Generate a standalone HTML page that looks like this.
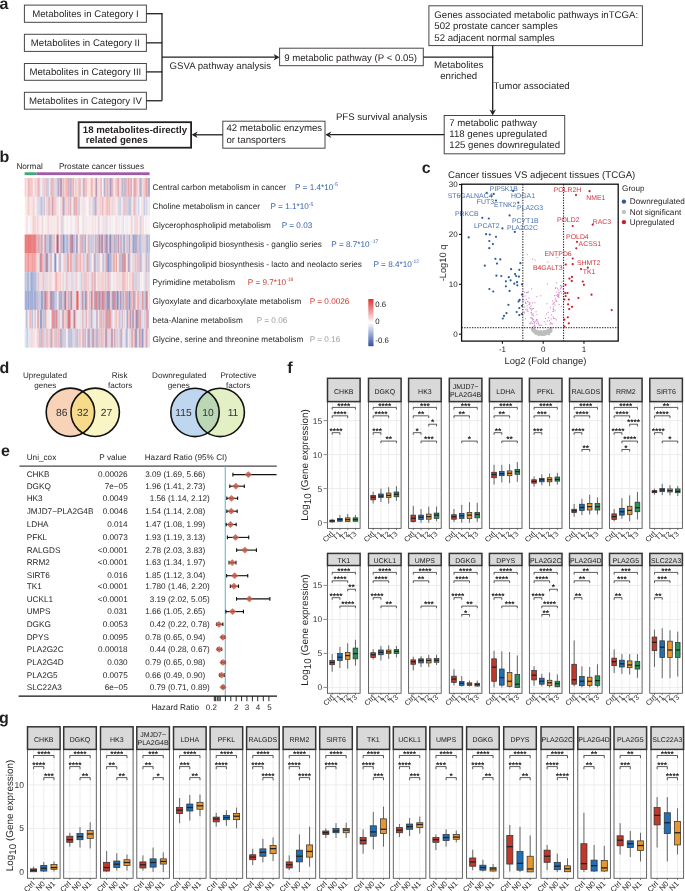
<!DOCTYPE html>
<html><head><meta charset="utf-8"><style>
html,body{margin:0;padding:0;background:#fff;}
svg{display:block;font-family:"Liberation Sans", sans-serif;text-rendering:geometricPrecision;will-change:transform;}
</style></head><body>
<svg width="685" height="891" viewBox="0 0 685 891">
<rect width="685" height="891" fill="#fff"/>
<text x="-0.60" y="8.80" font-size="16" font-weight="bold" fill="#231f20">a</text>
<rect x="24.40" y="5.10" width="122.00" height="17.20" fill="white" stroke="#4a4446" stroke-width="1"/>
<text x="85.40" y="17.10" font-size="9.65" text-anchor="middle" fill="#231f20">Metabolites in Category I</text>
<line x1="146.40" y1="13.70" x2="162.30" y2="13.70" stroke="#231f20" stroke-width="1.3"/>
<rect x="24.40" y="34.30" width="122.00" height="17.10" fill="white" stroke="#4a4446" stroke-width="1"/>
<text x="85.40" y="46.25" font-size="9.65" text-anchor="middle" fill="#231f20">Metabolites in Category II</text>
<line x1="146.40" y1="42.85" x2="162.30" y2="42.85" stroke="#231f20" stroke-width="1.3"/>
<rect x="24.40" y="63.50" width="122.00" height="16.80" fill="white" stroke="#4a4446" stroke-width="1"/>
<text x="85.40" y="75.30" font-size="9.65" text-anchor="middle" fill="#231f20">Metabolites in Category III</text>
<line x1="146.40" y1="71.90" x2="162.30" y2="71.90" stroke="#231f20" stroke-width="1.3"/>
<rect x="24.40" y="92.30" width="122.00" height="16.90" fill="white" stroke="#4a4446" stroke-width="1"/>
<text x="85.40" y="104.15" font-size="9.65" text-anchor="middle" fill="#231f20">Metabolites in Category IV</text>
<line x1="146.40" y1="100.75" x2="162.30" y2="100.75" stroke="#231f20" stroke-width="1.3"/>
<line x1="162.00" y1="13.10" x2="162.00" y2="100.30" stroke="#231f20" stroke-width="1.3"/>
<line x1="162.00" y1="57.20" x2="276.00" y2="57.20" stroke="#231f20" stroke-width="1.3"/>
<path d="M279.60,57.20 L273.60,54.00 L275.40,57.20 L273.60,60.40 Z" fill="#231f20"/>
<text x="169.60" y="68.90" font-size="9.65" fill="#231f20">GSVA pathway analysis</text>
<rect x="279.60" y="48.20" width="143.70" height="17.50" fill="white" stroke="#4a4446" stroke-width="1"/>
<text x="284.20" y="60.50" font-size="9.65" fill="#231f20">9 metabolic pathway (P &lt; 0.05)</text>
<line x1="423.30" y1="57.20" x2="493.40" y2="57.20" stroke="#231f20" stroke-width="1.3"/>
<rect x="428.90" y="5.80" width="213.50" height="39.80" fill="white" stroke="#4a4446" stroke-width="1"/>
<text x="434.30" y="18.30" font-size="9.65" fill="#231f20">Genes associated metabolic pathways inTCGA:</text>
<text x="434.30" y="29.40" font-size="9.65" fill="#231f20">502 prostate cancer samples</text>
<text x="434.30" y="40.50" font-size="9.65" fill="#231f20">52 adjacent normal samples</text>
<line x1="492.70" y1="45.60" x2="492.70" y2="111.00" stroke="#231f20" stroke-width="1.3"/>
<path d="M492.70,115.40 L489.50,109.40 L492.70,111.20 L495.90,109.40 Z" fill="#231f20"/>
<text x="458.70" y="67.80" font-size="9.65" text-anchor="middle" fill="#231f20">Metabolites</text>
<text x="458.70" y="79.30" font-size="9.65" text-anchor="middle" fill="#231f20">enriched</text>
<text x="493.50" y="89.20" font-size="9.65" fill="#231f20">Tumor associated</text>
<rect x="444.20" y="115.50" width="120.50" height="38.30" fill="white" stroke="#4a4446" stroke-width="1"/>
<text x="449.30" y="126.40" font-size="9.65" fill="#231f20">7 metabolic pathway</text>
<text x="449.30" y="137.00" font-size="9.65" fill="#231f20">118 genes upregulated</text>
<text x="449.30" y="147.80" font-size="9.65" fill="#231f20">125 genes downregulated</text>
<line x1="444.20" y1="134.70" x2="330.00" y2="134.70" stroke="#231f20" stroke-width="1.3"/>
<path d="M325.30,134.70 L331.30,131.50 L329.50,134.70 L331.30,137.90 Z" fill="#231f20"/>
<text x="335.90" y="120.20" font-size="9.65" fill="#231f20">PFS survival analysis</text>
<rect x="222.80" y="121.20" width="102.20" height="27.00" fill="white" stroke="#4a4446" stroke-width="1"/>
<text x="226.40" y="131.20" font-size="9.65" fill="#231f20">42 metabolic enzymes</text>
<text x="226.40" y="142.80" font-size="9.65" fill="#231f20">or tansporters</text>
<line x1="222.80" y1="134.80" x2="196.00" y2="134.80" stroke="#231f20" stroke-width="1.3"/>
<path d="M191.60,134.80 L197.60,131.60 L195.80,134.80 L197.60,138.00 Z" fill="#231f20"/>
<rect x="78.60" y="122.20" width="112.50" height="25.50" fill="white" stroke="#231f20" stroke-width="1.8"/>
<text x="82.80" y="132.60" font-size="9.65" font-weight="bold" fill="#231f20">18 metabolites-directly</text>
<text x="85.70" y="143.20" font-size="9.65" font-weight="bold" fill="#231f20">related genes</text>
<text x="-0.60" y="162.20" font-size="16" font-weight="bold" fill="#231f20">b</text>
<text x="16.40" y="168.60" font-size="8.2" fill="#231f20">Normal</text>
<text x="58.90" y="168.60" font-size="8.2" fill="#231f20">Prostate cancer tissues</text>
<rect x="24.60" y="172.30" width="11.80" height="2.80" fill="#3aaa7a" stroke="none" stroke-width="1"/>
<rect x="36.40" y="172.30" width="113.20" height="2.80" fill="#a15aa8" stroke="none" stroke-width="1"/>
<rect x="24.70" y="178.00" width="1.02" height="18.86" fill="rgb(246,193,193)"/>
<rect x="25.70" y="178.00" width="1.02" height="18.86" fill="rgb(249,212,212)"/>
<rect x="26.70" y="178.00" width="1.02" height="18.86" fill="rgb(251,227,227)"/>
<rect x="27.70" y="178.00" width="1.02" height="18.86" fill="rgb(242,162,162)"/>
<rect x="28.70" y="178.00" width="1.02" height="18.86" fill="rgb(242,168,168)"/>
<rect x="29.70" y="178.00" width="1.02" height="18.86" fill="rgb(245,185,185)"/>
<rect x="30.70" y="178.00" width="1.02" height="18.86" fill="rgb(235,196,201)"/>
<rect x="31.70" y="178.00" width="1.02" height="18.86" fill="rgb(243,175,175)"/>
<rect x="32.70" y="178.00" width="1.02" height="18.86" fill="rgb(227,231,242)"/>
<rect x="33.70" y="178.00" width="1.02" height="18.86" fill="rgb(251,232,232)"/>
<rect x="34.70" y="178.00" width="1.02" height="18.86" fill="rgb(246,193,193)"/>
<rect x="35.70" y="178.00" width="1.02" height="18.86" fill="rgb(247,202,202)"/>
<rect x="36.70" y="178.00" width="1.02" height="18.86" fill="rgb(248,210,210)"/>
<rect x="37.70" y="178.00" width="1.02" height="18.86" fill="rgb(222,155,164)"/>
<rect x="38.70" y="178.00" width="1.02" height="18.86" fill="rgb(242,165,165)"/>
<rect x="39.70" y="178.00" width="1.02" height="18.86" fill="rgb(211,217,235)"/>
<rect x="40.70" y="178.00" width="1.02" height="18.86" fill="rgb(246,245,249)"/>
<rect x="41.70" y="178.00" width="1.02" height="18.86" fill="rgb(247,203,203)"/>
<rect x="42.70" y="178.00" width="1.02" height="18.86" fill="rgb(209,215,234)"/>
<rect x="43.70" y="178.00" width="1.02" height="18.86" fill="rgb(231,182,188)"/>
<rect x="44.70" y="178.00" width="1.02" height="18.86" fill="rgb(225,213,225)"/>
<rect x="45.70" y="178.00" width="1.02" height="18.86" fill="rgb(195,181,204)"/>
<rect x="46.70" y="178.00" width="1.02" height="18.86" fill="rgb(244,182,182)"/>
<rect x="47.70" y="178.00" width="1.02" height="18.86" fill="rgb(169,181,216)"/>
<rect x="48.70" y="178.00" width="1.02" height="18.86" fill="rgb(226,228,240)"/>
<rect x="49.70" y="178.00" width="1.02" height="18.86" fill="rgb(250,222,222)"/>
<rect x="50.70" y="178.00" width="1.02" height="18.86" fill="rgb(193,164,187)"/>
<rect x="51.70" y="178.00" width="1.02" height="18.86" fill="rgb(243,171,171)"/>
<rect x="52.70" y="178.00" width="1.02" height="18.86" fill="rgb(242,163,163)"/>
<rect x="53.70" y="178.00" width="1.02" height="18.86" fill="rgb(205,201,221)"/>
<rect x="54.70" y="178.00" width="1.02" height="18.86" fill="rgb(231,205,212)"/>
<rect x="55.70" y="178.00" width="1.02" height="18.86" fill="rgb(195,204,228)"/>
<rect x="56.70" y="178.00" width="1.02" height="18.86" fill="rgb(205,212,232)"/>
<rect x="57.70" y="178.00" width="1.02" height="18.86" fill="rgb(167,124,157)"/>
<rect x="58.70" y="178.00" width="1.02" height="18.86" fill="rgb(197,190,213)"/>
<rect x="59.70" y="178.00" width="1.02" height="18.86" fill="rgb(240,154,154)"/>
<rect x="60.70" y="178.00" width="1.02" height="18.86" fill="rgb(81,105,177)"/>
<rect x="61.70" y="178.00" width="1.02" height="18.86" fill="rgb(227,211,221)"/>
<rect x="62.70" y="178.00" width="1.02" height="18.86" fill="rgb(207,170,187)"/>
<rect x="63.70" y="178.00" width="1.02" height="18.86" fill="rgb(245,186,186)"/>
<rect x="64.70" y="178.00" width="1.02" height="18.86" fill="rgb(248,211,211)"/>
<rect x="65.70" y="178.00" width="1.02" height="18.86" fill="rgb(239,145,145)"/>
<rect x="66.70" y="178.00" width="1.02" height="18.86" fill="rgb(246,195,195)"/>
<rect x="67.70" y="178.00" width="1.02" height="18.86" fill="rgb(186,141,166)"/>
<rect x="68.70" y="178.00" width="1.02" height="18.86" fill="rgb(244,177,177)"/>
<rect x="69.70" y="178.00" width="1.02" height="18.86" fill="rgb(158,171,211)"/>
<rect x="70.70" y="178.00" width="1.02" height="18.86" fill="rgb(179,151,180)"/>
<rect x="71.70" y="178.00" width="1.02" height="18.86" fill="rgb(246,203,203)"/>
<rect x="72.70" y="178.00" width="1.02" height="18.86" fill="rgb(195,136,156)"/>
<rect x="73.70" y="178.00" width="1.02" height="18.86" fill="rgb(250,223,223)"/>
<rect x="74.70" y="178.00" width="1.02" height="18.86" fill="rgb(247,199,199)"/>
<rect x="75.70" y="178.00" width="1.02" height="18.86" fill="rgb(245,186,186)"/>
<rect x="76.70" y="178.00" width="1.02" height="18.86" fill="rgb(223,227,240)"/>
<rect x="77.70" y="178.00" width="1.02" height="18.86" fill="rgb(246,195,195)"/>
<rect x="78.70" y="178.00" width="1.02" height="18.86" fill="rgb(217,181,193)"/>
<rect x="79.70" y="178.00" width="1.02" height="18.86" fill="rgb(233,174,179)"/>
<rect x="80.70" y="178.00" width="1.02" height="18.86" fill="rgb(203,209,230)"/>
<rect x="81.70" y="178.00" width="1.02" height="18.86" fill="rgb(249,249,251)"/>
<rect x="82.70" y="178.00" width="1.02" height="18.86" fill="rgb(208,155,171)"/>
<rect x="83.70" y="178.00" width="1.02" height="18.86" fill="rgb(199,153,172)"/>
<rect x="84.70" y="178.00" width="1.02" height="18.86" fill="rgb(223,198,208)"/>
<rect x="85.70" y="178.00" width="1.02" height="18.86" fill="rgb(241,155,155)"/>
<rect x="86.70" y="178.00" width="1.02" height="18.86" fill="rgb(250,220,220)"/>
<rect x="87.70" y="178.00" width="1.02" height="18.86" fill="rgb(248,209,209)"/>
<rect x="88.70" y="178.00" width="1.02" height="18.86" fill="rgb(251,235,235)"/>
<rect x="89.70" y="178.00" width="1.02" height="18.86" fill="rgb(249,216,216)"/>
<rect x="90.70" y="178.00" width="1.02" height="18.86" fill="rgb(245,183,183)"/>
<rect x="91.70" y="178.00" width="1.02" height="18.86" fill="rgb(238,140,140)"/>
<rect x="92.70" y="178.00" width="1.02" height="18.86" fill="rgb(234,237,245)"/>
<rect x="93.70" y="178.00" width="1.02" height="18.86" fill="rgb(247,201,201)"/>
<rect x="94.70" y="178.00" width="1.02" height="18.86" fill="rgb(244,225,228)"/>
<rect x="95.70" y="178.00" width="1.02" height="18.86" fill="rgb(141,81,123)"/>
<rect x="96.70" y="178.00" width="1.02" height="18.86" fill="rgb(211,202,219)"/>
<rect x="97.70" y="178.00" width="1.02" height="18.86" fill="rgb(249,213,213)"/>
<rect x="98.70" y="178.00" width="1.02" height="18.86" fill="rgb(238,209,214)"/>
<rect x="99.70" y="178.00" width="1.02" height="18.86" fill="rgb(237,222,229)"/>
<rect x="100.70" y="178.00" width="1.02" height="18.86" fill="rgb(237,129,129)"/>
<rect x="101.70" y="178.00" width="1.02" height="18.86" fill="rgb(237,238,244)"/>
<rect x="102.70" y="178.00" width="1.02" height="18.86" fill="rgb(251,248,249)"/>
<rect x="103.70" y="178.00" width="1.02" height="18.86" fill="rgb(139,155,203)"/>
<rect x="104.70" y="178.00" width="1.02" height="18.86" fill="rgb(205,167,185)"/>
<rect x="105.70" y="178.00" width="1.02" height="18.86" fill="rgb(247,202,202)"/>
<rect x="106.70" y="178.00" width="1.02" height="18.86" fill="rgb(238,139,139)"/>
<rect x="107.70" y="178.00" width="1.02" height="18.86" fill="rgb(181,191,222)"/>
<rect x="108.70" y="178.00" width="1.02" height="18.86" fill="rgb(242,214,217)"/>
<rect x="109.70" y="178.00" width="1.02" height="18.86" fill="rgb(145,113,155)"/>
<rect x="110.70" y="178.00" width="1.02" height="18.86" fill="rgb(193,154,176)"/>
<rect x="111.70" y="178.00" width="1.02" height="18.86" fill="rgb(193,170,193)"/>
<rect x="112.70" y="178.00" width="1.02" height="18.86" fill="rgb(244,182,182)"/>
<rect x="113.70" y="178.00" width="1.02" height="18.86" fill="rgb(252,239,239)"/>
<rect x="114.70" y="178.00" width="1.02" height="18.86" fill="rgb(247,200,200)"/>
<rect x="115.70" y="178.00" width="1.02" height="18.86" fill="rgb(244,178,178)"/>
<rect x="116.70" y="178.00" width="1.02" height="18.86" fill="rgb(242,198,200)"/>
<rect x="117.70" y="178.00" width="1.02" height="18.86" fill="rgb(198,115,132)"/>
<rect x="118.70" y="178.00" width="1.02" height="18.86" fill="rgb(244,204,206)"/>
<rect x="119.70" y="178.00" width="1.02" height="18.86" fill="rgb(248,205,205)"/>
<rect x="120.70" y="178.00" width="1.02" height="18.86" fill="rgb(247,204,204)"/>
<rect x="121.70" y="178.00" width="1.02" height="18.86" fill="rgb(140,155,203)"/>
<rect x="122.70" y="178.00" width="1.02" height="18.86" fill="rgb(216,192,206)"/>
<rect x="123.70" y="178.00" width="1.02" height="18.86" fill="rgb(162,175,213)"/>
<rect x="124.70" y="178.00" width="1.02" height="18.86" fill="rgb(240,154,154)"/>
<rect x="125.70" y="178.00" width="1.02" height="18.86" fill="rgb(212,156,169)"/>
<rect x="126.70" y="178.00" width="1.02" height="18.86" fill="rgb(212,212,229)"/>
<rect x="127.70" y="178.00" width="1.02" height="18.86" fill="rgb(238,139,139)"/>
<rect x="128.70" y="178.00" width="1.02" height="18.86" fill="rgb(213,154,166)"/>
<rect x="129.70" y="178.00" width="1.02" height="18.86" fill="rgb(247,204,205)"/>
<rect x="130.70" y="178.00" width="1.02" height="18.86" fill="rgb(168,121,153)"/>
<rect x="131.70" y="178.00" width="1.02" height="18.86" fill="rgb(235,236,243)"/>
<rect x="132.70" y="178.00" width="1.02" height="18.86" fill="rgb(248,206,206)"/>
<rect x="133.70" y="178.00" width="1.02" height="18.86" fill="rgb(208,152,167)"/>
<rect x="134.70" y="178.00" width="1.02" height="18.86" fill="rgb(237,128,128)"/>
<rect x="135.70" y="178.00" width="1.02" height="18.86" fill="rgb(244,184,185)"/>
<rect x="136.70" y="178.00" width="1.02" height="18.86" fill="rgb(223,182,193)"/>
<rect x="137.70" y="178.00" width="1.02" height="18.86" fill="rgb(251,230,230)"/>
<rect x="138.70" y="178.00" width="1.02" height="18.86" fill="rgb(241,182,184)"/>
<rect x="139.70" y="178.00" width="1.02" height="18.86" fill="rgb(155,168,210)"/>
<rect x="140.70" y="178.00" width="1.02" height="18.86" fill="rgb(177,151,180)"/>
<rect x="141.70" y="178.00" width="1.02" height="18.86" fill="rgb(233,217,225)"/>
<rect x="142.70" y="178.00" width="1.02" height="18.86" fill="rgb(248,205,205)"/>
<rect x="143.70" y="178.00" width="1.02" height="18.86" fill="rgb(244,180,180)"/>
<rect x="144.70" y="178.00" width="1.02" height="18.86" fill="rgb(247,198,198)"/>
<rect x="145.70" y="178.00" width="1.02" height="18.86" fill="rgb(234,107,107)"/>
<rect x="146.70" y="178.00" width="1.02" height="18.86" fill="rgb(227,191,200)"/>
<rect x="147.70" y="178.00" width="1.02" height="18.86" fill="rgb(143,158,204)"/>
<rect x="148.70" y="178.00" width="1.02" height="18.86" fill="rgb(171,136,167)"/>
<rect x="24.70" y="196.84" width="1.02" height="18.86" fill="rgb(248,234,236)"/>
<rect x="25.70" y="196.84" width="1.02" height="18.86" fill="rgb(250,224,224)"/>
<rect x="26.70" y="196.84" width="1.02" height="18.86" fill="rgb(251,226,226)"/>
<rect x="27.70" y="196.84" width="1.02" height="18.86" fill="rgb(245,188,188)"/>
<rect x="28.70" y="196.84" width="1.02" height="18.86" fill="rgb(246,194,194)"/>
<rect x="29.70" y="196.84" width="1.02" height="18.86" fill="rgb(248,237,239)"/>
<rect x="30.70" y="196.84" width="1.02" height="18.86" fill="rgb(248,211,211)"/>
<rect x="31.70" y="196.84" width="1.02" height="18.86" fill="rgb(243,238,243)"/>
<rect x="32.70" y="196.84" width="1.02" height="18.86" fill="rgb(245,189,189)"/>
<rect x="33.70" y="196.84" width="1.02" height="18.86" fill="rgb(248,206,206)"/>
<rect x="34.70" y="196.84" width="1.02" height="18.86" fill="rgb(249,232,233)"/>
<rect x="35.70" y="196.84" width="1.02" height="18.86" fill="rgb(244,240,244)"/>
<rect x="36.70" y="196.84" width="1.02" height="18.86" fill="rgb(234,206,212)"/>
<rect x="37.70" y="196.84" width="1.02" height="18.86" fill="rgb(205,212,232)"/>
<rect x="38.70" y="196.84" width="1.02" height="18.86" fill="rgb(205,212,233)"/>
<rect x="39.70" y="196.84" width="1.02" height="18.86" fill="rgb(216,207,222)"/>
<rect x="40.70" y="196.84" width="1.02" height="18.86" fill="rgb(176,174,205)"/>
<rect x="41.70" y="196.84" width="1.02" height="18.86" fill="rgb(174,185,218)"/>
<rect x="42.70" y="196.84" width="1.02" height="18.86" fill="rgb(245,221,223)"/>
<rect x="43.70" y="196.84" width="1.02" height="18.86" fill="rgb(156,170,210)"/>
<rect x="44.70" y="196.84" width="1.02" height="18.86" fill="rgb(240,231,236)"/>
<rect x="45.70" y="196.84" width="1.02" height="18.86" fill="rgb(246,195,195)"/>
<rect x="46.70" y="196.84" width="1.02" height="18.86" fill="rgb(249,213,213)"/>
<rect x="47.70" y="196.84" width="1.02" height="18.86" fill="rgb(244,179,179)"/>
<rect x="48.70" y="196.84" width="1.02" height="18.86" fill="rgb(185,178,205)"/>
<rect x="49.70" y="196.84" width="1.02" height="18.86" fill="rgb(243,171,171)"/>
<rect x="50.70" y="196.84" width="1.02" height="18.86" fill="rgb(235,238,246)"/>
<rect x="51.70" y="196.84" width="1.02" height="18.86" fill="rgb(189,136,159)"/>
<rect x="52.70" y="196.84" width="1.02" height="18.86" fill="rgb(240,148,148)"/>
<rect x="53.70" y="196.84" width="1.02" height="18.86" fill="rgb(223,203,215)"/>
<rect x="54.70" y="196.84" width="1.02" height="18.86" fill="rgb(244,185,186)"/>
<rect x="55.70" y="196.84" width="1.02" height="18.86" fill="rgb(246,197,197)"/>
<rect x="56.70" y="196.84" width="1.02" height="18.86" fill="rgb(227,231,242)"/>
<rect x="57.70" y="196.84" width="1.02" height="18.86" fill="rgb(248,209,209)"/>
<rect x="58.70" y="196.84" width="1.02" height="18.86" fill="rgb(251,249,251)"/>
<rect x="59.70" y="196.84" width="1.02" height="18.86" fill="rgb(215,220,237)"/>
<rect x="60.70" y="196.84" width="1.02" height="18.86" fill="rgb(249,213,213)"/>
<rect x="61.70" y="196.84" width="1.02" height="18.86" fill="rgb(204,211,232)"/>
<rect x="62.70" y="196.84" width="1.02" height="18.86" fill="rgb(235,116,116)"/>
<rect x="63.70" y="196.84" width="1.02" height="18.86" fill="rgb(167,156,191)"/>
<rect x="64.70" y="196.84" width="1.02" height="18.86" fill="rgb(248,210,210)"/>
<rect x="65.70" y="196.84" width="1.02" height="18.86" fill="rgb(243,175,175)"/>
<rect x="66.70" y="196.84" width="1.02" height="18.86" fill="rgb(251,232,232)"/>
<rect x="67.70" y="196.84" width="1.02" height="18.86" fill="rgb(187,162,187)"/>
<rect x="68.70" y="196.84" width="1.02" height="18.86" fill="rgb(232,222,231)"/>
<rect x="69.70" y="196.84" width="1.02" height="18.86" fill="rgb(238,139,139)"/>
<rect x="70.70" y="196.84" width="1.02" height="18.86" fill="rgb(191,200,226)"/>
<rect x="71.70" y="196.84" width="1.02" height="18.86" fill="rgb(251,231,231)"/>
<rect x="72.70" y="196.84" width="1.02" height="18.86" fill="rgb(215,220,237)"/>
<rect x="73.70" y="196.84" width="1.02" height="18.86" fill="rgb(238,139,139)"/>
<rect x="74.70" y="196.84" width="1.02" height="18.86" fill="rgb(175,186,219)"/>
<rect x="75.70" y="196.84" width="1.02" height="18.86" fill="rgb(241,155,155)"/>
<rect x="76.70" y="196.84" width="1.02" height="18.86" fill="rgb(241,157,157)"/>
<rect x="77.70" y="196.84" width="1.02" height="18.86" fill="rgb(227,220,230)"/>
<rect x="78.70" y="196.84" width="1.02" height="18.86" fill="rgb(163,176,213)"/>
<rect x="79.70" y="196.84" width="1.02" height="18.86" fill="rgb(251,232,232)"/>
<rect x="80.70" y="196.84" width="1.02" height="18.86" fill="rgb(232,235,245)"/>
<rect x="81.70" y="196.84" width="1.02" height="18.86" fill="rgb(249,219,219)"/>
<rect x="82.70" y="196.84" width="1.02" height="18.86" fill="rgb(249,218,218)"/>
<rect x="83.70" y="196.84" width="1.02" height="18.86" fill="rgb(243,217,220)"/>
<rect x="84.70" y="196.84" width="1.02" height="18.86" fill="rgb(229,228,238)"/>
<rect x="85.70" y="196.84" width="1.02" height="18.86" fill="rgb(236,236,243)"/>
<rect x="86.70" y="196.84" width="1.02" height="18.86" fill="rgb(253,245,245)"/>
<rect x="87.70" y="196.84" width="1.02" height="18.86" fill="rgb(253,242,242)"/>
<rect x="88.70" y="196.84" width="1.02" height="18.86" fill="rgb(214,220,236)"/>
<rect x="89.70" y="196.84" width="1.02" height="18.86" fill="rgb(246,197,197)"/>
<rect x="90.70" y="196.84" width="1.02" height="18.86" fill="rgb(249,233,235)"/>
<rect x="91.70" y="196.84" width="1.02" height="18.86" fill="rgb(223,210,223)"/>
<rect x="92.70" y="196.84" width="1.02" height="18.86" fill="rgb(193,197,222)"/>
<rect x="93.70" y="196.84" width="1.02" height="18.86" fill="rgb(222,201,213)"/>
<rect x="94.70" y="196.84" width="1.02" height="18.86" fill="rgb(136,152,201)"/>
<rect x="95.70" y="196.84" width="1.02" height="18.86" fill="rgb(215,169,182)"/>
<rect x="96.70" y="196.84" width="1.02" height="18.86" fill="rgb(202,209,231)"/>
<rect x="97.70" y="196.84" width="1.02" height="18.86" fill="rgb(229,214,223)"/>
<rect x="98.70" y="196.84" width="1.02" height="18.86" fill="rgb(250,224,224)"/>
<rect x="99.70" y="196.84" width="1.02" height="18.86" fill="rgb(243,172,172)"/>
<rect x="100.70" y="196.84" width="1.02" height="18.86" fill="rgb(251,228,228)"/>
<rect x="101.70" y="196.84" width="1.02" height="18.86" fill="rgb(241,157,157)"/>
<rect x="102.70" y="196.84" width="1.02" height="18.86" fill="rgb(216,187,201)"/>
<rect x="103.70" y="196.84" width="1.02" height="18.86" fill="rgb(249,224,225)"/>
<rect x="104.70" y="196.84" width="1.02" height="18.86" fill="rgb(242,208,211)"/>
<rect x="105.70" y="196.84" width="1.02" height="18.86" fill="rgb(246,196,196)"/>
<rect x="106.70" y="196.84" width="1.02" height="18.86" fill="rgb(238,160,161)"/>
<rect x="107.70" y="196.84" width="1.02" height="18.86" fill="rgb(244,205,207)"/>
<rect x="108.70" y="196.84" width="1.02" height="18.86" fill="rgb(241,155,155)"/>
<rect x="109.70" y="196.84" width="1.02" height="18.86" fill="rgb(242,214,217)"/>
<rect x="110.70" y="196.84" width="1.02" height="18.86" fill="rgb(249,214,214)"/>
<rect x="111.70" y="196.84" width="1.02" height="18.86" fill="rgb(217,213,228)"/>
<rect x="112.70" y="196.84" width="1.02" height="18.86" fill="rgb(246,196,196)"/>
<rect x="113.70" y="196.84" width="1.02" height="18.86" fill="rgb(250,220,220)"/>
<rect x="114.70" y="196.84" width="1.02" height="18.86" fill="rgb(247,200,200)"/>
<rect x="115.70" y="196.84" width="1.02" height="18.86" fill="rgb(252,239,239)"/>
<rect x="116.70" y="196.84" width="1.02" height="18.86" fill="rgb(246,223,225)"/>
<rect x="117.70" y="196.84" width="1.02" height="18.86" fill="rgb(204,211,232)"/>
<rect x="118.70" y="196.84" width="1.02" height="18.86" fill="rgb(208,211,230)"/>
<rect x="119.70" y="196.84" width="1.02" height="18.86" fill="rgb(179,189,220)"/>
<rect x="120.70" y="196.84" width="1.02" height="18.86" fill="rgb(232,214,223)"/>
<rect x="121.70" y="196.84" width="1.02" height="18.86" fill="rgb(251,230,230)"/>
<rect x="122.70" y="196.84" width="1.02" height="18.86" fill="rgb(205,212,233)"/>
<rect x="123.70" y="196.84" width="1.02" height="18.86" fill="rgb(242,167,167)"/>
<rect x="124.70" y="196.84" width="1.02" height="18.86" fill="rgb(222,191,201)"/>
<rect x="125.70" y="196.84" width="1.02" height="18.86" fill="rgb(193,202,227)"/>
<rect x="126.70" y="196.84" width="1.02" height="18.86" fill="rgb(245,188,188)"/>
<rect x="127.70" y="196.84" width="1.02" height="18.86" fill="rgb(193,200,226)"/>
<rect x="128.70" y="196.84" width="1.02" height="18.86" fill="rgb(195,181,204)"/>
<rect x="129.70" y="196.84" width="1.02" height="18.86" fill="rgb(163,176,214)"/>
<rect x="130.70" y="196.84" width="1.02" height="18.86" fill="rgb(193,201,227)"/>
<rect x="131.70" y="196.84" width="1.02" height="18.86" fill="rgb(252,238,238)"/>
<rect x="132.70" y="196.84" width="1.02" height="18.86" fill="rgb(247,202,202)"/>
<rect x="133.70" y="196.84" width="1.02" height="18.86" fill="rgb(241,156,156)"/>
<rect x="134.70" y="196.84" width="1.02" height="18.86" fill="rgb(200,207,230)"/>
<rect x="135.70" y="196.84" width="1.02" height="18.86" fill="rgb(189,198,225)"/>
<rect x="136.70" y="196.84" width="1.02" height="18.86" fill="rgb(254,250,250)"/>
<rect x="137.70" y="196.84" width="1.02" height="18.86" fill="rgb(201,191,212)"/>
<rect x="138.70" y="196.84" width="1.02" height="18.86" fill="rgb(216,219,235)"/>
<rect x="139.70" y="196.84" width="1.02" height="18.86" fill="rgb(244,245,250)"/>
<rect x="140.70" y="196.84" width="1.02" height="18.86" fill="rgb(232,234,243)"/>
<rect x="141.70" y="196.84" width="1.02" height="18.86" fill="rgb(248,211,211)"/>
<rect x="142.70" y="196.84" width="1.02" height="18.86" fill="rgb(235,237,245)"/>
<rect x="143.70" y="196.84" width="1.02" height="18.86" fill="rgb(163,176,214)"/>
<rect x="144.70" y="196.84" width="1.02" height="18.86" fill="rgb(224,224,236)"/>
<rect x="145.70" y="196.84" width="1.02" height="18.86" fill="rgb(206,203,223)"/>
<rect x="146.70" y="196.84" width="1.02" height="18.86" fill="rgb(210,209,227)"/>
<rect x="147.70" y="196.84" width="1.02" height="18.86" fill="rgb(242,244,249)"/>
<rect x="148.70" y="196.84" width="1.02" height="18.86" fill="rgb(248,211,211)"/>
<rect x="24.70" y="215.68" width="1.02" height="18.86" fill="rgb(252,241,241)"/>
<rect x="25.70" y="215.68" width="1.02" height="18.86" fill="rgb(251,231,231)"/>
<rect x="26.70" y="215.68" width="1.02" height="18.86" fill="rgb(248,209,209)"/>
<rect x="27.70" y="215.68" width="1.02" height="18.86" fill="rgb(245,245,249)"/>
<rect x="28.70" y="215.68" width="1.02" height="18.86" fill="rgb(253,246,246)"/>
<rect x="29.70" y="215.68" width="1.02" height="18.86" fill="rgb(248,238,240)"/>
<rect x="30.70" y="215.68" width="1.02" height="18.86" fill="rgb(252,234,234)"/>
<rect x="31.70" y="215.68" width="1.02" height="18.86" fill="rgb(250,225,225)"/>
<rect x="32.70" y="215.68" width="1.02" height="18.86" fill="rgb(246,192,192)"/>
<rect x="33.70" y="215.68" width="1.02" height="18.86" fill="rgb(248,206,206)"/>
<rect x="34.70" y="215.68" width="1.02" height="18.86" fill="rgb(223,198,209)"/>
<rect x="35.70" y="215.68" width="1.02" height="18.86" fill="rgb(252,236,236)"/>
<rect x="36.70" y="215.68" width="1.02" height="18.86" fill="rgb(246,191,191)"/>
<rect x="37.70" y="215.68" width="1.02" height="18.86" fill="rgb(249,217,217)"/>
<rect x="38.70" y="215.68" width="1.02" height="18.86" fill="rgb(249,214,214)"/>
<rect x="39.70" y="215.68" width="1.02" height="18.86" fill="rgb(253,241,241)"/>
<rect x="40.70" y="215.68" width="1.02" height="18.86" fill="rgb(235,226,233)"/>
<rect x="41.70" y="215.68" width="1.02" height="18.86" fill="rgb(235,214,221)"/>
<rect x="42.70" y="215.68" width="1.02" height="18.86" fill="rgb(247,202,202)"/>
<rect x="43.70" y="215.68" width="1.02" height="18.86" fill="rgb(253,250,250)"/>
<rect x="44.70" y="215.68" width="1.02" height="18.86" fill="rgb(250,225,225)"/>
<rect x="45.70" y="215.68" width="1.02" height="18.86" fill="rgb(241,236,241)"/>
<rect x="46.70" y="215.68" width="1.02" height="18.86" fill="rgb(250,223,223)"/>
<rect x="47.70" y="215.68" width="1.02" height="18.86" fill="rgb(238,207,212)"/>
<rect x="48.70" y="215.68" width="1.02" height="18.86" fill="rgb(249,215,215)"/>
<rect x="49.70" y="215.68" width="1.02" height="18.86" fill="rgb(249,242,244)"/>
<rect x="50.70" y="215.68" width="1.02" height="18.86" fill="rgb(240,215,219)"/>
<rect x="51.70" y="215.68" width="1.02" height="18.86" fill="rgb(246,233,235)"/>
<rect x="52.70" y="215.68" width="1.02" height="18.86" fill="rgb(242,229,233)"/>
<rect x="53.70" y="215.68" width="1.02" height="18.86" fill="rgb(250,222,222)"/>
<rect x="54.70" y="215.68" width="1.02" height="18.86" fill="rgb(242,227,231)"/>
<rect x="55.70" y="215.68" width="1.02" height="18.86" fill="rgb(253,243,243)"/>
<rect x="56.70" y="215.68" width="1.02" height="18.86" fill="rgb(246,196,196)"/>
<rect x="57.70" y="215.68" width="1.02" height="18.86" fill="rgb(241,201,204)"/>
<rect x="58.70" y="215.68" width="1.02" height="18.86" fill="rgb(251,232,232)"/>
<rect x="59.70" y="215.68" width="1.02" height="18.86" fill="rgb(245,244,248)"/>
<rect x="60.70" y="215.68" width="1.02" height="18.86" fill="rgb(219,191,203)"/>
<rect x="61.70" y="215.68" width="1.02" height="18.86" fill="rgb(231,208,216)"/>
<rect x="62.70" y="215.68" width="1.02" height="18.86" fill="rgb(202,209,231)"/>
<rect x="63.70" y="215.68" width="1.02" height="18.86" fill="rgb(245,224,226)"/>
<rect x="64.70" y="215.68" width="1.02" height="18.86" fill="rgb(252,250,251)"/>
<rect x="65.70" y="215.68" width="1.02" height="18.86" fill="rgb(237,238,246)"/>
<rect x="66.70" y="215.68" width="1.02" height="18.86" fill="rgb(230,230,240)"/>
<rect x="67.70" y="215.68" width="1.02" height="18.86" fill="rgb(253,243,243)"/>
<rect x="68.70" y="215.68" width="1.02" height="18.86" fill="rgb(252,241,242)"/>
<rect x="69.70" y="215.68" width="1.02" height="18.86" fill="rgb(240,236,242)"/>
<rect x="70.70" y="215.68" width="1.02" height="18.86" fill="rgb(244,216,218)"/>
<rect x="71.70" y="215.68" width="1.02" height="18.86" fill="rgb(252,235,235)"/>
<rect x="72.70" y="215.68" width="1.02" height="18.86" fill="rgb(239,241,248)"/>
<rect x="73.70" y="215.68" width="1.02" height="18.86" fill="rgb(237,239,247)"/>
<rect x="74.70" y="215.68" width="1.02" height="18.86" fill="rgb(251,232,232)"/>
<rect x="75.70" y="215.68" width="1.02" height="18.86" fill="rgb(246,196,196)"/>
<rect x="76.70" y="215.68" width="1.02" height="18.86" fill="rgb(244,242,246)"/>
<rect x="77.70" y="215.68" width="1.02" height="18.86" fill="rgb(214,169,182)"/>
<rect x="78.70" y="215.68" width="1.02" height="18.86" fill="rgb(247,242,245)"/>
<rect x="79.70" y="215.68" width="1.02" height="18.86" fill="rgb(252,237,237)"/>
<rect x="80.70" y="215.68" width="1.02" height="18.86" fill="rgb(252,243,243)"/>
<rect x="81.70" y="215.68" width="1.02" height="18.86" fill="rgb(251,232,232)"/>
<rect x="82.70" y="215.68" width="1.02" height="18.86" fill="rgb(208,215,234)"/>
<rect x="83.70" y="215.68" width="1.02" height="18.86" fill="rgb(238,237,244)"/>
<rect x="84.70" y="215.68" width="1.02" height="18.86" fill="rgb(236,225,231)"/>
<rect x="85.70" y="215.68" width="1.02" height="18.86" fill="rgb(243,231,235)"/>
<rect x="86.70" y="215.68" width="1.02" height="18.86" fill="rgb(251,227,227)"/>
<rect x="87.70" y="215.68" width="1.02" height="18.86" fill="rgb(252,240,240)"/>
<rect x="88.70" y="215.68" width="1.02" height="18.86" fill="rgb(231,231,241)"/>
<rect x="89.70" y="215.68" width="1.02" height="18.86" fill="rgb(246,236,239)"/>
<rect x="90.70" y="215.68" width="1.02" height="18.86" fill="rgb(252,235,235)"/>
<rect x="91.70" y="215.68" width="1.02" height="18.86" fill="rgb(239,227,233)"/>
<rect x="92.70" y="215.68" width="1.02" height="18.86" fill="rgb(242,209,212)"/>
<rect x="93.70" y="215.68" width="1.02" height="18.86" fill="rgb(254,248,248)"/>
<rect x="94.70" y="215.68" width="1.02" height="18.86" fill="rgb(248,212,212)"/>
<rect x="95.70" y="215.68" width="1.02" height="18.86" fill="rgb(242,225,229)"/>
<rect x="96.70" y="215.68" width="1.02" height="18.86" fill="rgb(254,248,248)"/>
<rect x="97.70" y="215.68" width="1.02" height="18.86" fill="rgb(220,197,209)"/>
<rect x="98.70" y="215.68" width="1.02" height="18.86" fill="rgb(222,208,220)"/>
<rect x="99.70" y="215.68" width="1.02" height="18.86" fill="rgb(252,236,236)"/>
<rect x="100.70" y="215.68" width="1.02" height="18.86" fill="rgb(251,232,232)"/>
<rect x="101.70" y="215.68" width="1.02" height="18.86" fill="rgb(229,232,243)"/>
<rect x="102.70" y="215.68" width="1.02" height="18.86" fill="rgb(242,216,219)"/>
<rect x="103.70" y="215.68" width="1.02" height="18.86" fill="rgb(216,221,237)"/>
<rect x="104.70" y="215.68" width="1.02" height="18.86" fill="rgb(233,227,236)"/>
<rect x="105.70" y="215.68" width="1.02" height="18.86" fill="rgb(248,206,206)"/>
<rect x="106.70" y="215.68" width="1.02" height="18.86" fill="rgb(247,199,199)"/>
<rect x="107.70" y="215.68" width="1.02" height="18.86" fill="rgb(239,241,247)"/>
<rect x="108.70" y="215.68" width="1.02" height="18.86" fill="rgb(251,227,227)"/>
<rect x="109.70" y="215.68" width="1.02" height="18.86" fill="rgb(220,224,239)"/>
<rect x="110.70" y="215.68" width="1.02" height="18.86" fill="rgb(252,237,237)"/>
<rect x="111.70" y="215.68" width="1.02" height="18.86" fill="rgb(233,236,245)"/>
<rect x="112.70" y="215.68" width="1.02" height="18.86" fill="rgb(246,236,239)"/>
<rect x="113.70" y="215.68" width="1.02" height="18.86" fill="rgb(254,252,252)"/>
<rect x="114.70" y="215.68" width="1.02" height="18.86" fill="rgb(248,228,229)"/>
<rect x="115.70" y="215.68" width="1.02" height="18.86" fill="rgb(247,221,222)"/>
<rect x="116.70" y="215.68" width="1.02" height="18.86" fill="rgb(241,225,230)"/>
<rect x="117.70" y="215.68" width="1.02" height="18.86" fill="rgb(251,232,232)"/>
<rect x="118.70" y="215.68" width="1.02" height="18.86" fill="rgb(246,218,220)"/>
<rect x="119.70" y="215.68" width="1.02" height="18.86" fill="rgb(253,245,245)"/>
<rect x="120.70" y="215.68" width="1.02" height="18.86" fill="rgb(229,229,239)"/>
<rect x="121.70" y="215.68" width="1.02" height="18.86" fill="rgb(244,236,240)"/>
<rect x="122.70" y="215.68" width="1.02" height="18.86" fill="rgb(202,209,231)"/>
<rect x="123.70" y="215.68" width="1.02" height="18.86" fill="rgb(253,242,242)"/>
<rect x="124.70" y="215.68" width="1.02" height="18.86" fill="rgb(245,228,231)"/>
<rect x="125.70" y="215.68" width="1.02" height="18.86" fill="rgb(245,246,250)"/>
<rect x="126.70" y="215.68" width="1.02" height="18.86" fill="rgb(226,219,230)"/>
<rect x="127.70" y="215.68" width="1.02" height="18.86" fill="rgb(245,243,247)"/>
<rect x="128.70" y="215.68" width="1.02" height="18.86" fill="rgb(252,234,234)"/>
<rect x="129.70" y="215.68" width="1.02" height="18.86" fill="rgb(244,237,241)"/>
<rect x="130.70" y="215.68" width="1.02" height="18.86" fill="rgb(248,209,209)"/>
<rect x="131.70" y="215.68" width="1.02" height="18.86" fill="rgb(238,197,201)"/>
<rect x="132.70" y="215.68" width="1.02" height="18.86" fill="rgb(245,243,247)"/>
<rect x="133.70" y="215.68" width="1.02" height="18.86" fill="rgb(250,224,224)"/>
<rect x="134.70" y="215.68" width="1.02" height="18.86" fill="rgb(198,206,229)"/>
<rect x="135.70" y="215.68" width="1.02" height="18.86" fill="rgb(250,220,220)"/>
<rect x="136.70" y="215.68" width="1.02" height="18.86" fill="rgb(245,184,184)"/>
<rect x="137.70" y="215.68" width="1.02" height="18.86" fill="rgb(252,239,239)"/>
<rect x="138.70" y="215.68" width="1.02" height="18.86" fill="rgb(250,222,222)"/>
<rect x="139.70" y="215.68" width="1.02" height="18.86" fill="rgb(229,201,210)"/>
<rect x="140.70" y="215.68" width="1.02" height="18.86" fill="rgb(189,198,225)"/>
<rect x="141.70" y="215.68" width="1.02" height="18.86" fill="rgb(248,232,234)"/>
<rect x="142.70" y="215.68" width="1.02" height="18.86" fill="rgb(245,188,188)"/>
<rect x="143.70" y="215.68" width="1.02" height="18.86" fill="rgb(253,250,251)"/>
<rect x="144.70" y="215.68" width="1.02" height="18.86" fill="rgb(236,238,246)"/>
<rect x="145.70" y="215.68" width="1.02" height="18.86" fill="rgb(244,231,235)"/>
<rect x="146.70" y="215.68" width="1.02" height="18.86" fill="rgb(253,246,246)"/>
<rect x="147.70" y="215.68" width="1.02" height="18.86" fill="rgb(252,233,233)"/>
<rect x="148.70" y="215.68" width="1.02" height="18.86" fill="rgb(253,241,241)"/>
<rect x="24.70" y="234.52" width="1.02" height="18.86" fill="rgb(232,92,92)"/>
<rect x="25.70" y="234.52" width="1.02" height="18.86" fill="rgb(232,95,95)"/>
<rect x="26.70" y="234.52" width="1.02" height="18.86" fill="rgb(234,106,106)"/>
<rect x="27.70" y="234.52" width="1.02" height="18.86" fill="rgb(230,80,80)"/>
<rect x="28.70" y="234.52" width="1.02" height="18.86" fill="rgb(233,99,99)"/>
<rect x="29.70" y="234.52" width="1.02" height="18.86" fill="rgb(230,82,82)"/>
<rect x="30.70" y="234.52" width="1.02" height="18.86" fill="rgb(233,99,99)"/>
<rect x="31.70" y="234.52" width="1.02" height="18.86" fill="rgb(234,107,107)"/>
<rect x="32.70" y="234.52" width="1.02" height="18.86" fill="rgb(233,103,103)"/>
<rect x="33.70" y="234.52" width="1.02" height="18.86" fill="rgb(232,93,93)"/>
<rect x="34.70" y="234.52" width="1.02" height="18.86" fill="rgb(232,95,95)"/>
<rect x="35.70" y="234.52" width="1.02" height="18.86" fill="rgb(237,129,129)"/>
<rect x="36.70" y="234.52" width="1.02" height="18.86" fill="rgb(207,190,208)"/>
<rect x="37.70" y="234.52" width="1.02" height="18.86" fill="rgb(205,151,167)"/>
<rect x="38.70" y="234.52" width="1.02" height="18.86" fill="rgb(218,148,158)"/>
<rect x="39.70" y="234.52" width="1.02" height="18.86" fill="rgb(213,192,207)"/>
<rect x="40.70" y="234.52" width="1.02" height="18.86" fill="rgb(227,151,157)"/>
<rect x="41.70" y="234.52" width="1.02" height="18.86" fill="rgb(184,139,165)"/>
<rect x="42.70" y="234.52" width="1.02" height="18.86" fill="rgb(229,232,243)"/>
<rect x="43.70" y="234.52" width="1.02" height="18.86" fill="rgb(237,190,194)"/>
<rect x="44.70" y="234.52" width="1.02" height="18.86" fill="rgb(181,100,124)"/>
<rect x="45.70" y="234.52" width="1.02" height="18.86" fill="rgb(199,194,216)"/>
<rect x="46.70" y="234.52" width="1.02" height="18.86" fill="rgb(169,167,202)"/>
<rect x="47.70" y="234.52" width="1.02" height="18.86" fill="rgb(217,205,219)"/>
<rect x="48.70" y="234.52" width="1.02" height="18.86" fill="rgb(151,150,192)"/>
<rect x="49.70" y="234.52" width="1.02" height="18.86" fill="rgb(149,135,177)"/>
<rect x="50.70" y="234.52" width="1.02" height="18.86" fill="rgb(141,157,204)"/>
<rect x="51.70" y="234.52" width="1.02" height="18.86" fill="rgb(207,180,197)"/>
<rect x="52.70" y="234.52" width="1.02" height="18.86" fill="rgb(201,208,230)"/>
<rect x="53.70" y="234.52" width="1.02" height="18.86" fill="rgb(240,152,152)"/>
<rect x="54.70" y="234.52" width="1.02" height="18.86" fill="rgb(237,234,241)"/>
<rect x="55.70" y="234.52" width="1.02" height="18.86" fill="rgb(246,191,191)"/>
<rect x="56.70" y="234.52" width="1.02" height="18.86" fill="rgb(142,66,107)"/>
<rect x="57.70" y="234.52" width="1.02" height="18.86" fill="rgb(139,64,106)"/>
<rect x="58.70" y="234.52" width="1.02" height="18.86" fill="rgb(234,228,236)"/>
<rect x="59.70" y="234.52" width="1.02" height="18.86" fill="rgb(245,183,183)"/>
<rect x="60.70" y="234.52" width="1.02" height="18.86" fill="rgb(137,153,202)"/>
<rect x="61.70" y="234.52" width="1.02" height="18.86" fill="rgb(237,196,200)"/>
<rect x="62.70" y="234.52" width="1.02" height="18.86" fill="rgb(86,110,179)"/>
<rect x="63.70" y="234.52" width="1.02" height="18.86" fill="rgb(135,151,201)"/>
<rect x="64.70" y="234.52" width="1.02" height="18.86" fill="rgb(176,187,220)"/>
<rect x="65.70" y="234.52" width="1.02" height="18.86" fill="rgb(191,190,215)"/>
<rect x="66.70" y="234.52" width="1.02" height="18.86" fill="rgb(140,156,203)"/>
<rect x="67.70" y="234.52" width="1.02" height="18.86" fill="rgb(175,186,219)"/>
<rect x="68.70" y="234.52" width="1.02" height="18.86" fill="rgb(234,209,216)"/>
<rect x="69.70" y="234.52" width="1.02" height="18.86" fill="rgb(233,102,102)"/>
<rect x="70.70" y="234.52" width="1.02" height="18.86" fill="rgb(144,160,205)"/>
<rect x="71.70" y="234.52" width="1.02" height="18.86" fill="rgb(139,64,106)"/>
<rect x="72.70" y="234.52" width="1.02" height="18.86" fill="rgb(173,184,218)"/>
<rect x="73.70" y="234.52" width="1.02" height="18.86" fill="rgb(151,150,192)"/>
<rect x="74.70" y="234.52" width="1.02" height="18.86" fill="rgb(234,226,233)"/>
<rect x="75.70" y="234.52" width="1.02" height="18.86" fill="rgb(153,165,207)"/>
<rect x="76.70" y="234.52" width="1.02" height="18.86" fill="rgb(145,107,149)"/>
<rect x="77.70" y="234.52" width="1.02" height="18.86" fill="rgb(246,216,218)"/>
<rect x="78.70" y="234.52" width="1.02" height="18.86" fill="rgb(251,230,230)"/>
<rect x="79.70" y="234.52" width="1.02" height="18.86" fill="rgb(214,161,173)"/>
<rect x="80.70" y="234.52" width="1.02" height="18.86" fill="rgb(206,178,196)"/>
<rect x="81.70" y="234.52" width="1.02" height="18.86" fill="rgb(182,166,194)"/>
<rect x="82.70" y="234.52" width="1.02" height="18.86" fill="rgb(217,139,149)"/>
<rect x="83.70" y="234.52" width="1.02" height="18.86" fill="rgb(226,220,231)"/>
<rect x="84.70" y="234.52" width="1.02" height="18.86" fill="rgb(98,120,184)"/>
<rect x="85.70" y="234.52" width="1.02" height="18.86" fill="rgb(244,207,209)"/>
<rect x="86.70" y="234.52" width="1.02" height="18.86" fill="rgb(251,228,228)"/>
<rect x="87.70" y="234.52" width="1.02" height="18.86" fill="rgb(225,167,176)"/>
<rect x="88.70" y="234.52" width="1.02" height="18.86" fill="rgb(161,174,213)"/>
<rect x="89.70" y="234.52" width="1.02" height="18.86" fill="rgb(236,203,209)"/>
<rect x="90.70" y="234.52" width="1.02" height="18.86" fill="rgb(166,179,215)"/>
<rect x="91.70" y="234.52" width="1.02" height="18.86" fill="rgb(218,203,217)"/>
<rect x="92.70" y="234.52" width="1.02" height="18.86" fill="rgb(160,168,207)"/>
<rect x="93.70" y="234.52" width="1.02" height="18.86" fill="rgb(247,239,242)"/>
<rect x="94.70" y="234.52" width="1.02" height="18.86" fill="rgb(170,152,186)"/>
<rect x="95.70" y="234.52" width="1.02" height="18.86" fill="rgb(182,192,222)"/>
<rect x="96.70" y="234.52" width="1.02" height="18.86" fill="rgb(240,152,152)"/>
<rect x="97.70" y="234.52" width="1.02" height="18.86" fill="rgb(192,191,216)"/>
<rect x="98.70" y="234.52" width="1.02" height="18.86" fill="rgb(168,89,119)"/>
<rect x="99.70" y="234.52" width="1.02" height="18.86" fill="rgb(198,153,173)"/>
<rect x="100.70" y="234.52" width="1.02" height="18.86" fill="rgb(192,169,193)"/>
<rect x="101.70" y="234.52" width="1.02" height="18.86" fill="rgb(139,64,106)"/>
<rect x="102.70" y="234.52" width="1.02" height="18.86" fill="rgb(208,201,219)"/>
<rect x="103.70" y="234.52" width="1.02" height="18.86" fill="rgb(172,184,218)"/>
<rect x="104.70" y="234.52" width="1.02" height="18.86" fill="rgb(228,141,146)"/>
<rect x="105.70" y="234.52" width="1.02" height="18.86" fill="rgb(148,129,171)"/>
<rect x="106.70" y="234.52" width="1.02" height="18.86" fill="rgb(145,110,152)"/>
<rect x="107.70" y="234.52" width="1.02" height="18.86" fill="rgb(193,202,227)"/>
<rect x="108.70" y="234.52" width="1.02" height="18.86" fill="rgb(236,182,186)"/>
<rect x="109.70" y="234.52" width="1.02" height="18.86" fill="rgb(52,80,164)"/>
<rect x="110.70" y="234.52" width="1.02" height="18.86" fill="rgb(242,165,165)"/>
<rect x="111.70" y="234.52" width="1.02" height="18.86" fill="rgb(180,157,185)"/>
<rect x="112.70" y="234.52" width="1.02" height="18.86" fill="rgb(249,215,215)"/>
<rect x="113.70" y="234.52" width="1.02" height="18.86" fill="rgb(117,136,193)"/>
<rect x="114.70" y="234.52" width="1.02" height="18.86" fill="rgb(245,183,183)"/>
<rect x="115.70" y="234.52" width="1.02" height="18.86" fill="rgb(147,127,169)"/>
<rect x="116.70" y="234.52" width="1.02" height="18.86" fill="rgb(246,235,237)"/>
<rect x="117.70" y="234.52" width="1.02" height="18.86" fill="rgb(163,84,116)"/>
<rect x="118.70" y="234.52" width="1.02" height="18.86" fill="rgb(202,209,231)"/>
<rect x="119.70" y="234.52" width="1.02" height="18.86" fill="rgb(204,176,194)"/>
<rect x="120.70" y="234.52" width="1.02" height="18.86" fill="rgb(180,140,168)"/>
<rect x="121.70" y="234.52" width="1.02" height="18.86" fill="rgb(204,211,232)"/>
<rect x="122.70" y="234.52" width="1.02" height="18.86" fill="rgb(187,196,224)"/>
<rect x="123.70" y="234.52" width="1.02" height="18.86" fill="rgb(146,114,156)"/>
<rect x="124.70" y="234.52" width="1.02" height="18.86" fill="rgb(202,207,229)"/>
<rect x="125.70" y="234.52" width="1.02" height="18.86" fill="rgb(244,204,206)"/>
<rect x="126.70" y="234.52" width="1.02" height="18.86" fill="rgb(152,166,208)"/>
<rect x="127.70" y="234.52" width="1.02" height="18.86" fill="rgb(250,220,220)"/>
<rect x="128.70" y="234.52" width="1.02" height="18.86" fill="rgb(115,134,192)"/>
<rect x="129.70" y="234.52" width="1.02" height="18.86" fill="rgb(245,187,187)"/>
<rect x="130.70" y="234.52" width="1.02" height="18.86" fill="rgb(204,211,232)"/>
<rect x="131.70" y="234.52" width="1.02" height="18.86" fill="rgb(210,216,235)"/>
<rect x="132.70" y="234.52" width="1.02" height="18.86" fill="rgb(109,129,189)"/>
<rect x="133.70" y="234.52" width="1.02" height="18.86" fill="rgb(144,159,205)"/>
<rect x="134.70" y="234.52" width="1.02" height="18.86" fill="rgb(161,153,190)"/>
<rect x="135.70" y="234.52" width="1.02" height="18.86" fill="rgb(151,143,184)"/>
<rect x="136.70" y="234.52" width="1.02" height="18.86" fill="rgb(172,179,213)"/>
<rect x="137.70" y="234.52" width="1.02" height="18.86" fill="rgb(240,179,181)"/>
<rect x="138.70" y="234.52" width="1.02" height="18.86" fill="rgb(177,188,220)"/>
<rect x="139.70" y="234.52" width="1.02" height="18.86" fill="rgb(145,161,206)"/>
<rect x="140.70" y="234.52" width="1.02" height="18.86" fill="rgb(192,201,227)"/>
<rect x="141.70" y="234.52" width="1.02" height="18.86" fill="rgb(196,204,228)"/>
<rect x="142.70" y="234.52" width="1.02" height="18.86" fill="rgb(246,192,192)"/>
<rect x="143.70" y="234.52" width="1.02" height="18.86" fill="rgb(246,192,192)"/>
<rect x="144.70" y="234.52" width="1.02" height="18.86" fill="rgb(201,209,231)"/>
<rect x="145.70" y="234.52" width="1.02" height="18.86" fill="rgb(184,193,223)"/>
<rect x="146.70" y="234.52" width="1.02" height="18.86" fill="rgb(125,143,196)"/>
<rect x="147.70" y="234.52" width="1.02" height="18.86" fill="rgb(198,206,229)"/>
<rect x="148.70" y="234.52" width="1.02" height="18.86" fill="rgb(157,171,211)"/>
<rect x="24.70" y="253.36" width="1.02" height="18.86" fill="rgb(238,139,139)"/>
<rect x="25.70" y="253.36" width="1.02" height="18.86" fill="rgb(240,151,151)"/>
<rect x="26.70" y="253.36" width="1.02" height="18.86" fill="rgb(243,172,172)"/>
<rect x="27.70" y="253.36" width="1.02" height="18.86" fill="rgb(232,94,94)"/>
<rect x="28.70" y="253.36" width="1.02" height="18.86" fill="rgb(244,177,177)"/>
<rect x="29.70" y="253.36" width="1.02" height="18.86" fill="rgb(239,141,141)"/>
<rect x="30.70" y="253.36" width="1.02" height="18.86" fill="rgb(242,167,167)"/>
<rect x="31.70" y="253.36" width="1.02" height="18.86" fill="rgb(237,127,127)"/>
<rect x="32.70" y="253.36" width="1.02" height="18.86" fill="rgb(240,152,152)"/>
<rect x="33.70" y="253.36" width="1.02" height="18.86" fill="rgb(239,142,142)"/>
<rect x="34.70" y="253.36" width="1.02" height="18.86" fill="rgb(240,148,148)"/>
<rect x="35.70" y="253.36" width="1.02" height="18.86" fill="rgb(243,176,176)"/>
<rect x="36.70" y="253.36" width="1.02" height="18.86" fill="rgb(248,209,209)"/>
<rect x="37.70" y="253.36" width="1.02" height="18.86" fill="rgb(212,218,236)"/>
<rect x="38.70" y="253.36" width="1.02" height="18.86" fill="rgb(249,218,218)"/>
<rect x="39.70" y="253.36" width="1.02" height="18.86" fill="rgb(233,101,101)"/>
<rect x="40.70" y="253.36" width="1.02" height="18.86" fill="rgb(123,141,195)"/>
<rect x="41.70" y="253.36" width="1.02" height="18.86" fill="rgb(239,141,141)"/>
<rect x="42.70" y="253.36" width="1.02" height="18.86" fill="rgb(243,172,172)"/>
<rect x="43.70" y="253.36" width="1.02" height="18.86" fill="rgb(193,201,227)"/>
<rect x="44.70" y="253.36" width="1.02" height="18.86" fill="rgb(206,176,193)"/>
<rect x="45.70" y="253.36" width="1.02" height="18.86" fill="rgb(124,142,196)"/>
<rect x="46.70" y="253.36" width="1.02" height="18.86" fill="rgb(227,60,60)"/>
<rect x="47.70" y="253.36" width="1.02" height="18.86" fill="rgb(189,198,225)"/>
<rect x="48.70" y="253.36" width="1.02" height="18.86" fill="rgb(218,213,228)"/>
<rect x="49.70" y="253.36" width="1.02" height="18.86" fill="rgb(242,189,191)"/>
<rect x="50.70" y="253.36" width="1.02" height="18.86" fill="rgb(195,149,170)"/>
<rect x="51.70" y="253.36" width="1.02" height="18.86" fill="rgb(226,221,232)"/>
<rect x="52.70" y="253.36" width="1.02" height="18.86" fill="rgb(239,241,248)"/>
<rect x="53.70" y="253.36" width="1.02" height="18.86" fill="rgb(220,211,225)"/>
<rect x="54.70" y="253.36" width="1.02" height="18.86" fill="rgb(67,93,171)"/>
<rect x="55.70" y="253.36" width="1.02" height="18.86" fill="rgb(160,173,212)"/>
<rect x="56.70" y="253.36" width="1.02" height="18.86" fill="rgb(253,251,251)"/>
<rect x="57.70" y="253.36" width="1.02" height="18.86" fill="rgb(250,222,222)"/>
<rect x="58.70" y="253.36" width="1.02" height="18.86" fill="rgb(185,194,223)"/>
<rect x="59.70" y="253.36" width="1.02" height="18.86" fill="rgb(148,163,207)"/>
<rect x="60.70" y="253.36" width="1.02" height="18.86" fill="rgb(248,206,206)"/>
<rect x="61.70" y="253.36" width="1.02" height="18.86" fill="rgb(241,243,248)"/>
<rect x="62.70" y="253.36" width="1.02" height="18.86" fill="rgb(248,209,209)"/>
<rect x="63.70" y="253.36" width="1.02" height="18.86" fill="rgb(246,192,192)"/>
<rect x="64.70" y="253.36" width="1.02" height="18.86" fill="rgb(244,182,182)"/>
<rect x="65.70" y="253.36" width="1.02" height="18.86" fill="rgb(211,217,235)"/>
<rect x="66.70" y="253.36" width="1.02" height="18.86" fill="rgb(180,190,221)"/>
<rect x="67.70" y="253.36" width="1.02" height="18.86" fill="rgb(232,97,97)"/>
<rect x="68.70" y="253.36" width="1.02" height="18.86" fill="rgb(251,226,226)"/>
<rect x="69.70" y="253.36" width="1.02" height="18.86" fill="rgb(241,160,160)"/>
<rect x="70.70" y="253.36" width="1.02" height="18.86" fill="rgb(188,147,171)"/>
<rect x="71.70" y="253.36" width="1.02" height="18.86" fill="rgb(222,207,220)"/>
<rect x="72.70" y="253.36" width="1.02" height="18.86" fill="rgb(244,181,181)"/>
<rect x="73.70" y="253.36" width="1.02" height="18.86" fill="rgb(198,206,229)"/>
<rect x="74.70" y="253.36" width="1.02" height="18.86" fill="rgb(184,194,223)"/>
<rect x="75.70" y="253.36" width="1.02" height="18.86" fill="rgb(215,158,170)"/>
<rect x="76.70" y="253.36" width="1.02" height="18.86" fill="rgb(240,151,151)"/>
<rect x="77.70" y="253.36" width="1.02" height="18.86" fill="rgb(244,182,182)"/>
<rect x="78.70" y="253.36" width="1.02" height="18.86" fill="rgb(223,210,222)"/>
<rect x="79.70" y="253.36" width="1.02" height="18.86" fill="rgb(240,148,148)"/>
<rect x="80.70" y="253.36" width="1.02" height="18.86" fill="rgb(245,190,190)"/>
<rect x="81.70" y="253.36" width="1.02" height="18.86" fill="rgb(242,222,226)"/>
<rect x="82.70" y="253.36" width="1.02" height="18.86" fill="rgb(243,173,173)"/>
<rect x="83.70" y="253.36" width="1.02" height="18.86" fill="rgb(185,195,223)"/>
<rect x="84.70" y="253.36" width="1.02" height="18.86" fill="rgb(226,220,231)"/>
<rect x="85.70" y="253.36" width="1.02" height="18.86" fill="rgb(235,205,211)"/>
<rect x="86.70" y="253.36" width="1.02" height="18.86" fill="rgb(237,130,130)"/>
<rect x="87.70" y="253.36" width="1.02" height="18.86" fill="rgb(180,177,207)"/>
<rect x="88.70" y="253.36" width="1.02" height="18.86" fill="rgb(241,159,159)"/>
<rect x="89.70" y="253.36" width="1.02" height="18.86" fill="rgb(201,208,230)"/>
<rect x="90.70" y="253.36" width="1.02" height="18.86" fill="rgb(201,208,230)"/>
<rect x="91.70" y="253.36" width="1.02" height="18.86" fill="rgb(251,229,229)"/>
<rect x="92.70" y="253.36" width="1.02" height="18.86" fill="rgb(252,240,240)"/>
<rect x="93.70" y="253.36" width="1.02" height="18.86" fill="rgb(205,153,169)"/>
<rect x="94.70" y="253.36" width="1.02" height="18.86" fill="rgb(140,155,203)"/>
<rect x="95.70" y="253.36" width="1.02" height="18.86" fill="rgb(210,216,235)"/>
<rect x="96.70" y="253.36" width="1.02" height="18.86" fill="rgb(191,200,226)"/>
<rect x="97.70" y="253.36" width="1.02" height="18.86" fill="rgb(198,193,216)"/>
<rect x="98.70" y="253.36" width="1.02" height="18.86" fill="rgb(239,181,184)"/>
<rect x="99.70" y="253.36" width="1.02" height="18.86" fill="rgb(243,216,219)"/>
<rect x="100.70" y="253.36" width="1.02" height="18.86" fill="rgb(248,244,246)"/>
<rect x="101.70" y="253.36" width="1.02" height="18.86" fill="rgb(247,218,219)"/>
<rect x="102.70" y="253.36" width="1.02" height="18.86" fill="rgb(149,163,207)"/>
<rect x="103.70" y="253.36" width="1.02" height="18.86" fill="rgb(212,218,236)"/>
<rect x="104.70" y="253.36" width="1.02" height="18.86" fill="rgb(222,199,211)"/>
<rect x="105.70" y="253.36" width="1.02" height="18.86" fill="rgb(239,144,144)"/>
<rect x="106.70" y="253.36" width="1.02" height="18.86" fill="rgb(153,167,209)"/>
<rect x="107.70" y="253.36" width="1.02" height="18.86" fill="rgb(87,110,180)"/>
<rect x="108.70" y="253.36" width="1.02" height="18.86" fill="rgb(165,162,198)"/>
<rect x="109.70" y="253.36" width="1.02" height="18.86" fill="rgb(138,154,202)"/>
<rect x="110.70" y="253.36" width="1.02" height="18.86" fill="rgb(181,166,194)"/>
<rect x="111.70" y="253.36" width="1.02" height="18.86" fill="rgb(201,209,231)"/>
<rect x="112.70" y="253.36" width="1.02" height="18.86" fill="rgb(243,174,174)"/>
<rect x="113.70" y="253.36" width="1.02" height="18.86" fill="rgb(235,113,113)"/>
<rect x="114.70" y="253.36" width="1.02" height="18.86" fill="rgb(252,239,239)"/>
<rect x="115.70" y="253.36" width="1.02" height="18.86" fill="rgb(233,101,101)"/>
<rect x="116.70" y="253.36" width="1.02" height="18.86" fill="rgb(237,220,226)"/>
<rect x="117.70" y="253.36" width="1.02" height="18.86" fill="rgb(252,238,238)"/>
<rect x="118.70" y="253.36" width="1.02" height="18.86" fill="rgb(170,181,216)"/>
<rect x="119.70" y="253.36" width="1.02" height="18.86" fill="rgb(158,171,211)"/>
<rect x="120.70" y="253.36" width="1.02" height="18.86" fill="rgb(243,171,171)"/>
<rect x="121.70" y="253.36" width="1.02" height="18.86" fill="rgb(189,140,163)"/>
<rect x="122.70" y="253.36" width="1.02" height="18.86" fill="rgb(160,136,172)"/>
<rect x="123.70" y="253.36" width="1.02" height="18.86" fill="rgb(237,129,129)"/>
<rect x="124.70" y="253.36" width="1.02" height="18.86" fill="rgb(184,107,131)"/>
<rect x="125.70" y="253.36" width="1.02" height="18.86" fill="rgb(248,209,209)"/>
<rect x="126.70" y="253.36" width="1.02" height="18.86" fill="rgb(252,237,237)"/>
<rect x="127.70" y="253.36" width="1.02" height="18.86" fill="rgb(178,145,173)"/>
<rect x="128.70" y="253.36" width="1.02" height="18.86" fill="rgb(132,149,200)"/>
<rect x="129.70" y="253.36" width="1.02" height="18.86" fill="rgb(200,208,230)"/>
<rect x="130.70" y="253.36" width="1.02" height="18.86" fill="rgb(250,224,224)"/>
<rect x="131.70" y="253.36" width="1.02" height="18.86" fill="rgb(223,226,239)"/>
<rect x="132.70" y="253.36" width="1.02" height="18.86" fill="rgb(228,192,200)"/>
<rect x="133.70" y="253.36" width="1.02" height="18.86" fill="rgb(249,213,213)"/>
<rect x="134.70" y="253.36" width="1.02" height="18.86" fill="rgb(229,168,174)"/>
<rect x="135.70" y="253.36" width="1.02" height="18.86" fill="rgb(223,200,211)"/>
<rect x="136.70" y="253.36" width="1.02" height="18.86" fill="rgb(234,189,194)"/>
<rect x="137.70" y="253.36" width="1.02" height="18.86" fill="rgb(197,171,192)"/>
<rect x="138.70" y="253.36" width="1.02" height="18.86" fill="rgb(246,197,197)"/>
<rect x="139.70" y="253.36" width="1.02" height="18.86" fill="rgb(176,159,190)"/>
<rect x="140.70" y="253.36" width="1.02" height="18.86" fill="rgb(204,158,175)"/>
<rect x="141.70" y="253.36" width="1.02" height="18.86" fill="rgb(215,221,237)"/>
<rect x="142.70" y="253.36" width="1.02" height="18.86" fill="rgb(237,228,234)"/>
<rect x="143.70" y="253.36" width="1.02" height="18.86" fill="rgb(227,220,231)"/>
<rect x="144.70" y="253.36" width="1.02" height="18.86" fill="rgb(250,222,222)"/>
<rect x="145.70" y="253.36" width="1.02" height="18.86" fill="rgb(152,157,199)"/>
<rect x="146.70" y="253.36" width="1.02" height="18.86" fill="rgb(247,198,198)"/>
<rect x="147.70" y="253.36" width="1.02" height="18.86" fill="rgb(171,178,213)"/>
<rect x="148.70" y="253.36" width="1.02" height="18.86" fill="rgb(244,182,182)"/>
<rect x="24.70" y="272.20" width="1.02" height="18.86" fill="rgb(166,178,215)"/>
<rect x="25.70" y="272.20" width="1.02" height="18.86" fill="rgb(190,199,226)"/>
<rect x="26.70" y="272.20" width="1.02" height="18.86" fill="rgb(167,179,215)"/>
<rect x="27.70" y="272.20" width="1.02" height="18.86" fill="rgb(140,156,203)"/>
<rect x="28.70" y="272.20" width="1.02" height="18.86" fill="rgb(187,196,224)"/>
<rect x="29.70" y="272.20" width="1.02" height="18.86" fill="rgb(192,201,227)"/>
<rect x="30.70" y="272.20" width="1.02" height="18.86" fill="rgb(130,147,198)"/>
<rect x="31.70" y="272.20" width="1.02" height="18.86" fill="rgb(142,157,204)"/>
<rect x="32.70" y="272.20" width="1.02" height="18.86" fill="rgb(157,170,211)"/>
<rect x="33.70" y="272.20" width="1.02" height="18.86" fill="rgb(161,174,212)"/>
<rect x="34.70" y="272.20" width="1.02" height="18.86" fill="rgb(160,173,212)"/>
<rect x="35.70" y="272.20" width="1.02" height="18.86" fill="rgb(173,184,218)"/>
<rect x="36.70" y="272.20" width="1.02" height="18.86" fill="rgb(239,210,214)"/>
<rect x="37.70" y="272.20" width="1.02" height="18.86" fill="rgb(215,177,191)"/>
<rect x="38.70" y="272.20" width="1.02" height="18.86" fill="rgb(247,203,203)"/>
<rect x="39.70" y="272.20" width="1.02" height="18.86" fill="rgb(217,222,238)"/>
<rect x="40.70" y="272.20" width="1.02" height="18.86" fill="rgb(222,218,231)"/>
<rect x="41.70" y="272.20" width="1.02" height="18.86" fill="rgb(245,221,223)"/>
<rect x="42.70" y="272.20" width="1.02" height="18.86" fill="rgb(242,162,162)"/>
<rect x="43.70" y="272.20" width="1.02" height="18.86" fill="rgb(209,215,234)"/>
<rect x="44.70" y="272.20" width="1.02" height="18.86" fill="rgb(246,196,196)"/>
<rect x="45.70" y="272.20" width="1.02" height="18.86" fill="rgb(225,217,228)"/>
<rect x="46.70" y="272.20" width="1.02" height="18.86" fill="rgb(246,193,193)"/>
<rect x="47.70" y="272.20" width="1.02" height="18.86" fill="rgb(246,226,228)"/>
<rect x="48.70" y="272.20" width="1.02" height="18.86" fill="rgb(248,207,207)"/>
<rect x="49.70" y="272.20" width="1.02" height="18.86" fill="rgb(205,212,232)"/>
<rect x="50.70" y="272.20" width="1.02" height="18.86" fill="rgb(249,215,215)"/>
<rect x="51.70" y="272.20" width="1.02" height="18.86" fill="rgb(249,212,212)"/>
<rect x="52.70" y="272.20" width="1.02" height="18.86" fill="rgb(246,242,245)"/>
<rect x="53.70" y="272.20" width="1.02" height="18.86" fill="rgb(251,230,230)"/>
<rect x="54.70" y="272.20" width="1.02" height="18.86" fill="rgb(247,200,200)"/>
<rect x="55.70" y="272.20" width="1.02" height="18.86" fill="rgb(238,137,137)"/>
<rect x="56.70" y="272.20" width="1.02" height="18.86" fill="rgb(247,199,199)"/>
<rect x="57.70" y="272.20" width="1.02" height="18.86" fill="rgb(246,193,193)"/>
<rect x="58.70" y="272.20" width="1.02" height="18.86" fill="rgb(233,231,240)"/>
<rect x="59.70" y="272.20" width="1.02" height="18.86" fill="rgb(245,186,186)"/>
<rect x="60.70" y="272.20" width="1.02" height="18.86" fill="rgb(248,210,210)"/>
<rect x="61.70" y="272.20" width="1.02" height="18.86" fill="rgb(252,238,238)"/>
<rect x="62.70" y="272.20" width="1.02" height="18.86" fill="rgb(218,190,203)"/>
<rect x="63.70" y="272.20" width="1.02" height="18.86" fill="rgb(230,233,243)"/>
<rect x="64.70" y="272.20" width="1.02" height="18.86" fill="rgb(228,232,243)"/>
<rect x="65.70" y="272.20" width="1.02" height="18.86" fill="rgb(245,184,184)"/>
<rect x="66.70" y="272.20" width="1.02" height="18.86" fill="rgb(221,195,207)"/>
<rect x="67.70" y="272.20" width="1.02" height="18.86" fill="rgb(242,215,218)"/>
<rect x="68.70" y="272.20" width="1.02" height="18.86" fill="rgb(210,216,235)"/>
<rect x="69.70" y="272.20" width="1.02" height="18.86" fill="rgb(243,229,232)"/>
<rect x="70.70" y="272.20" width="1.02" height="18.86" fill="rgb(206,213,233)"/>
<rect x="71.70" y="272.20" width="1.02" height="18.86" fill="rgb(219,210,224)"/>
<rect x="72.70" y="272.20" width="1.02" height="18.86" fill="rgb(225,199,209)"/>
<rect x="73.70" y="272.20" width="1.02" height="18.86" fill="rgb(229,232,243)"/>
<rect x="74.70" y="272.20" width="1.02" height="18.86" fill="rgb(242,204,207)"/>
<rect x="75.70" y="272.20" width="1.02" height="18.86" fill="rgb(246,196,196)"/>
<rect x="76.70" y="272.20" width="1.02" height="18.86" fill="rgb(218,208,222)"/>
<rect x="77.70" y="272.20" width="1.02" height="18.86" fill="rgb(242,244,249)"/>
<rect x="78.70" y="272.20" width="1.02" height="18.86" fill="rgb(233,216,223)"/>
<rect x="79.70" y="272.20" width="1.02" height="18.86" fill="rgb(232,235,244)"/>
<rect x="80.70" y="272.20" width="1.02" height="18.86" fill="rgb(186,196,224)"/>
<rect x="81.70" y="272.20" width="1.02" height="18.86" fill="rgb(245,183,183)"/>
<rect x="82.70" y="272.20" width="1.02" height="18.86" fill="rgb(234,225,233)"/>
<rect x="83.70" y="272.20" width="1.02" height="18.86" fill="rgb(187,184,211)"/>
<rect x="84.70" y="272.20" width="1.02" height="18.86" fill="rgb(246,195,195)"/>
<rect x="85.70" y="272.20" width="1.02" height="18.86" fill="rgb(243,170,170)"/>
<rect x="86.70" y="272.20" width="1.02" height="18.86" fill="rgb(245,211,213)"/>
<rect x="87.70" y="272.20" width="1.02" height="18.86" fill="rgb(245,186,186)"/>
<rect x="88.70" y="272.20" width="1.02" height="18.86" fill="rgb(218,223,238)"/>
<rect x="89.70" y="272.20" width="1.02" height="18.86" fill="rgb(223,222,235)"/>
<rect x="90.70" y="272.20" width="1.02" height="18.86" fill="rgb(230,212,220)"/>
<rect x="91.70" y="272.20" width="1.02" height="18.86" fill="rgb(200,168,188)"/>
<rect x="92.70" y="272.20" width="1.02" height="18.86" fill="rgb(245,185,185)"/>
<rect x="93.70" y="272.20" width="1.02" height="18.86" fill="rgb(221,192,204)"/>
<rect x="94.70" y="272.20" width="1.02" height="18.86" fill="rgb(236,123,123)"/>
<rect x="95.70" y="272.20" width="1.02" height="18.86" fill="rgb(252,236,236)"/>
<rect x="96.70" y="272.20" width="1.02" height="18.86" fill="rgb(249,214,214)"/>
<rect x="97.70" y="272.20" width="1.02" height="18.86" fill="rgb(248,206,206)"/>
<rect x="98.70" y="272.20" width="1.02" height="18.86" fill="rgb(221,200,212)"/>
<rect x="99.70" y="272.20" width="1.02" height="18.86" fill="rgb(246,224,226)"/>
<rect x="100.70" y="272.20" width="1.02" height="18.86" fill="rgb(245,184,184)"/>
<rect x="101.70" y="272.20" width="1.02" height="18.86" fill="rgb(245,211,212)"/>
<rect x="102.70" y="272.20" width="1.02" height="18.86" fill="rgb(244,178,178)"/>
<rect x="103.70" y="272.20" width="1.02" height="18.86" fill="rgb(245,228,231)"/>
<rect x="104.70" y="272.20" width="1.02" height="18.86" fill="rgb(242,169,169)"/>
<rect x="105.70" y="272.20" width="1.02" height="18.86" fill="rgb(223,207,219)"/>
<rect x="106.70" y="272.20" width="1.02" height="18.86" fill="rgb(226,216,227)"/>
<rect x="107.70" y="272.20" width="1.02" height="18.86" fill="rgb(241,155,155)"/>
<rect x="108.70" y="272.20" width="1.02" height="18.86" fill="rgb(234,201,207)"/>
<rect x="109.70" y="272.20" width="1.02" height="18.86" fill="rgb(213,192,207)"/>
<rect x="110.70" y="272.20" width="1.02" height="18.86" fill="rgb(239,229,235)"/>
<rect x="111.70" y="272.20" width="1.02" height="18.86" fill="rgb(249,246,248)"/>
<rect x="112.70" y="272.20" width="1.02" height="18.86" fill="rgb(238,221,227)"/>
<rect x="113.70" y="272.20" width="1.02" height="18.86" fill="rgb(242,225,229)"/>
<rect x="114.70" y="272.20" width="1.02" height="18.86" fill="rgb(245,225,228)"/>
<rect x="115.70" y="272.20" width="1.02" height="18.86" fill="rgb(245,232,235)"/>
<rect x="116.70" y="272.20" width="1.02" height="18.86" fill="rgb(246,192,192)"/>
<rect x="117.70" y="272.20" width="1.02" height="18.86" fill="rgb(250,221,221)"/>
<rect x="118.70" y="272.20" width="1.02" height="18.86" fill="rgb(247,214,215)"/>
<rect x="119.70" y="272.20" width="1.02" height="18.86" fill="rgb(224,205,217)"/>
<rect x="120.70" y="272.20" width="1.02" height="18.86" fill="rgb(235,238,246)"/>
<rect x="121.70" y="272.20" width="1.02" height="18.86" fill="rgb(231,183,190)"/>
<rect x="122.70" y="272.20" width="1.02" height="18.86" fill="rgb(243,170,170)"/>
<rect x="123.70" y="272.20" width="1.02" height="18.86" fill="rgb(229,189,197)"/>
<rect x="124.70" y="272.20" width="1.02" height="18.86" fill="rgb(242,163,163)"/>
<rect x="125.70" y="272.20" width="1.02" height="18.86" fill="rgb(253,244,244)"/>
<rect x="126.70" y="272.20" width="1.02" height="18.86" fill="rgb(242,163,163)"/>
<rect x="127.70" y="272.20" width="1.02" height="18.86" fill="rgb(242,244,249)"/>
<rect x="128.70" y="272.20" width="1.02" height="18.86" fill="rgb(249,215,215)"/>
<rect x="129.70" y="272.20" width="1.02" height="18.86" fill="rgb(245,184,184)"/>
<rect x="130.70" y="272.20" width="1.02" height="18.86" fill="rgb(251,232,232)"/>
<rect x="131.70" y="272.20" width="1.02" height="18.86" fill="rgb(228,188,196)"/>
<rect x="132.70" y="272.20" width="1.02" height="18.86" fill="rgb(241,157,157)"/>
<rect x="133.70" y="272.20" width="1.02" height="18.86" fill="rgb(204,211,232)"/>
<rect x="134.70" y="272.20" width="1.02" height="18.86" fill="rgb(192,201,227)"/>
<rect x="135.70" y="272.20" width="1.02" height="18.86" fill="rgb(209,196,214)"/>
<rect x="136.70" y="272.20" width="1.02" height="18.86" fill="rgb(244,183,183)"/>
<rect x="137.70" y="272.20" width="1.02" height="18.86" fill="rgb(218,223,238)"/>
<rect x="138.70" y="272.20" width="1.02" height="18.86" fill="rgb(206,186,204)"/>
<rect x="139.70" y="272.20" width="1.02" height="18.86" fill="rgb(243,243,248)"/>
<rect x="140.70" y="272.20" width="1.02" height="18.86" fill="rgb(250,220,220)"/>
<rect x="141.70" y="272.20" width="1.02" height="18.86" fill="rgb(252,245,245)"/>
<rect x="142.70" y="272.20" width="1.02" height="18.86" fill="rgb(246,237,240)"/>
<rect x="143.70" y="272.20" width="1.02" height="18.86" fill="rgb(229,224,233)"/>
<rect x="144.70" y="272.20" width="1.02" height="18.86" fill="rgb(205,212,232)"/>
<rect x="145.70" y="272.20" width="1.02" height="18.86" fill="rgb(244,181,181)"/>
<rect x="146.70" y="272.20" width="1.02" height="18.86" fill="rgb(226,216,227)"/>
<rect x="147.70" y="272.20" width="1.02" height="18.86" fill="rgb(199,207,230)"/>
<rect x="148.70" y="272.20" width="1.02" height="18.86" fill="rgb(239,215,220)"/>
<rect x="24.70" y="291.04" width="1.02" height="18.86" fill="rgb(158,171,211)"/>
<rect x="25.70" y="291.04" width="1.02" height="18.86" fill="rgb(119,138,194)"/>
<rect x="26.70" y="291.04" width="1.02" height="18.86" fill="rgb(180,190,221)"/>
<rect x="27.70" y="291.04" width="1.02" height="18.86" fill="rgb(101,122,186)"/>
<rect x="28.70" y="291.04" width="1.02" height="18.86" fill="rgb(172,183,217)"/>
<rect x="29.70" y="291.04" width="1.02" height="18.86" fill="rgb(132,149,200)"/>
<rect x="30.70" y="291.04" width="1.02" height="18.86" fill="rgb(154,168,209)"/>
<rect x="31.70" y="291.04" width="1.02" height="18.86" fill="rgb(125,143,196)"/>
<rect x="32.70" y="291.04" width="1.02" height="18.86" fill="rgb(164,176,214)"/>
<rect x="33.70" y="291.04" width="1.02" height="18.86" fill="rgb(155,168,210)"/>
<rect x="34.70" y="291.04" width="1.02" height="18.86" fill="rgb(120,138,194)"/>
<rect x="35.70" y="291.04" width="1.02" height="18.86" fill="rgb(175,186,219)"/>
<rect x="36.70" y="291.04" width="1.02" height="18.86" fill="rgb(178,155,184)"/>
<rect x="37.70" y="291.04" width="1.02" height="18.86" fill="rgb(204,189,209)"/>
<rect x="38.70" y="291.04" width="1.02" height="18.86" fill="rgb(193,175,198)"/>
<rect x="39.70" y="291.04" width="1.02" height="18.86" fill="rgb(203,210,231)"/>
<rect x="40.70" y="291.04" width="1.02" height="18.86" fill="rgb(146,161,206)"/>
<rect x="41.70" y="291.04" width="1.02" height="18.86" fill="rgb(98,120,184)"/>
<rect x="42.70" y="291.04" width="1.02" height="18.86" fill="rgb(221,182,193)"/>
<rect x="43.70" y="291.04" width="1.02" height="18.86" fill="rgb(217,150,161)"/>
<rect x="44.70" y="291.04" width="1.02" height="18.86" fill="rgb(98,119,184)"/>
<rect x="45.70" y="291.04" width="1.02" height="18.86" fill="rgb(237,128,128)"/>
<rect x="46.70" y="291.04" width="1.02" height="18.86" fill="rgb(193,148,170)"/>
<rect x="47.70" y="291.04" width="1.02" height="18.86" fill="rgb(245,186,186)"/>
<rect x="48.70" y="291.04" width="1.02" height="18.86" fill="rgb(248,211,211)"/>
<rect x="49.70" y="291.04" width="1.02" height="18.86" fill="rgb(202,141,158)"/>
<rect x="50.70" y="291.04" width="1.02" height="18.86" fill="rgb(100,121,185)"/>
<rect x="51.70" y="291.04" width="1.02" height="18.86" fill="rgb(197,139,158)"/>
<rect x="52.70" y="291.04" width="1.02" height="18.86" fill="rgb(129,146,198)"/>
<rect x="53.70" y="291.04" width="1.02" height="18.86" fill="rgb(146,161,206)"/>
<rect x="54.70" y="291.04" width="1.02" height="18.86" fill="rgb(196,204,228)"/>
<rect x="55.70" y="291.04" width="1.02" height="18.86" fill="rgb(159,172,212)"/>
<rect x="56.70" y="291.04" width="1.02" height="18.86" fill="rgb(225,227,239)"/>
<rect x="57.70" y="291.04" width="1.02" height="18.86" fill="rgb(251,231,231)"/>
<rect x="58.70" y="291.04" width="1.02" height="18.86" fill="rgb(150,145,187)"/>
<rect x="59.70" y="291.04" width="1.02" height="18.86" fill="rgb(170,182,217)"/>
<rect x="60.70" y="291.04" width="1.02" height="18.86" fill="rgb(147,118,160)"/>
<rect x="61.70" y="291.04" width="1.02" height="18.86" fill="rgb(191,199,226)"/>
<rect x="62.70" y="291.04" width="1.02" height="18.86" fill="rgb(224,172,181)"/>
<rect x="63.70" y="291.04" width="1.02" height="18.86" fill="rgb(218,168,180)"/>
<rect x="64.70" y="291.04" width="1.02" height="18.86" fill="rgb(60,87,167)"/>
<rect x="65.70" y="291.04" width="1.02" height="18.86" fill="rgb(240,147,147)"/>
<rect x="66.70" y="291.04" width="1.02" height="18.86" fill="rgb(249,215,215)"/>
<rect x="67.70" y="291.04" width="1.02" height="18.86" fill="rgb(173,157,189)"/>
<rect x="68.70" y="291.04" width="1.02" height="18.86" fill="rgb(212,164,178)"/>
<rect x="69.70" y="291.04" width="1.02" height="18.86" fill="rgb(245,185,185)"/>
<rect x="70.70" y="291.04" width="1.02" height="18.86" fill="rgb(71,97,172)"/>
<rect x="71.70" y="291.04" width="1.02" height="18.86" fill="rgb(236,174,178)"/>
<rect x="72.70" y="291.04" width="1.02" height="18.86" fill="rgb(227,217,228)"/>
<rect x="73.70" y="291.04" width="1.02" height="18.86" fill="rgb(193,201,227)"/>
<rect x="74.70" y="291.04" width="1.02" height="18.86" fill="rgb(252,239,239)"/>
<rect x="75.70" y="291.04" width="1.02" height="18.86" fill="rgb(240,153,153)"/>
<rect x="76.70" y="291.04" width="1.02" height="18.86" fill="rgb(226,48,48)"/>
<rect x="77.70" y="291.04" width="1.02" height="18.86" fill="rgb(230,82,82)"/>
<rect x="78.70" y="291.04" width="1.02" height="18.86" fill="rgb(252,237,237)"/>
<rect x="79.70" y="291.04" width="1.02" height="18.86" fill="rgb(199,207,230)"/>
<rect x="80.70" y="291.04" width="1.02" height="18.86" fill="rgb(210,216,234)"/>
<rect x="81.70" y="291.04" width="1.02" height="18.86" fill="rgb(235,116,116)"/>
<rect x="82.70" y="291.04" width="1.02" height="18.86" fill="rgb(125,143,196)"/>
<rect x="83.70" y="291.04" width="1.02" height="18.86" fill="rgb(225,229,241)"/>
<rect x="84.70" y="291.04" width="1.02" height="18.86" fill="rgb(114,133,191)"/>
<rect x="85.70" y="291.04" width="1.02" height="18.86" fill="rgb(148,130,172)"/>
<rect x="86.70" y="291.04" width="1.02" height="18.86" fill="rgb(236,147,149)"/>
<rect x="87.70" y="291.04" width="1.02" height="18.86" fill="rgb(243,245,249)"/>
<rect x="88.70" y="291.04" width="1.02" height="18.86" fill="rgb(240,152,152)"/>
<rect x="89.70" y="291.04" width="1.02" height="18.86" fill="rgb(229,223,233)"/>
<rect x="90.70" y="291.04" width="1.02" height="18.86" fill="rgb(203,124,140)"/>
<rect x="91.70" y="291.04" width="1.02" height="18.86" fill="rgb(231,86,86)"/>
<rect x="92.70" y="291.04" width="1.02" height="18.86" fill="rgb(232,233,243)"/>
<rect x="93.70" y="291.04" width="1.02" height="18.86" fill="rgb(190,144,167)"/>
<rect x="94.70" y="291.04" width="1.02" height="18.86" fill="rgb(161,142,178)"/>
<rect x="95.70" y="291.04" width="1.02" height="18.86" fill="rgb(232,92,92)"/>
<rect x="96.70" y="291.04" width="1.02" height="18.86" fill="rgb(185,133,157)"/>
<rect x="97.70" y="291.04" width="1.02" height="18.86" fill="rgb(161,174,213)"/>
<rect x="98.70" y="291.04" width="1.02" height="18.86" fill="rgb(160,107,142)"/>
<rect x="99.70" y="291.04" width="1.02" height="18.86" fill="rgb(202,118,134)"/>
<rect x="100.70" y="291.04" width="1.02" height="18.86" fill="rgb(185,194,223)"/>
<rect x="101.70" y="291.04" width="1.02" height="18.86" fill="rgb(231,86,86)"/>
<rect x="102.70" y="291.04" width="1.02" height="18.86" fill="rgb(119,137,194)"/>
<rect x="103.70" y="291.04" width="1.02" height="18.86" fill="rgb(201,141,159)"/>
<rect x="104.70" y="291.04" width="1.02" height="18.86" fill="rgb(223,136,143)"/>
<rect x="105.70" y="291.04" width="1.02" height="18.86" fill="rgb(178,189,220)"/>
<rect x="106.70" y="291.04" width="1.02" height="18.86" fill="rgb(145,108,150)"/>
<rect x="107.70" y="291.04" width="1.02" height="18.86" fill="rgb(176,126,155)"/>
<rect x="108.70" y="291.04" width="1.02" height="18.86" fill="rgb(72,98,173)"/>
<rect x="109.70" y="291.04" width="1.02" height="18.86" fill="rgb(203,194,214)"/>
<rect x="110.70" y="291.04" width="1.02" height="18.86" fill="rgb(247,203,203)"/>
<rect x="111.70" y="291.04" width="1.02" height="18.86" fill="rgb(174,150,181)"/>
<rect x="112.70" y="291.04" width="1.02" height="18.86" fill="rgb(145,113,155)"/>
<rect x="113.70" y="291.04" width="1.02" height="18.86" fill="rgb(235,119,119)"/>
<rect x="114.70" y="291.04" width="1.02" height="18.86" fill="rgb(146,118,160)"/>
<rect x="115.70" y="291.04" width="1.02" height="18.86" fill="rgb(187,196,224)"/>
<rect x="116.70" y="291.04" width="1.02" height="18.86" fill="rgb(152,105,143)"/>
<rect x="117.70" y="291.04" width="1.02" height="18.86" fill="rgb(97,119,184)"/>
<rect x="118.70" y="291.04" width="1.02" height="18.86" fill="rgb(236,219,225)"/>
<rect x="119.70" y="291.04" width="1.02" height="18.86" fill="rgb(115,135,192)"/>
<rect x="120.70" y="291.04" width="1.02" height="18.86" fill="rgb(236,119,119)"/>
<rect x="121.70" y="291.04" width="1.02" height="18.86" fill="rgb(229,195,203)"/>
<rect x="122.70" y="291.04" width="1.02" height="18.86" fill="rgb(120,139,194)"/>
<rect x="123.70" y="291.04" width="1.02" height="18.86" fill="rgb(211,209,226)"/>
<rect x="124.70" y="291.04" width="1.02" height="18.86" fill="rgb(237,148,150)"/>
<rect x="125.70" y="291.04" width="1.02" height="18.86" fill="rgb(184,177,205)"/>
<rect x="126.70" y="291.04" width="1.02" height="18.86" fill="rgb(232,93,93)"/>
<rect x="127.70" y="291.04" width="1.02" height="18.86" fill="rgb(208,209,227)"/>
<rect x="128.70" y="291.04" width="1.02" height="18.86" fill="rgb(88,111,180)"/>
<rect x="129.70" y="291.04" width="1.02" height="18.86" fill="rgb(195,152,173)"/>
<rect x="130.70" y="291.04" width="1.02" height="18.86" fill="rgb(169,170,204)"/>
<rect x="131.70" y="291.04" width="1.02" height="18.86" fill="rgb(247,200,200)"/>
<rect x="132.70" y="291.04" width="1.02" height="18.86" fill="rgb(236,121,121)"/>
<rect x="133.70" y="291.04" width="1.02" height="18.86" fill="rgb(192,145,167)"/>
<rect x="134.70" y="291.04" width="1.02" height="18.86" fill="rgb(186,156,182)"/>
<rect x="135.70" y="291.04" width="1.02" height="18.86" fill="rgb(251,227,227)"/>
<rect x="136.70" y="291.04" width="1.02" height="18.86" fill="rgb(245,191,191)"/>
<rect x="137.70" y="291.04" width="1.02" height="18.86" fill="rgb(236,126,126)"/>
<rect x="138.70" y="291.04" width="1.02" height="18.86" fill="rgb(217,215,230)"/>
<rect x="139.70" y="291.04" width="1.02" height="18.86" fill="rgb(173,184,218)"/>
<rect x="140.70" y="291.04" width="1.02" height="18.86" fill="rgb(240,242,248)"/>
<rect x="141.70" y="291.04" width="1.02" height="18.86" fill="rgb(234,110,110)"/>
<rect x="142.70" y="291.04" width="1.02" height="18.86" fill="rgb(193,158,180)"/>
<rect x="143.70" y="291.04" width="1.02" height="18.86" fill="rgb(189,198,225)"/>
<rect x="144.70" y="291.04" width="1.02" height="18.86" fill="rgb(187,185,213)"/>
<rect x="145.70" y="291.04" width="1.02" height="18.86" fill="rgb(204,120,135)"/>
<rect x="146.70" y="291.04" width="1.02" height="18.86" fill="rgb(143,97,139)"/>
<rect x="147.70" y="291.04" width="1.02" height="18.86" fill="rgb(252,236,236)"/>
<rect x="148.70" y="291.04" width="1.02" height="18.86" fill="rgb(247,203,203)"/>
<rect x="24.70" y="309.88" width="1.02" height="18.86" fill="rgb(253,241,241)"/>
<rect x="25.70" y="309.88" width="1.02" height="18.86" fill="rgb(175,186,219)"/>
<rect x="26.70" y="309.88" width="1.02" height="18.86" fill="rgb(180,173,203)"/>
<rect x="27.70" y="309.88" width="1.02" height="18.86" fill="rgb(247,240,242)"/>
<rect x="28.70" y="309.88" width="1.02" height="18.86" fill="rgb(212,218,235)"/>
<rect x="29.70" y="309.88" width="1.02" height="18.86" fill="rgb(239,143,143)"/>
<rect x="30.70" y="309.88" width="1.02" height="18.86" fill="rgb(247,213,214)"/>
<rect x="31.70" y="309.88" width="1.02" height="18.86" fill="rgb(147,162,206)"/>
<rect x="32.70" y="309.88" width="1.02" height="18.86" fill="rgb(213,219,236)"/>
<rect x="33.70" y="309.88" width="1.02" height="18.86" fill="rgb(237,234,241)"/>
<rect x="34.70" y="309.88" width="1.02" height="18.86" fill="rgb(221,143,152)"/>
<rect x="35.70" y="309.88" width="1.02" height="18.86" fill="rgb(253,244,244)"/>
<rect x="36.70" y="309.88" width="1.02" height="18.86" fill="rgb(247,201,201)"/>
<rect x="37.70" y="309.88" width="1.02" height="18.86" fill="rgb(181,108,132)"/>
<rect x="38.70" y="309.88" width="1.02" height="18.86" fill="rgb(243,234,238)"/>
<rect x="39.70" y="309.88" width="1.02" height="18.86" fill="rgb(177,169,199)"/>
<rect x="40.70" y="309.88" width="1.02" height="18.86" fill="rgb(67,93,171)"/>
<rect x="41.70" y="309.88" width="1.02" height="18.86" fill="rgb(248,210,210)"/>
<rect x="42.70" y="309.88" width="1.02" height="18.86" fill="rgb(152,160,202)"/>
<rect x="43.70" y="309.88" width="1.02" height="18.86" fill="rgb(204,211,232)"/>
<rect x="44.70" y="309.88" width="1.02" height="18.86" fill="rgb(143,158,205)"/>
<rect x="45.70" y="309.88" width="1.02" height="18.86" fill="rgb(245,183,183)"/>
<rect x="46.70" y="309.88" width="1.02" height="18.86" fill="rgb(250,222,222)"/>
<rect x="47.70" y="309.88" width="1.02" height="18.86" fill="rgb(226,224,235)"/>
<rect x="48.70" y="309.88" width="1.02" height="18.86" fill="rgb(249,217,217)"/>
<rect x="49.70" y="309.88" width="1.02" height="18.86" fill="rgb(250,251,253)"/>
<rect x="50.70" y="309.88" width="1.02" height="18.86" fill="rgb(222,226,240)"/>
<rect x="51.70" y="309.88" width="1.02" height="18.86" fill="rgb(236,121,121)"/>
<rect x="52.70" y="309.88" width="1.02" height="18.86" fill="rgb(236,125,125)"/>
<rect x="53.70" y="309.88" width="1.02" height="18.86" fill="rgb(168,113,145)"/>
<rect x="54.70" y="309.88" width="1.02" height="18.86" fill="rgb(242,168,168)"/>
<rect x="55.70" y="309.88" width="1.02" height="18.86" fill="rgb(230,82,82)"/>
<rect x="56.70" y="309.88" width="1.02" height="18.86" fill="rgb(192,163,186)"/>
<rect x="57.70" y="309.88" width="1.02" height="18.86" fill="rgb(211,202,219)"/>
<rect x="58.70" y="309.88" width="1.02" height="18.86" fill="rgb(202,183,203)"/>
<rect x="59.70" y="309.88" width="1.02" height="18.86" fill="rgb(221,226,240)"/>
<rect x="60.70" y="309.88" width="1.02" height="18.86" fill="rgb(251,227,227)"/>
<rect x="61.70" y="309.88" width="1.02" height="18.86" fill="rgb(184,194,223)"/>
<rect x="62.70" y="309.88" width="1.02" height="18.86" fill="rgb(233,101,101)"/>
<rect x="63.70" y="309.88" width="1.02" height="18.86" fill="rgb(245,196,197)"/>
<rect x="64.70" y="309.88" width="1.02" height="18.86" fill="rgb(246,190,190)"/>
<rect x="65.70" y="309.88" width="1.02" height="18.86" fill="rgb(215,196,210)"/>
<rect x="66.70" y="309.88" width="1.02" height="18.86" fill="rgb(242,166,166)"/>
<rect x="67.70" y="309.88" width="1.02" height="18.86" fill="rgb(198,115,132)"/>
<rect x="68.70" y="309.88" width="1.02" height="18.86" fill="rgb(226,53,53)"/>
<rect x="69.70" y="309.88" width="1.02" height="18.86" fill="rgb(234,109,109)"/>
<rect x="70.70" y="309.88" width="1.02" height="18.86" fill="rgb(214,219,236)"/>
<rect x="71.70" y="309.88" width="1.02" height="18.86" fill="rgb(215,212,228)"/>
<rect x="72.70" y="309.88" width="1.02" height="18.86" fill="rgb(249,215,215)"/>
<rect x="73.70" y="309.88" width="1.02" height="18.86" fill="rgb(141,66,107)"/>
<rect x="74.70" y="309.88" width="1.02" height="18.86" fill="rgb(240,149,149)"/>
<rect x="75.70" y="309.88" width="1.02" height="18.86" fill="rgb(245,188,188)"/>
<rect x="76.70" y="309.88" width="1.02" height="18.86" fill="rgb(245,231,234)"/>
<rect x="77.70" y="309.88" width="1.02" height="18.86" fill="rgb(213,219,236)"/>
<rect x="78.70" y="309.88" width="1.02" height="18.86" fill="rgb(252,240,240)"/>
<rect x="79.70" y="309.88" width="1.02" height="18.86" fill="rgb(212,200,217)"/>
<rect x="80.70" y="309.88" width="1.02" height="18.86" fill="rgb(253,243,243)"/>
<rect x="81.70" y="309.88" width="1.02" height="18.86" fill="rgb(199,176,197)"/>
<rect x="82.70" y="309.88" width="1.02" height="18.86" fill="rgb(243,175,175)"/>
<rect x="83.70" y="309.88" width="1.02" height="18.86" fill="rgb(234,207,213)"/>
<rect x="84.70" y="309.88" width="1.02" height="18.86" fill="rgb(224,229,241)"/>
<rect x="85.70" y="309.88" width="1.02" height="18.86" fill="rgb(237,130,130)"/>
<rect x="86.70" y="309.88" width="1.02" height="18.86" fill="rgb(221,225,239)"/>
<rect x="87.70" y="309.88" width="1.02" height="18.86" fill="rgb(249,218,218)"/>
<rect x="88.70" y="309.88" width="1.02" height="18.86" fill="rgb(178,188,220)"/>
<rect x="89.70" y="309.88" width="1.02" height="18.86" fill="rgb(247,215,215)"/>
<rect x="90.70" y="309.88" width="1.02" height="18.86" fill="rgb(149,164,207)"/>
<rect x="91.70" y="309.88" width="1.02" height="18.86" fill="rgb(192,175,199)"/>
<rect x="92.70" y="309.88" width="1.02" height="18.86" fill="rgb(250,224,224)"/>
<rect x="93.70" y="309.88" width="1.02" height="18.86" fill="rgb(204,211,232)"/>
<rect x="94.70" y="309.88" width="1.02" height="18.86" fill="rgb(241,243,248)"/>
<rect x="95.70" y="309.88" width="1.02" height="18.86" fill="rgb(212,200,216)"/>
<rect x="96.70" y="309.88" width="1.02" height="18.86" fill="rgb(164,124,158)"/>
<rect x="97.70" y="309.88" width="1.02" height="18.86" fill="rgb(248,246,248)"/>
<rect x="98.70" y="309.88" width="1.02" height="18.86" fill="rgb(220,178,189)"/>
<rect x="99.70" y="309.88" width="1.02" height="18.86" fill="rgb(225,201,211)"/>
<rect x="100.70" y="309.88" width="1.02" height="18.86" fill="rgb(236,119,119)"/>
<rect x="101.70" y="309.88" width="1.02" height="18.86" fill="rgb(234,213,221)"/>
<rect x="102.70" y="309.88" width="1.02" height="18.86" fill="rgb(203,163,181)"/>
<rect x="103.70" y="309.88" width="1.02" height="18.86" fill="rgb(244,183,183)"/>
<rect x="104.70" y="309.88" width="1.02" height="18.86" fill="rgb(197,183,206)"/>
<rect x="105.70" y="309.88" width="1.02" height="18.86" fill="rgb(237,132,132)"/>
<rect x="106.70" y="309.88" width="1.02" height="18.86" fill="rgb(159,132,169)"/>
<rect x="107.70" y="309.88" width="1.02" height="18.86" fill="rgb(213,151,164)"/>
<rect x="108.70" y="309.88" width="1.02" height="18.86" fill="rgb(187,142,166)"/>
<rect x="109.70" y="309.88" width="1.02" height="18.86" fill="rgb(234,111,111)"/>
<rect x="110.70" y="309.88" width="1.02" height="18.86" fill="rgb(232,181,187)"/>
<rect x="111.70" y="309.88" width="1.02" height="18.86" fill="rgb(194,202,227)"/>
<rect x="112.70" y="309.88" width="1.02" height="18.86" fill="rgb(248,248,251)"/>
<rect x="113.70" y="309.88" width="1.02" height="18.86" fill="rgb(245,212,213)"/>
<rect x="114.70" y="309.88" width="1.02" height="18.86" fill="rgb(249,216,216)"/>
<rect x="115.70" y="309.88" width="1.02" height="18.86" fill="rgb(240,152,152)"/>
<rect x="116.70" y="309.88" width="1.02" height="18.86" fill="rgb(250,220,220)"/>
<rect x="117.70" y="309.88" width="1.02" height="18.86" fill="rgb(219,224,239)"/>
<rect x="118.70" y="309.88" width="1.02" height="18.86" fill="rgb(243,170,170)"/>
<rect x="119.70" y="309.88" width="1.02" height="18.86" fill="rgb(178,189,220)"/>
<rect x="120.70" y="309.88" width="1.02" height="18.86" fill="rgb(232,235,244)"/>
<rect x="121.70" y="309.88" width="1.02" height="18.86" fill="rgb(191,147,170)"/>
<rect x="122.70" y="309.88" width="1.02" height="18.86" fill="rgb(249,215,215)"/>
<rect x="123.70" y="309.88" width="1.02" height="18.86" fill="rgb(197,200,223)"/>
<rect x="124.70" y="309.88" width="1.02" height="18.86" fill="rgb(249,224,224)"/>
<rect x="125.70" y="309.88" width="1.02" height="18.86" fill="rgb(232,219,227)"/>
<rect x="126.70" y="309.88" width="1.02" height="18.86" fill="rgb(122,140,195)"/>
<rect x="127.70" y="309.88" width="1.02" height="18.86" fill="rgb(240,153,153)"/>
<rect x="128.70" y="309.88" width="1.02" height="18.86" fill="rgb(227,228,240)"/>
<rect x="129.70" y="309.88" width="1.02" height="18.86" fill="rgb(145,108,150)"/>
<rect x="130.70" y="309.88" width="1.02" height="18.86" fill="rgb(212,184,200)"/>
<rect x="131.70" y="309.88" width="1.02" height="18.86" fill="rgb(200,175,195)"/>
<rect x="132.70" y="309.88" width="1.02" height="18.86" fill="rgb(151,96,134)"/>
<rect x="133.70" y="309.88" width="1.02" height="18.86" fill="rgb(211,207,224)"/>
<rect x="134.70" y="309.88" width="1.02" height="18.86" fill="rgb(247,198,198)"/>
<rect x="135.70" y="309.88" width="1.02" height="18.86" fill="rgb(144,106,148)"/>
<rect x="136.70" y="309.88" width="1.02" height="18.86" fill="rgb(147,125,167)"/>
<rect x="137.70" y="309.88" width="1.02" height="18.86" fill="rgb(161,136,172)"/>
<rect x="138.70" y="309.88" width="1.02" height="18.86" fill="rgb(242,168,168)"/>
<rect x="139.70" y="309.88" width="1.02" height="18.86" fill="rgb(212,127,139)"/>
<rect x="140.70" y="309.88" width="1.02" height="18.86" fill="rgb(246,193,193)"/>
<rect x="141.70" y="309.88" width="1.02" height="18.86" fill="rgb(193,201,227)"/>
<rect x="142.70" y="309.88" width="1.02" height="18.86" fill="rgb(239,241,247)"/>
<rect x="143.70" y="309.88" width="1.02" height="18.86" fill="rgb(199,182,203)"/>
<rect x="144.70" y="309.88" width="1.02" height="18.86" fill="rgb(249,216,216)"/>
<rect x="145.70" y="309.88" width="1.02" height="18.86" fill="rgb(228,152,157)"/>
<rect x="146.70" y="309.88" width="1.02" height="18.86" fill="rgb(220,162,173)"/>
<rect x="147.70" y="309.88" width="1.02" height="18.86" fill="rgb(154,130,169)"/>
<rect x="148.70" y="309.88" width="1.02" height="18.86" fill="rgb(247,236,238)"/>
<rect x="24.70" y="328.72" width="1.02" height="18.86" fill="rgb(218,223,238)"/>
<rect x="25.70" y="328.72" width="1.02" height="18.86" fill="rgb(219,224,239)"/>
<rect x="26.70" y="328.72" width="1.02" height="18.86" fill="rgb(172,184,218)"/>
<rect x="27.70" y="328.72" width="1.02" height="18.86" fill="rgb(219,224,238)"/>
<rect x="28.70" y="328.72" width="1.02" height="18.86" fill="rgb(215,221,237)"/>
<rect x="29.70" y="328.72" width="1.02" height="18.86" fill="rgb(242,228,232)"/>
<rect x="30.70" y="328.72" width="1.02" height="18.86" fill="rgb(233,206,213)"/>
<rect x="31.70" y="328.72" width="1.02" height="18.86" fill="rgb(248,209,209)"/>
<rect x="32.70" y="328.72" width="1.02" height="18.86" fill="rgb(238,216,221)"/>
<rect x="33.70" y="328.72" width="1.02" height="18.86" fill="rgb(244,221,224)"/>
<rect x="34.70" y="328.72" width="1.02" height="18.86" fill="rgb(229,233,243)"/>
<rect x="35.70" y="328.72" width="1.02" height="18.86" fill="rgb(253,241,241)"/>
<rect x="36.70" y="328.72" width="1.02" height="18.86" fill="rgb(238,196,200)"/>
<rect x="37.70" y="328.72" width="1.02" height="18.86" fill="rgb(244,212,214)"/>
<rect x="38.70" y="328.72" width="1.02" height="18.86" fill="rgb(242,166,166)"/>
<rect x="39.70" y="328.72" width="1.02" height="18.86" fill="rgb(199,173,194)"/>
<rect x="40.70" y="328.72" width="1.02" height="18.86" fill="rgb(171,183,217)"/>
<rect x="41.70" y="328.72" width="1.02" height="18.86" fill="rgb(240,154,154)"/>
<rect x="42.70" y="328.72" width="1.02" height="18.86" fill="rgb(198,190,213)"/>
<rect x="43.70" y="328.72" width="1.02" height="18.86" fill="rgb(187,197,224)"/>
<rect x="44.70" y="328.72" width="1.02" height="18.86" fill="rgb(240,210,214)"/>
<rect x="45.70" y="328.72" width="1.02" height="18.86" fill="rgb(244,182,182)"/>
<rect x="46.70" y="328.72" width="1.02" height="18.86" fill="rgb(206,172,190)"/>
<rect x="47.70" y="328.72" width="1.02" height="18.86" fill="rgb(247,200,200)"/>
<rect x="48.70" y="328.72" width="1.02" height="18.86" fill="rgb(228,209,218)"/>
<rect x="49.70" y="328.72" width="1.02" height="18.86" fill="rgb(192,200,226)"/>
<rect x="50.70" y="328.72" width="1.02" height="18.86" fill="rgb(213,128,139)"/>
<rect x="51.70" y="328.72" width="1.02" height="18.86" fill="rgb(224,156,164)"/>
<rect x="52.70" y="328.72" width="1.02" height="18.86" fill="rgb(250,223,223)"/>
<rect x="53.70" y="328.72" width="1.02" height="18.86" fill="rgb(216,187,201)"/>
<rect x="54.70" y="328.72" width="1.02" height="18.86" fill="rgb(245,186,186)"/>
<rect x="55.70" y="328.72" width="1.02" height="18.86" fill="rgb(183,165,192)"/>
<rect x="56.70" y="328.72" width="1.02" height="18.86" fill="rgb(247,200,200)"/>
<rect x="57.70" y="328.72" width="1.02" height="18.86" fill="rgb(228,162,169)"/>
<rect x="58.70" y="328.72" width="1.02" height="18.86" fill="rgb(245,188,188)"/>
<rect x="59.70" y="328.72" width="1.02" height="18.86" fill="rgb(208,161,177)"/>
<rect x="60.70" y="328.72" width="1.02" height="18.86" fill="rgb(133,150,200)"/>
<rect x="61.70" y="328.72" width="1.02" height="18.86" fill="rgb(203,186,205)"/>
<rect x="62.70" y="328.72" width="1.02" height="18.86" fill="rgb(179,190,221)"/>
<rect x="63.70" y="328.72" width="1.02" height="18.86" fill="rgb(204,205,226)"/>
<rect x="64.70" y="328.72" width="1.02" height="18.86" fill="rgb(184,176,204)"/>
<rect x="65.70" y="328.72" width="1.02" height="18.86" fill="rgb(242,222,226)"/>
<rect x="66.70" y="328.72" width="1.02" height="18.86" fill="rgb(254,248,248)"/>
<rect x="67.70" y="328.72" width="1.02" height="18.86" fill="rgb(195,195,219)"/>
<rect x="68.70" y="328.72" width="1.02" height="18.86" fill="rgb(152,162,204)"/>
<rect x="69.70" y="328.72" width="1.02" height="18.86" fill="rgb(197,205,229)"/>
<rect x="70.70" y="328.72" width="1.02" height="18.86" fill="rgb(162,154,191)"/>
<rect x="71.70" y="328.72" width="1.02" height="18.86" fill="rgb(197,205,229)"/>
<rect x="72.70" y="328.72" width="1.02" height="18.86" fill="rgb(206,196,215)"/>
<rect x="73.70" y="328.72" width="1.02" height="18.86" fill="rgb(217,222,237)"/>
<rect x="74.70" y="328.72" width="1.02" height="18.86" fill="rgb(206,176,194)"/>
<rect x="75.70" y="328.72" width="1.02" height="18.86" fill="rgb(223,200,211)"/>
<rect x="76.70" y="328.72" width="1.02" height="18.86" fill="rgb(166,157,192)"/>
<rect x="77.70" y="328.72" width="1.02" height="18.86" fill="rgb(207,210,230)"/>
<rect x="78.70" y="328.72" width="1.02" height="18.86" fill="rgb(246,194,194)"/>
<rect x="79.70" y="328.72" width="1.02" height="18.86" fill="rgb(241,160,160)"/>
<rect x="80.70" y="328.72" width="1.02" height="18.86" fill="rgb(234,237,245)"/>
<rect x="81.70" y="328.72" width="1.02" height="18.86" fill="rgb(232,200,207)"/>
<rect x="82.70" y="328.72" width="1.02" height="18.86" fill="rgb(176,140,169)"/>
<rect x="83.70" y="328.72" width="1.02" height="18.86" fill="rgb(245,216,218)"/>
<rect x="84.70" y="328.72" width="1.02" height="18.86" fill="rgb(159,129,165)"/>
<rect x="85.70" y="328.72" width="1.02" height="18.86" fill="rgb(251,232,232)"/>
<rect x="86.70" y="328.72" width="1.02" height="18.86" fill="rgb(190,198,225)"/>
<rect x="87.70" y="328.72" width="1.02" height="18.86" fill="rgb(209,149,164)"/>
<rect x="88.70" y="328.72" width="1.02" height="18.86" fill="rgb(117,136,193)"/>
<rect x="89.70" y="328.72" width="1.02" height="18.86" fill="rgb(199,207,230)"/>
<rect x="90.70" y="328.72" width="1.02" height="18.86" fill="rgb(201,208,230)"/>
<rect x="91.70" y="328.72" width="1.02" height="18.86" fill="rgb(211,171,185)"/>
<rect x="92.70" y="328.72" width="1.02" height="18.86" fill="rgb(177,103,130)"/>
<rect x="93.70" y="328.72" width="1.02" height="18.86" fill="rgb(185,195,223)"/>
<rect x="94.70" y="328.72" width="1.02" height="18.86" fill="rgb(245,183,183)"/>
<rect x="95.70" y="328.72" width="1.02" height="18.86" fill="rgb(204,177,195)"/>
<rect x="96.70" y="328.72" width="1.02" height="18.86" fill="rgb(133,150,200)"/>
<rect x="97.70" y="328.72" width="1.02" height="18.86" fill="rgb(238,190,194)"/>
<rect x="98.70" y="328.72" width="1.02" height="18.86" fill="rgb(193,177,201)"/>
<rect x="99.70" y="328.72" width="1.02" height="18.86" fill="rgb(248,205,205)"/>
<rect x="100.70" y="328.72" width="1.02" height="18.86" fill="rgb(161,174,213)"/>
<rect x="101.70" y="328.72" width="1.02" height="18.86" fill="rgb(246,191,191)"/>
<rect x="102.70" y="328.72" width="1.02" height="18.86" fill="rgb(233,156,159)"/>
<rect x="103.70" y="328.72" width="1.02" height="18.86" fill="rgb(235,236,244)"/>
<rect x="104.70" y="328.72" width="1.02" height="18.86" fill="rgb(206,159,176)"/>
<rect x="105.70" y="328.72" width="1.02" height="18.86" fill="rgb(144,102,144)"/>
<rect x="106.70" y="328.72" width="1.02" height="18.86" fill="rgb(221,189,201)"/>
<rect x="107.70" y="328.72" width="1.02" height="18.86" fill="rgb(246,193,193)"/>
<rect x="108.70" y="328.72" width="1.02" height="18.86" fill="rgb(202,209,231)"/>
<rect x="109.70" y="328.72" width="1.02" height="18.86" fill="rgb(248,208,208)"/>
<rect x="110.70" y="328.72" width="1.02" height="18.86" fill="rgb(172,183,217)"/>
<rect x="111.70" y="328.72" width="1.02" height="18.86" fill="rgb(154,77,112)"/>
<rect x="112.70" y="328.72" width="1.02" height="18.86" fill="rgb(242,244,249)"/>
<rect x="113.70" y="328.72" width="1.02" height="18.86" fill="rgb(182,150,177)"/>
<rect x="114.70" y="328.72" width="1.02" height="18.86" fill="rgb(223,164,173)"/>
<rect x="115.70" y="328.72" width="1.02" height="18.86" fill="rgb(248,206,206)"/>
<rect x="116.70" y="328.72" width="1.02" height="18.86" fill="rgb(201,175,195)"/>
<rect x="117.70" y="328.72" width="1.02" height="18.86" fill="rgb(219,224,239)"/>
<rect x="118.70" y="328.72" width="1.02" height="18.86" fill="rgb(198,202,225)"/>
<rect x="119.70" y="328.72" width="1.02" height="18.86" fill="rgb(241,180,181)"/>
<rect x="120.70" y="328.72" width="1.02" height="18.86" fill="rgb(125,143,196)"/>
<rect x="121.70" y="328.72" width="1.02" height="18.86" fill="rgb(197,205,229)"/>
<rect x="122.70" y="328.72" width="1.02" height="18.86" fill="rgb(248,208,208)"/>
<rect x="123.70" y="328.72" width="1.02" height="18.86" fill="rgb(235,234,241)"/>
<rect x="124.70" y="328.72" width="1.02" height="18.86" fill="rgb(248,207,207)"/>
<rect x="125.70" y="328.72" width="1.02" height="18.86" fill="rgb(163,176,214)"/>
<rect x="126.70" y="328.72" width="1.02" height="18.86" fill="rgb(142,158,204)"/>
<rect x="127.70" y="328.72" width="1.02" height="18.86" fill="rgb(252,238,238)"/>
<rect x="128.70" y="328.72" width="1.02" height="18.86" fill="rgb(216,213,229)"/>
<rect x="129.70" y="328.72" width="1.02" height="18.86" fill="rgb(209,216,234)"/>
<rect x="130.70" y="328.72" width="1.02" height="18.86" fill="rgb(246,197,197)"/>
<rect x="131.70" y="328.72" width="1.02" height="18.86" fill="rgb(233,104,104)"/>
<rect x="132.70" y="328.72" width="1.02" height="18.86" fill="rgb(203,210,231)"/>
<rect x="133.70" y="328.72" width="1.02" height="18.86" fill="rgb(212,202,218)"/>
<rect x="134.70" y="328.72" width="1.02" height="18.86" fill="rgb(236,120,120)"/>
<rect x="135.70" y="328.72" width="1.02" height="18.86" fill="rgb(100,122,185)"/>
<rect x="136.70" y="328.72" width="1.02" height="18.86" fill="rgb(194,178,201)"/>
<rect x="137.70" y="328.72" width="1.02" height="18.86" fill="rgb(252,233,233)"/>
<rect x="138.70" y="328.72" width="1.02" height="18.86" fill="rgb(207,136,151)"/>
<rect x="139.70" y="328.72" width="1.02" height="18.86" fill="rgb(205,127,142)"/>
<rect x="140.70" y="328.72" width="1.02" height="18.86" fill="rgb(219,206,220)"/>
<rect x="141.70" y="328.72" width="1.02" height="18.86" fill="rgb(96,118,183)"/>
<rect x="142.70" y="328.72" width="1.02" height="18.86" fill="rgb(152,160,202)"/>
<rect x="143.70" y="328.72" width="1.02" height="18.86" fill="rgb(247,198,198)"/>
<rect x="144.70" y="328.72" width="1.02" height="18.86" fill="rgb(223,227,240)"/>
<rect x="145.70" y="328.72" width="1.02" height="18.86" fill="rgb(210,134,147)"/>
<rect x="146.70" y="328.72" width="1.02" height="18.86" fill="rgb(174,175,208)"/>
<rect x="147.70" y="328.72" width="1.02" height="18.86" fill="rgb(249,217,217)"/>
<rect x="148.70" y="328.72" width="1.02" height="18.86" fill="rgb(235,214,220)"/>
<text x="152.60" y="189.60" font-size="8.2" fill="#231f20">Central carbon metabolism in cancer</text>
<text x="295.00" y="189.60" font-size="8.2" fill="#3a62b0">P = 1.4*10<tspan font-size="5" dy="-3.6">-5</tspan></text>
<text x="152.60" y="209.30" font-size="8.2" fill="#231f20">Choline metabolism in cancer</text>
<text x="270.50" y="209.30" font-size="8.2" fill="#3a62b0">P = 1.1*10<tspan font-size="5" dy="-3.6">-5</tspan></text>
<text x="152.60" y="227.70" font-size="8.2" fill="#231f20">Glycerophospholipid metabolism</text>
<text x="281.70" y="227.70" font-size="8.2" fill="#3a62b0">P = 0.03</text>
<text x="152.60" y="246.70" font-size="8.2" fill="#231f20">Glycosphingolipid biosynthesis - ganglio series</text>
<text x="331.30" y="246.70" font-size="8.2" fill="#3a62b0">P = 8.7*10<tspan font-size="5" dy="-3.6"> -17</tspan></text>
<text x="152.60" y="266.60" font-size="8.2" fill="#231f20">Glycosphingolipid biosynthesis - lacto and neolacto series</text>
<text x="373.50" y="266.60" font-size="8.2" fill="#3a62b0">P = 8.4*10<tspan font-size="5" dy="-3.6">-12</tspan></text>
<text x="152.60" y="284.70" font-size="8.2" fill="#231f20">Pyrimidine metabolism</text>
<text x="247.80" y="284.70" font-size="8.2" fill="#d03a32">P = 9.7*10<tspan font-size="5" dy="-3.6">-18</tspan></text>
<text x="152.60" y="303.50" font-size="8.2" fill="#231f20">Glyoxylate and dicarboxylate metabolism</text>
<text x="309.70" y="303.50" font-size="8.2" fill="#d03a32">P = 0.0026</text>
<text x="152.60" y="322.80" font-size="8.2" fill="#231f20">beta-Alanine metabolism</text>
<text x="256.70" y="322.80" font-size="8.2" fill="#a0a0a0">P = 0.06</text>
<text x="152.60" y="341.90" font-size="8.2" fill="#231f20">Glycine, serine and threonine metabolism</text>
<text x="309.70" y="341.90" font-size="8.2" fill="#a0a0a0">P = 0.16</text>
<defs><linearGradient id="hmg" x1="0" y1="0" x2="0" y2="1"><stop offset="0" stop-color="#e03030"/><stop offset="0.5" stop-color="#ffffff"/><stop offset="1" stop-color="#3050a4"/></linearGradient></defs>
<rect x="368.30" y="299.00" width="5.20" height="47.20" fill="url(#hmg)" stroke="none" stroke-width="1"/>
<text x="375.30" y="306.80" font-size="7.8" fill="#231f20">0.6</text>
<text x="375.30" y="323.60" font-size="7.8" fill="#231f20">0</text>
<text x="375.30" y="343.30" font-size="7.8" fill="#231f20">-0.6</text>
<text x="421.80" y="172.90" font-size="16" font-weight="bold" fill="#231f20">c</text>
<text x="448.00" y="177.60" font-size="9.67" fill="#231f20">Cancer tissues VS adjecent tissues (TCGA)</text>
<rect x="531.98" y="308.63" width="1.1" height="1.1" fill="#d28ac8"/>
<rect x="546.75" y="320.44" width="1.1" height="1.1" fill="#d28ac8"/>
<rect x="536.62" y="319.36" width="1.1" height="1.1" fill="#d28ac8"/>
<rect x="526.92" y="291.83" width="1.1" height="1.1" fill="#d28ac8"/>
<rect x="534.49" y="325.69" width="1.1" height="1.1" fill="#d28ac8"/>
<rect x="532.56" y="325.81" width="1.1" height="1.1" fill="#d28ac8"/>
<rect x="551.99" y="300.46" width="1.1" height="1.1" fill="#d28ac8"/>
<rect x="527.96" y="291.49" width="1.1" height="1.1" fill="#d28ac8"/>
<rect x="533.22" y="320.91" width="1.1" height="1.1" fill="#d28ac8"/>
<rect x="522.35" y="299.91" width="1.1" height="1.1" fill="#d28ac8"/>
<rect x="536.15" y="320.33" width="1.1" height="1.1" fill="#d28ac8"/>
<rect x="531.87" y="323.13" width="1.1" height="1.1" fill="#d28ac8"/>
<rect x="532.06" y="258.52" width="1.1" height="1.1" fill="#d28ac8"/>
<rect x="527.50" y="301.35" width="1.1" height="1.1" fill="#d28ac8"/>
<rect x="538.86" y="266.35" width="1.1" height="1.1" fill="#d28ac8"/>
<rect x="524.13" y="291.73" width="1.1" height="1.1" fill="#d28ac8"/>
<rect x="561.03" y="266.38" width="1.1" height="1.1" fill="#d28ac8"/>
<rect x="525.96" y="292.24" width="1.1" height="1.1" fill="#d28ac8"/>
<rect x="526.85" y="308.63" width="1.1" height="1.1" fill="#d28ac8"/>
<rect x="530.30" y="308.12" width="1.1" height="1.1" fill="#d28ac8"/>
<rect x="558.29" y="292.12" width="1.1" height="1.1" fill="#d28ac8"/>
<rect x="555.64" y="319.36" width="1.1" height="1.1" fill="#d28ac8"/>
<rect x="541.18" y="324.66" width="1.1" height="1.1" fill="#d28ac8"/>
<rect x="552.71" y="316.36" width="1.1" height="1.1" fill="#d28ac8"/>
<rect x="528.85" y="303.42" width="1.1" height="1.1" fill="#d28ac8"/>
<rect x="554.38" y="304.38" width="1.1" height="1.1" fill="#d28ac8"/>
<rect x="532.16" y="319.40" width="1.1" height="1.1" fill="#d28ac8"/>
<rect x="530.90" y="309.62" width="1.1" height="1.1" fill="#d28ac8"/>
<rect x="554.80" y="298.15" width="1.1" height="1.1" fill="#d28ac8"/>
<rect x="538.78" y="324.73" width="1.1" height="1.1" fill="#d28ac8"/>
<rect x="524.16" y="306.56" width="1.1" height="1.1" fill="#d28ac8"/>
<rect x="545.35" y="323.64" width="1.1" height="1.1" fill="#d28ac8"/>
<rect x="558.23" y="294.70" width="1.1" height="1.1" fill="#d28ac8"/>
<rect x="561.34" y="285.99" width="1.1" height="1.1" fill="#d28ac8"/>
<rect x="553.12" y="302.94" width="1.1" height="1.1" fill="#d28ac8"/>
<rect x="544.19" y="321.13" width="1.1" height="1.1" fill="#d28ac8"/>
<rect x="552.31" y="310.73" width="1.1" height="1.1" fill="#d28ac8"/>
<rect x="549.49" y="323.65" width="1.1" height="1.1" fill="#d28ac8"/>
<rect x="532.48" y="319.11" width="1.1" height="1.1" fill="#d28ac8"/>
<rect x="553.33" y="317.93" width="1.1" height="1.1" fill="#d28ac8"/>
<rect x="537.26" y="321.21" width="1.1" height="1.1" fill="#d28ac8"/>
<rect x="551.04" y="314.26" width="1.1" height="1.1" fill="#d28ac8"/>
<rect x="561.55" y="285.36" width="1.1" height="1.1" fill="#d28ac8"/>
<rect x="529.46" y="323.15" width="1.1" height="1.1" fill="#d28ac8"/>
<rect x="559.94" y="284.93" width="1.1" height="1.1" fill="#d28ac8"/>
<rect x="530.50" y="321.79" width="1.1" height="1.1" fill="#d28ac8"/>
<rect x="523.68" y="312.55" width="1.1" height="1.1" fill="#d28ac8"/>
<rect x="525.30" y="303.08" width="1.1" height="1.1" fill="#d28ac8"/>
<rect x="533.86" y="323.18" width="1.1" height="1.1" fill="#d28ac8"/>
<rect x="537.88" y="323.46" width="1.1" height="1.1" fill="#d28ac8"/>
<rect x="558.34" y="296.89" width="1.1" height="1.1" fill="#d28ac8"/>
<rect x="530.68" y="312.50" width="1.1" height="1.1" fill="#d28ac8"/>
<rect x="550.01" y="321.86" width="1.1" height="1.1" fill="#d28ac8"/>
<rect x="555.58" y="300.54" width="1.1" height="1.1" fill="#d28ac8"/>
<rect x="540.14" y="295.24" width="1.1" height="1.1" fill="#d28ac8"/>
<rect x="547.64" y="311.78" width="1.1" height="1.1" fill="#d28ac8"/>
<rect x="552.52" y="308.26" width="1.1" height="1.1" fill="#d28ac8"/>
<rect x="555.48" y="299.58" width="1.1" height="1.1" fill="#d28ac8"/>
<rect x="556.14" y="282.22" width="1.1" height="1.1" fill="#d28ac8"/>
<rect x="558.20" y="289.73" width="1.1" height="1.1" fill="#d28ac8"/>
<rect x="556.96" y="293.97" width="1.1" height="1.1" fill="#d28ac8"/>
<rect x="527.09" y="300.81" width="1.1" height="1.1" fill="#d28ac8"/>
<rect x="530.15" y="322.57" width="1.1" height="1.1" fill="#d28ac8"/>
<rect x="531.09" y="288.32" width="1.1" height="1.1" fill="#d28ac8"/>
<rect x="525.00" y="301.60" width="1.1" height="1.1" fill="#d28ac8"/>
<rect x="548.06" y="317.16" width="1.1" height="1.1" fill="#d28ac8"/>
<rect x="528.34" y="297.47" width="1.1" height="1.1" fill="#d28ac8"/>
<rect x="560.26" y="287.57" width="1.1" height="1.1" fill="#d28ac8"/>
<rect x="523.19" y="299.27" width="1.1" height="1.1" fill="#d28ac8"/>
<rect x="524.10" y="311.58" width="1.1" height="1.1" fill="#d28ac8"/>
<rect x="532.48" y="313.33" width="1.1" height="1.1" fill="#d28ac8"/>
<rect x="553.01" y="309.04" width="1.1" height="1.1" fill="#d28ac8"/>
<rect x="549.98" y="322.24" width="1.1" height="1.1" fill="#d28ac8"/>
<rect x="526.57" y="305.38" width="1.1" height="1.1" fill="#d28ac8"/>
<rect x="529.23" y="303.63" width="1.1" height="1.1" fill="#d28ac8"/>
<rect x="527.47" y="310.79" width="1.1" height="1.1" fill="#d28ac8"/>
<rect x="551.20" y="323.08" width="1.1" height="1.1" fill="#d28ac8"/>
<rect x="554.85" y="288.04" width="1.1" height="1.1" fill="#d28ac8"/>
<rect x="560.03" y="291.13" width="1.1" height="1.1" fill="#d28ac8"/>
<rect x="531.78" y="302.31" width="1.1" height="1.1" fill="#d28ac8"/>
<rect x="536.12" y="322.99" width="1.1" height="1.1" fill="#d28ac8"/>
<rect x="531.24" y="314.67" width="1.1" height="1.1" fill="#d28ac8"/>
<rect x="560.90" y="286.21" width="1.1" height="1.1" fill="#d28ac8"/>
<rect x="526.59" y="254.07" width="1.1" height="1.1" fill="#d28ac8"/>
<rect x="552.85" y="306.26" width="1.1" height="1.1" fill="#d28ac8"/>
<rect x="524.87" y="318.05" width="1.1" height="1.1" fill="#d28ac8"/>
<rect x="525.16" y="302.47" width="1.1" height="1.1" fill="#d28ac8"/>
<rect x="532.86" y="307.85" width="1.1" height="1.1" fill="#d28ac8"/>
<rect x="530.61" y="311.87" width="1.1" height="1.1" fill="#d28ac8"/>
<rect x="535.50" y="311.23" width="1.1" height="1.1" fill="#d28ac8"/>
<rect x="557.08" y="288.17" width="1.1" height="1.1" fill="#d28ac8"/>
<rect x="561.37" y="281.54" width="1.1" height="1.1" fill="#d28ac8"/>
<rect x="558.77" y="292.31" width="1.1" height="1.1" fill="#d28ac8"/>
<rect x="557.04" y="295.69" width="1.1" height="1.1" fill="#d28ac8"/>
<rect x="536.32" y="296.16" width="1.1" height="1.1" fill="#d28ac8"/>
<rect x="554.50" y="318.18" width="1.1" height="1.1" fill="#d28ac8"/>
<rect x="552.36" y="303.68" width="1.1" height="1.1" fill="#d28ac8"/>
<rect x="546.45" y="303.17" width="1.1" height="1.1" fill="#d28ac8"/>
<rect x="533.08" y="315.17" width="1.1" height="1.1" fill="#d28ac8"/>
<rect x="535.96" y="318.98" width="1.1" height="1.1" fill="#d28ac8"/>
<rect x="558.57" y="303.96" width="1.1" height="1.1" fill="#d28ac8"/>
<rect x="528.93" y="307.46" width="1.1" height="1.1" fill="#d28ac8"/>
<rect x="532.04" y="313.69" width="1.1" height="1.1" fill="#d28ac8"/>
<rect x="522.35" y="294.50" width="1.1" height="1.1" fill="#d28ac8"/>
<rect x="530.97" y="317.47" width="1.1" height="1.1" fill="#d28ac8"/>
<rect x="528.56" y="304.28" width="1.1" height="1.1" fill="#d28ac8"/>
<rect x="524.52" y="295.43" width="1.1" height="1.1" fill="#d28ac8"/>
<rect x="551.69" y="323.54" width="1.1" height="1.1" fill="#d28ac8"/>
<rect x="544.95" y="317.92" width="1.1" height="1.1" fill="#d28ac8"/>
<rect x="546.80" y="283.35" width="1.1" height="1.1" fill="#d28ac8"/>
<rect x="533.82" y="324.98" width="1.1" height="1.1" fill="#d28ac8"/>
<rect x="553.18" y="310.88" width="1.1" height="1.1" fill="#d28ac8"/>
<rect x="560.81" y="305.75" width="1.1" height="1.1" fill="#d28ac8"/>
<rect x="538.18" y="322.36" width="1.1" height="1.1" fill="#d28ac8"/>
<rect x="531.67" y="317.77" width="1.1" height="1.1" fill="#d28ac8"/>
<rect x="558.10" y="295.56" width="1.1" height="1.1" fill="#d28ac8"/>
<rect x="560.05" y="288.19" width="1.1" height="1.1" fill="#d28ac8"/>
<rect x="525.82" y="298.79" width="1.1" height="1.1" fill="#d28ac8"/>
<rect x="553.63" y="301.90" width="1.1" height="1.1" fill="#d28ac8"/>
<rect x="554.01" y="295.11" width="1.1" height="1.1" fill="#d28ac8"/>
<rect x="548.90" y="319.93" width="1.1" height="1.1" fill="#d28ac8"/>
<rect x="530.40" y="305.60" width="1.1" height="1.1" fill="#d28ac8"/>
<rect x="556.58" y="256.95" width="1.1" height="1.1" fill="#d28ac8"/>
<rect x="525.40" y="309.25" width="1.1" height="1.1" fill="#d28ac8"/>
<rect x="534.30" y="302.20" width="1.1" height="1.1" fill="#d28ac8"/>
<rect x="552.95" y="317.65" width="1.1" height="1.1" fill="#d28ac8"/>
<rect x="533.74" y="322.07" width="1.1" height="1.1" fill="#d28ac8"/>
<rect x="555.33" y="287.04" width="1.1" height="1.1" fill="#d28ac8"/>
<rect x="536.54" y="313.97" width="1.1" height="1.1" fill="#d28ac8"/>
<rect x="530.19" y="317.05" width="1.1" height="1.1" fill="#d28ac8"/>
<rect x="530.29" y="307.66" width="1.1" height="1.1" fill="#d28ac8"/>
<rect x="550.63" y="318.38" width="1.1" height="1.1" fill="#d28ac8"/>
<rect x="526.75" y="310.45" width="1.1" height="1.1" fill="#d28ac8"/>
<rect x="561.10" y="292.65" width="1.1" height="1.1" fill="#d28ac8"/>
<rect x="547.18" y="261.52" width="1.1" height="1.1" fill="#d28ac8"/>
<rect x="555.99" y="300.87" width="1.1" height="1.1" fill="#d28ac8"/>
<rect x="555.67" y="294.80" width="1.1" height="1.1" fill="#d28ac8"/>
<rect x="549.88" y="307.09" width="1.1" height="1.1" fill="#d28ac8"/>
<rect x="554.67" y="309.74" width="1.1" height="1.1" fill="#d28ac8"/>
<rect x="562.65" y="288.55" width="1.1" height="1.1" fill="#d28ac8"/>
<rect x="557.65" y="295.75" width="1.1" height="1.1" fill="#d28ac8"/>
<rect x="529.37" y="302.16" width="1.1" height="1.1" fill="#d28ac8"/>
<rect x="534.48" y="259.49" width="1.1" height="1.1" fill="#d28ac8"/>
<rect x="558.09" y="293.93" width="1.1" height="1.1" fill="#d28ac8"/>
<rect x="560.82" y="286.57" width="1.1" height="1.1" fill="#d28ac8"/>
<rect x="532.69" y="318.71" width="1.1" height="1.1" fill="#d28ac8"/>
<rect x="534.94" y="320.67" width="1.1" height="1.1" fill="#d28ac8"/>
<rect x="556.27" y="291.50" width="1.1" height="1.1" fill="#d28ac8"/>
<rect x="545.85" y="313.43" width="1.1" height="1.1" fill="#d28ac8"/>
<rect x="539.58" y="324.44" width="1.1" height="1.1" fill="#d28ac8"/>
<circle cx="544.16" cy="333.25" r="1.15" fill="#bebebe"/>
<circle cx="550.30" cy="328.35" r="1.15" fill="#bebebe"/>
<circle cx="546.41" cy="332.87" r="1.15" fill="#bebebe"/>
<circle cx="541.14" cy="333.46" r="1.15" fill="#bebebe"/>
<circle cx="550.31" cy="328.90" r="1.15" fill="#bebebe"/>
<circle cx="534.37" cy="329.18" r="1.15" fill="#bebebe"/>
<circle cx="541.21" cy="333.61" r="1.15" fill="#bebebe"/>
<circle cx="543.22" cy="334.60" r="1.15" fill="#bebebe"/>
<circle cx="532.45" cy="329.80" r="1.15" fill="#bebebe"/>
<circle cx="549.79" cy="331.56" r="1.15" fill="#bebebe"/>
<circle cx="546.90" cy="333.47" r="1.15" fill="#bebebe"/>
<circle cx="534.86" cy="333.06" r="1.15" fill="#bebebe"/>
<circle cx="544.06" cy="333.41" r="1.15" fill="#bebebe"/>
<circle cx="548.93" cy="331.33" r="1.15" fill="#bebebe"/>
<circle cx="536.22" cy="332.85" r="1.15" fill="#bebebe"/>
<circle cx="548.95" cy="334.32" r="1.15" fill="#bebebe"/>
<circle cx="537.75" cy="334.18" r="1.15" fill="#bebebe"/>
<circle cx="545.21" cy="332.74" r="1.15" fill="#bebebe"/>
<circle cx="536.13" cy="333.71" r="1.15" fill="#bebebe"/>
<circle cx="550.76" cy="329.33" r="1.15" fill="#bebebe"/>
<circle cx="549.36" cy="330.68" r="1.15" fill="#bebebe"/>
<circle cx="535.39" cy="332.72" r="1.15" fill="#bebebe"/>
<circle cx="535.00" cy="332.35" r="1.15" fill="#bebebe"/>
<circle cx="543.78" cy="333.79" r="1.15" fill="#bebebe"/>
<circle cx="532.26" cy="329.02" r="1.15" fill="#bebebe"/>
<circle cx="538.15" cy="332.09" r="1.15" fill="#bebebe"/>
<circle cx="547.92" cy="330.94" r="1.15" fill="#bebebe"/>
<circle cx="541.44" cy="333.71" r="1.15" fill="#bebebe"/>
<circle cx="545.73" cy="334.60" r="1.15" fill="#bebebe"/>
<circle cx="532.64" cy="330.82" r="1.15" fill="#bebebe"/>
<circle cx="546.60" cy="332.67" r="1.15" fill="#bebebe"/>
<circle cx="547.32" cy="332.04" r="1.15" fill="#bebebe"/>
<circle cx="539.23" cy="333.17" r="1.15" fill="#bebebe"/>
<circle cx="533.10" cy="330.08" r="1.15" fill="#bebebe"/>
<circle cx="535.67" cy="332.59" r="1.15" fill="#bebebe"/>
<circle cx="546.71" cy="332.30" r="1.15" fill="#bebebe"/>
<circle cx="550.05" cy="331.44" r="1.15" fill="#bebebe"/>
<circle cx="539.01" cy="332.89" r="1.15" fill="#bebebe"/>
<circle cx="542.27" cy="333.67" r="1.15" fill="#bebebe"/>
<circle cx="546.57" cy="332.04" r="1.15" fill="#bebebe"/>
<circle cx="547.51" cy="332.31" r="1.15" fill="#bebebe"/>
<circle cx="550.36" cy="330.03" r="1.15" fill="#bebebe"/>
<circle cx="533.95" cy="329.98" r="1.15" fill="#bebebe"/>
<circle cx="549.83" cy="331.94" r="1.15" fill="#bebebe"/>
<circle cx="538.73" cy="334.40" r="1.15" fill="#bebebe"/>
<circle cx="538.20" cy="332.38" r="1.15" fill="#bebebe"/>
<circle cx="538.28" cy="333.23" r="1.15" fill="#bebebe"/>
<circle cx="535.06" cy="331.93" r="1.15" fill="#bebebe"/>
<circle cx="545.43" cy="333.65" r="1.15" fill="#bebebe"/>
<circle cx="533.13" cy="330.16" r="1.15" fill="#bebebe"/>
<circle cx="551.14" cy="328.52" r="1.15" fill="#bebebe"/>
<circle cx="536.76" cy="332.21" r="1.15" fill="#bebebe"/>
<circle cx="543.60" cy="334.01" r="1.15" fill="#bebebe"/>
<circle cx="540.30" cy="332.42" r="1.15" fill="#bebebe"/>
<circle cx="533.27" cy="330.53" r="1.15" fill="#bebebe"/>
<circle cx="541.68" cy="333.46" r="1.15" fill="#bebebe"/>
<circle cx="548.30" cy="332.89" r="1.15" fill="#bebebe"/>
<circle cx="550.44" cy="331.51" r="1.15" fill="#bebebe"/>
<circle cx="544.30" cy="333.44" r="1.15" fill="#bebebe"/>
<circle cx="540.54" cy="333.02" r="1.15" fill="#bebebe"/>
<circle cx="535.07" cy="332.05" r="1.15" fill="#bebebe"/>
<circle cx="540.90" cy="332.80" r="1.15" fill="#bebebe"/>
<circle cx="551.39" cy="331.21" r="1.15" fill="#bebebe"/>
<circle cx="540.91" cy="331.16" r="1.15" fill="#bebebe"/>
<circle cx="541.57" cy="333.44" r="1.15" fill="#bebebe"/>
<circle cx="537.79" cy="331.62" r="1.15" fill="#bebebe"/>
<circle cx="539.95" cy="334.09" r="1.15" fill="#bebebe"/>
<circle cx="551.18" cy="330.44" r="1.15" fill="#bebebe"/>
<circle cx="550.63" cy="329.14" r="1.15" fill="#bebebe"/>
<circle cx="538.70" cy="332.24" r="1.15" fill="#bebebe"/>
<circle cx="533.91" cy="330.50" r="1.15" fill="#bebebe"/>
<circle cx="548.85" cy="333.23" r="1.15" fill="#bebebe"/>
<circle cx="539.14" cy="333.70" r="1.15" fill="#bebebe"/>
<circle cx="545.54" cy="331.11" r="1.15" fill="#bebebe"/>
<circle cx="544.95" cy="333.21" r="1.15" fill="#bebebe"/>
<circle cx="545.73" cy="331.85" r="1.15" fill="#bebebe"/>
<circle cx="537.59" cy="330.92" r="1.15" fill="#bebebe"/>
<circle cx="545.46" cy="333.16" r="1.15" fill="#bebebe"/>
<circle cx="537.84" cy="334.39" r="1.15" fill="#bebebe"/>
<circle cx="543.35" cy="332.96" r="1.15" fill="#bebebe"/>
<circle cx="532.42" cy="328.79" r="1.15" fill="#bebebe"/>
<circle cx="545.10" cy="332.86" r="1.15" fill="#bebebe"/>
<circle cx="541.09" cy="334.22" r="1.15" fill="#bebebe"/>
<circle cx="547.51" cy="330.66" r="1.15" fill="#bebebe"/>
<circle cx="538.88" cy="332.10" r="1.15" fill="#bebebe"/>
<circle cx="548.10" cy="330.37" r="1.15" fill="#bebebe"/>
<circle cx="538.92" cy="334.45" r="1.15" fill="#bebebe"/>
<circle cx="545.42" cy="331.15" r="1.15" fill="#bebebe"/>
<circle cx="550.94" cy="331.07" r="1.15" fill="#bebebe"/>
<circle cx="542.36" cy="333.23" r="1.15" fill="#bebebe"/>
<circle cx="535.39" cy="333.07" r="1.15" fill="#bebebe"/>
<circle cx="541.36" cy="331.38" r="1.15" fill="#bebebe"/>
<circle cx="545.48" cy="332.65" r="1.15" fill="#bebebe"/>
<circle cx="535.50" cy="330.04" r="1.15" fill="#bebebe"/>
<circle cx="547.18" cy="330.86" r="1.15" fill="#bebebe"/>
<circle cx="540.28" cy="332.70" r="1.15" fill="#bebebe"/>
<circle cx="544.18" cy="333.58" r="1.15" fill="#bebebe"/>
<circle cx="546.03" cy="331.24" r="1.15" fill="#bebebe"/>
<circle cx="532.73" cy="330.49" r="1.15" fill="#bebebe"/>
<circle cx="544.68" cy="334.22" r="1.15" fill="#bebebe"/>
<circle cx="536.41" cy="331.67" r="1.15" fill="#bebebe"/>
<circle cx="533.00" cy="328.64" r="1.15" fill="#bebebe"/>
<circle cx="541.25" cy="333.64" r="1.15" fill="#bebebe"/>
<circle cx="534.76" cy="331.71" r="1.15" fill="#bebebe"/>
<circle cx="538.29" cy="333.34" r="1.15" fill="#bebebe"/>
<circle cx="532.88" cy="330.63" r="1.15" fill="#bebebe"/>
<circle cx="541.13" cy="332.47" r="1.15" fill="#bebebe"/>
<circle cx="543.53" cy="334.50" r="1.15" fill="#bebebe"/>
<circle cx="536.77" cy="332.48" r="1.15" fill="#bebebe"/>
<circle cx="539.98" cy="333.43" r="1.15" fill="#bebebe"/>
<circle cx="537.55" cy="332.32" r="1.15" fill="#bebebe"/>
<circle cx="548.16" cy="332.05" r="1.15" fill="#bebebe"/>
<circle cx="539.38" cy="334.60" r="1.15" fill="#bebebe"/>
<circle cx="534.02" cy="331.18" r="1.15" fill="#bebebe"/>
<circle cx="542.67" cy="332.79" r="1.15" fill="#bebebe"/>
<circle cx="550.60" cy="331.30" r="1.15" fill="#bebebe"/>
<circle cx="547.92" cy="330.14" r="1.15" fill="#bebebe"/>
<circle cx="544.53" cy="334.24" r="1.15" fill="#bebebe"/>
<circle cx="539.29" cy="334.24" r="1.15" fill="#bebebe"/>
<circle cx="543.03" cy="334.60" r="1.15" fill="#bebebe"/>
<circle cx="550.58" cy="331.56" r="1.15" fill="#bebebe"/>
<circle cx="538.94" cy="332.93" r="1.15" fill="#bebebe"/>
<circle cx="549.35" cy="331.52" r="1.15" fill="#bebebe"/>
<circle cx="543.06" cy="333.53" r="1.15" fill="#bebebe"/>
<circle cx="544.01" cy="334.36" r="1.15" fill="#bebebe"/>
<circle cx="549.31" cy="332.23" r="1.15" fill="#bebebe"/>
<circle cx="539.42" cy="332.62" r="1.15" fill="#bebebe"/>
<circle cx="537.80" cy="333.20" r="1.15" fill="#bebebe"/>
<circle cx="550.87" cy="328.20" r="1.15" fill="#bebebe"/>
<circle cx="549.74" cy="332.65" r="1.15" fill="#bebebe"/>
<circle cx="543.64" cy="333.25" r="1.15" fill="#bebebe"/>
<circle cx="541.73" cy="334.60" r="1.15" fill="#bebebe"/>
<circle cx="540.18" cy="332.15" r="1.15" fill="#bebebe"/>
<circle cx="541.64" cy="334.60" r="1.15" fill="#bebebe"/>
<circle cx="537.70" cy="332.28" r="1.15" fill="#bebebe"/>
<circle cx="544.14" cy="333.43" r="1.15" fill="#bebebe"/>
<circle cx="540.71" cy="333.03" r="1.15" fill="#bebebe"/>
<circle cx="548.07" cy="333.65" r="1.15" fill="#bebebe"/>
<circle cx="532.45" cy="328.76" r="1.15" fill="#bebebe"/>
<circle cx="550.16" cy="330.24" r="1.15" fill="#bebebe"/>
<circle cx="547.21" cy="332.29" r="1.15" fill="#bebebe"/>
<circle cx="535.17" cy="332.47" r="1.15" fill="#bebebe"/>
<circle cx="551.19" cy="329.18" r="1.15" fill="#bebebe"/>
<circle cx="541.31" cy="334.60" r="1.15" fill="#bebebe"/>
<circle cx="544.58" cy="331.81" r="1.15" fill="#bebebe"/>
<circle cx="534.47" cy="330.05" r="1.15" fill="#bebebe"/>
<circle cx="546.80" cy="332.04" r="1.15" fill="#bebebe"/>
<circle cx="538.65" cy="334.44" r="1.15" fill="#bebebe"/>
<circle cx="537.90" cy="331.70" r="1.15" fill="#bebebe"/>
<circle cx="539.13" cy="333.05" r="1.15" fill="#bebebe"/>
<circle cx="546.50" cy="332.34" r="1.15" fill="#bebebe"/>
<circle cx="537.05" cy="332.41" r="1.15" fill="#bebebe"/>
<circle cx="540.95" cy="334.60" r="1.15" fill="#bebebe"/>
<circle cx="542.68" cy="332.41" r="1.15" fill="#bebebe"/>
<circle cx="532.48" cy="329.85" r="1.15" fill="#bebebe"/>
<circle cx="543.25" cy="332.36" r="1.15" fill="#bebebe"/>
<circle cx="545.80" cy="332.02" r="1.15" fill="#bebebe"/>
<circle cx="549.70" cy="329.82" r="1.15" fill="#bebebe"/>
<circle cx="539.60" cy="331.71" r="1.15" fill="#bebebe"/>
<circle cx="535.97" cy="333.40" r="1.15" fill="#bebebe"/>
<circle cx="537.89" cy="333.10" r="1.15" fill="#bebebe"/>
<circle cx="548.26" cy="331.34" r="1.15" fill="#bebebe"/>
<circle cx="545.54" cy="332.14" r="1.15" fill="#bebebe"/>
<circle cx="547.19" cy="332.65" r="1.15" fill="#bebebe"/>
<circle cx="549.68" cy="331.55" r="1.15" fill="#bebebe"/>
<circle cx="542.74" cy="334.54" r="1.15" fill="#bebebe"/>
<circle cx="541.76" cy="333.29" r="1.15" fill="#bebebe"/>
<circle cx="543.45" cy="334.03" r="1.15" fill="#bebebe"/>
<circle cx="547.79" cy="332.69" r="1.15" fill="#bebebe"/>
<circle cx="547.94" cy="332.22" r="1.15" fill="#bebebe"/>
<circle cx="547.40" cy="332.04" r="1.15" fill="#bebebe"/>
<circle cx="546.07" cy="332.55" r="1.15" fill="#bebebe"/>
<circle cx="550.99" cy="331.46" r="1.15" fill="#bebebe"/>
<circle cx="533.14" cy="330.16" r="1.15" fill="#bebebe"/>
<circle cx="548.37" cy="331.94" r="1.15" fill="#bebebe"/>
<circle cx="550.48" cy="331.72" r="1.15" fill="#bebebe"/>
<circle cx="545.88" cy="333.45" r="1.15" fill="#bebebe"/>
<circle cx="549.83" cy="331.35" r="1.15" fill="#bebebe"/>
<circle cx="535.07" cy="330.67" r="1.15" fill="#bebebe"/>
<circle cx="535.29" cy="330.94" r="1.15" fill="#bebebe"/>
<circle cx="544.15" cy="333.86" r="1.15" fill="#bebebe"/>
<circle cx="539.48" cy="333.50" r="1.15" fill="#bebebe"/>
<circle cx="533.58" cy="331.87" r="1.15" fill="#bebebe"/>
<circle cx="546.45" cy="333.12" r="1.15" fill="#bebebe"/>
<circle cx="549.07" cy="331.97" r="1.15" fill="#bebebe"/>
<circle cx="538.24" cy="333.90" r="1.15" fill="#bebebe"/>
<circle cx="543.72" cy="330.84" r="1.15" fill="#bebebe"/>
<circle cx="539.38" cy="333.50" r="1.15" fill="#bebebe"/>
<circle cx="533.27" cy="330.08" r="1.15" fill="#bebebe"/>
<circle cx="544.32" cy="332.71" r="1.15" fill="#bebebe"/>
<circle cx="541.91" cy="334.60" r="1.15" fill="#bebebe"/>
<circle cx="544.12" cy="332.61" r="1.15" fill="#bebebe"/>
<circle cx="537.25" cy="331.86" r="1.15" fill="#bebebe"/>
<circle cx="546.61" cy="332.28" r="1.15" fill="#bebebe"/>
<circle cx="542.13" cy="334.13" r="1.15" fill="#bebebe"/>
<circle cx="539.33" cy="333.92" r="1.15" fill="#bebebe"/>
<circle cx="546.35" cy="333.41" r="1.15" fill="#bebebe"/>
<circle cx="544.78" cy="334.60" r="1.15" fill="#bebebe"/>
<circle cx="533.84" cy="330.47" r="1.15" fill="#bebebe"/>
<circle cx="534.60" cy="330.82" r="1.15" fill="#bebebe"/>
<circle cx="486.70" cy="192.80" r="1.1" fill="#2f5a98"/>
<circle cx="491.60" cy="195.90" r="1.1" fill="#2f5a98"/>
<circle cx="493.70" cy="193.90" r="1.1" fill="#2f5a98"/>
<circle cx="496.00" cy="200.50" r="1.1" fill="#2f5a98"/>
<circle cx="513.10" cy="190.90" r="1.1" fill="#2f5a98"/>
<circle cx="518.30" cy="202.70" r="1.1" fill="#2f5a98"/>
<circle cx="509.60" cy="215.40" r="1.1" fill="#2f5a98"/>
<circle cx="482.30" cy="217.80" r="1.1" fill="#2f5a98"/>
<circle cx="488.80" cy="218.50" r="1.1" fill="#2f5a98"/>
<circle cx="502.40" cy="228.40" r="1.1" fill="#2f5a98"/>
<circle cx="514.80" cy="231.90" r="1.1" fill="#2f5a98"/>
<circle cx="468.70" cy="237.40" r="1.1" fill="#2f5a98"/>
<circle cx="486.10" cy="234.20" r="1.1" fill="#2f5a98"/>
<circle cx="489.80" cy="234.60" r="1.1" fill="#2f5a98"/>
<circle cx="496.00" cy="236.80" r="1.1" fill="#2f5a98"/>
<circle cx="489.30" cy="241.00" r="1.1" fill="#2f5a98"/>
<circle cx="492.90" cy="244.10" r="1.1" fill="#2f5a98"/>
<circle cx="489.30" cy="248.20" r="1.1" fill="#2f5a98"/>
<circle cx="495.40" cy="258.80" r="1.1" fill="#2f5a98"/>
<circle cx="500.30" cy="259.40" r="1.1" fill="#2f5a98"/>
<circle cx="497.00" cy="263.60" r="1.1" fill="#2f5a98"/>
<circle cx="484.80" cy="265.70" r="1.1" fill="#2f5a98"/>
<circle cx="520.40" cy="263.20" r="1.1" fill="#2f5a98"/>
<circle cx="511.10" cy="269.20" r="1.1" fill="#2f5a98"/>
<circle cx="519.30" cy="269.80" r="1.1" fill="#2f5a98"/>
<circle cx="496.40" cy="275.70" r="1.1" fill="#2f5a98"/>
<circle cx="501.30" cy="276.00" r="1.1" fill="#2f5a98"/>
<circle cx="515.00" cy="274.10" r="1.1" fill="#2f5a98"/>
<circle cx="516.20" cy="276.00" r="1.1" fill="#2f5a98"/>
<circle cx="518.90" cy="276.60" r="1.1" fill="#2f5a98"/>
<circle cx="508.80" cy="277.20" r="1.1" fill="#2f5a98"/>
<circle cx="505.90" cy="281.30" r="1.1" fill="#2f5a98"/>
<circle cx="510.60" cy="280.30" r="1.1" fill="#2f5a98"/>
<circle cx="517.10" cy="282.20" r="1.1" fill="#2f5a98"/>
<circle cx="514.30" cy="283.70" r="1.1" fill="#2f5a98"/>
<circle cx="517.30" cy="285.30" r="1.1" fill="#2f5a98"/>
<circle cx="522.00" cy="284.30" r="1.1" fill="#2f5a98"/>
<circle cx="505.90" cy="286.30" r="1.1" fill="#2f5a98"/>
<circle cx="489.40" cy="289.00" r="1.1" fill="#2f5a98"/>
<circle cx="493.30" cy="291.50" r="1.1" fill="#2f5a98"/>
<circle cx="509.60" cy="290.90" r="1.1" fill="#2f5a98"/>
<circle cx="522.00" cy="294.60" r="1.1" fill="#2f5a98"/>
<circle cx="519.60" cy="299.90" r="1.1" fill="#2f5a98"/>
<circle cx="518.60" cy="301.40" r="1.1" fill="#2f5a98"/>
<circle cx="508.40" cy="304.80" r="1.1" fill="#2f5a98"/>
<circle cx="522.00" cy="305.80" r="1.1" fill="#2f5a98"/>
<circle cx="519.30" cy="308.00" r="1.1" fill="#2f5a98"/>
<circle cx="516.70" cy="312.00" r="1.1" fill="#2f5a98"/>
<circle cx="506.50" cy="313.20" r="1.1" fill="#2f5a98"/>
<circle cx="504.00" cy="315.90" r="1.1" fill="#2f5a98"/>
<circle cx="502.80" cy="318.50" r="1.1" fill="#2f5a98"/>
<circle cx="519.30" cy="315.10" r="1.1" fill="#2f5a98"/>
<circle cx="522.00" cy="314.10" r="1.1" fill="#2f5a98"/>
<circle cx="589.50" cy="191.20" r="1.1" fill="#c41f2a"/>
<circle cx="576.00" cy="195.10" r="1.1" fill="#c41f2a"/>
<circle cx="572.70" cy="226.00" r="1.1" fill="#c41f2a"/>
<circle cx="592.70" cy="224.70" r="1.1" fill="#c41f2a"/>
<circle cx="577.00" cy="241.80" r="1.1" fill="#c41f2a"/>
<circle cx="576.30" cy="248.30" r="1.1" fill="#c41f2a"/>
<circle cx="572.70" cy="258.50" r="1.1" fill="#c41f2a"/>
<circle cx="565.70" cy="264.50" r="1.1" fill="#c41f2a"/>
<circle cx="572.70" cy="264.20" r="1.1" fill="#c41f2a"/>
<circle cx="581.00" cy="269.10" r="1.1" fill="#c41f2a"/>
<circle cx="587.80" cy="267.70" r="1.1" fill="#c41f2a"/>
<circle cx="572.00" cy="276.90" r="1.1" fill="#c41f2a"/>
<circle cx="569.40" cy="278.60" r="1.1" fill="#c41f2a"/>
<circle cx="571.80" cy="280.90" r="1.1" fill="#c41f2a"/>
<circle cx="582.80" cy="281.50" r="1.1" fill="#c41f2a"/>
<circle cx="583.90" cy="284.80" r="1.1" fill="#c41f2a"/>
<circle cx="565.50" cy="284.80" r="1.1" fill="#c41f2a"/>
<circle cx="565.20" cy="293.10" r="1.1" fill="#c41f2a"/>
<circle cx="567.50" cy="293.10" r="1.1" fill="#c41f2a"/>
<circle cx="565.70" cy="296.00" r="1.1" fill="#c41f2a"/>
<circle cx="591.50" cy="294.70" r="1.1" fill="#c41f2a"/>
<circle cx="578.40" cy="298.00" r="1.1" fill="#c41f2a"/>
<circle cx="564.40" cy="299.50" r="1.1" fill="#c41f2a"/>
<circle cx="568.80" cy="299.50" r="1.1" fill="#c41f2a"/>
<circle cx="568.10" cy="304.30" r="1.1" fill="#c41f2a"/>
<circle cx="572.00" cy="306.80" r="1.1" fill="#c41f2a"/>
<circle cx="569.20" cy="309.10" r="1.1" fill="#c41f2a"/>
<circle cx="611.70" cy="310.10" r="1.1" fill="#c41f2a"/>
<circle cx="567.80" cy="317.30" r="1.1" fill="#c41f2a"/>
<circle cx="564.40" cy="319.60" r="1.1" fill="#c41f2a"/>
<circle cx="568.80" cy="323.30" r="1.1" fill="#c41f2a"/>
<circle cx="564.40" cy="326.50" r="1.1" fill="#c41f2a"/>
<line x1="522.83" y1="184.20" x2="522.83" y2="341.10" stroke="#111" stroke-width="1" stroke-dasharray="1.3,1.3"/>
<line x1="563.58" y1="184.20" x2="563.58" y2="341.10" stroke="#111" stroke-width="1" stroke-dasharray="1.3,1.3"/>
<line x1="461.60" y1="327.71" x2="618.20" y2="327.71" stroke="#111" stroke-width="1" stroke-dasharray="1.3,1.3"/>
<text x="489.80" y="190.50" font-size="6.9" fill="#4a70ad">PIP5K1B</text>
<text x="447.70" y="198.30" font-size="6.9" fill="#4a70ad">ST6GALNAC4</text>
<text x="510.90" y="198.00" font-size="6.9" fill="#4a70ad">HOGA1</text>
<text x="476.80" y="204.00" font-size="6.9" fill="#4a70ad">FUT3</text>
<text x="494.10" y="206.70" font-size="6.9" fill="#4a70ad">ETNK2</text>
<text x="517.10" y="210.40" font-size="6.9" fill="#4a70ad">PLA2G3</text>
<text x="454.90" y="215.50" font-size="6.9" fill="#4a70ad">PRKCB</text>
<text x="511.90" y="222.80" font-size="6.9" fill="#4a70ad">PCYT1B</text>
<text x="474.00" y="227.80" font-size="6.9" fill="#4a70ad">LPCAT2</text>
<text x="506.90" y="229.60" font-size="6.9" fill="#4a70ad">PLA2G2C</text>
<text x="553.70" y="191.60" font-size="6.9" fill="#d0373f">POLR2H</text>
<text x="586.20" y="200.40" font-size="6.9" fill="#d0373f">NME1</text>
<text x="556.90" y="221.80" font-size="6.9" fill="#d0373f">POLD2</text>
<text x="592.70" y="223.80" font-size="6.9" fill="#d0373f">RAC3</text>
<text x="566.10" y="239.40" font-size="6.9" fill="#d0373f">POLD4</text>
<text x="578.60" y="246.40" font-size="6.9" fill="#d0373f">ACSS1</text>
<text x="544.50" y="256.00" font-size="6.9" fill="#d0373f">ENTPD6</text>
<text x="577.00" y="264.50" font-size="6.9" fill="#d0373f">SHMT2</text>
<text x="582.80" y="274.30" font-size="6.9" fill="#d0373f">TK1</text>
<text x="532.90" y="270.40" font-size="6.9" fill="#d0373f">B4GALT3</text>
<rect x="461.60" y="184.20" width="156.60" height="156.90" fill="none" stroke="#111" stroke-width="1.3"/>
<line x1="459.00" y1="334.20" x2="461.60" y2="334.20" stroke="#111" stroke-width="1.1"/>
<text x="457.60" y="337.10" font-size="8.0" text-anchor="end" fill="#222">0</text>
<line x1="459.00" y1="284.30" x2="461.60" y2="284.30" stroke="#111" stroke-width="1.1"/>
<text x="457.60" y="287.20" font-size="8.0" text-anchor="end" fill="#222">10</text>
<line x1="459.00" y1="234.40" x2="461.60" y2="234.40" stroke="#111" stroke-width="1.1"/>
<text x="457.60" y="237.30" font-size="8.0" text-anchor="end" fill="#222">20</text>
<line x1="459.00" y1="184.50" x2="461.60" y2="184.50" stroke="#111" stroke-width="1.1"/>
<text x="457.60" y="187.40" font-size="8.0" text-anchor="end" fill="#222">30</text>
<line x1="502.45" y1="341.10" x2="502.45" y2="343.70" stroke="#111" stroke-width="1.1"/>
<text x="502.45" y="352.00" font-size="8.0" text-anchor="middle" fill="#222">-1</text>
<line x1="543.20" y1="341.10" x2="543.20" y2="343.70" stroke="#111" stroke-width="1.1"/>
<text x="543.20" y="352.00" font-size="8.0" text-anchor="middle" fill="#222">0</text>
<line x1="583.95" y1="341.10" x2="583.95" y2="343.70" stroke="#111" stroke-width="1.1"/>
<text x="583.95" y="352.00" font-size="8.0" text-anchor="middle" fill="#222">1</text>
<text x="545.40" y="363.80" font-size="9.46" text-anchor="middle" fill="#231f20">Log2 (Fold change)</text>
<text x="0" y="0" font-size="9.3" fill="#231f20" text-anchor="middle" transform="translate(446.0,263.0) rotate(-90)">-Log10 q</text>
<text x="622.10" y="190.60" font-size="8.1" fill="#231f20">Group</text>
<circle cx="623.9" cy="201.60" r="2.2" fill="#2f5a98"/>
<text x="629.80" y="204.30" font-size="8.2" fill="#231f20">Downregulated</text>
<circle cx="623.9" cy="211.90" r="2.2" fill="#c3c3c3"/>
<text x="629.80" y="214.60" font-size="8.2" fill="#231f20">Not significant</text>
<circle cx="623.9" cy="222.10" r="2.2" fill="#c41f2a"/>
<text x="629.80" y="224.80" font-size="8.2" fill="#231f20">Upregulated</text>
<text x="-0.60" y="372.70" font-size="16" font-weight="bold" fill="#231f20">d</text>
<defs><clipPath id="cv1"><circle cx="70.4" cy="412.3" r="24.2"/></clipPath></defs>
<circle cx="70.4" cy="412.3" r="24.2" fill="#f9d3b7"/>
<circle cx="95.2" cy="412.3" r="24.2" fill="#faf5c4"/>
<circle cx="95.2" cy="412.3" r="24.2" fill="#f5db8a" clip-path="url(#cv1)"/>
<circle cx="70.4" cy="412.3" r="24.2" fill="none" stroke="#111" stroke-width="1.6"/>
<circle cx="95.2" cy="412.3" r="24.2" fill="none" stroke="#111" stroke-width="1.6"/>
<text x="61.70" y="415.50" font-size="10.3" text-anchor="middle" fill="#333">86</text>
<text x="82.80" y="415.50" font-size="10.3" text-anchor="middle" fill="#333">32</text>
<text x="106.40" y="415.50" font-size="10.3" text-anchor="middle" fill="#333">27</text>
<defs><clipPath id="cv2"><circle cx="195.0" cy="412.4" r="24.2"/></clipPath></defs>
<circle cx="195.0" cy="412.4" r="24.2" fill="#bed6ee"/>
<circle cx="220.2" cy="412.4" r="24.2" fill="#e3efc5"/>
<circle cx="220.2" cy="412.4" r="24.2" fill="#bcd7b5" clip-path="url(#cv2)"/>
<circle cx="195.0" cy="412.4" r="24.2" fill="none" stroke="#111" stroke-width="1.6"/>
<circle cx="220.2" cy="412.4" r="24.2" fill="none" stroke="#111" stroke-width="1.6"/>
<text x="183.50" y="415.60" font-size="10.3" text-anchor="middle" fill="#333">115</text>
<text x="207.90" y="415.60" font-size="10.3" text-anchor="middle" fill="#333">10</text>
<text x="233.00" y="415.60" font-size="10.3" text-anchor="middle" fill="#333">11</text>
<text x="45.00" y="377.50" font-size="8.1" text-anchor="middle" fill="#231f20">Upregulated</text>
<text x="45.40" y="387.70" font-size="8.1" text-anchor="middle" fill="#231f20">genes</text>
<text x="119.60" y="377.50" font-size="8.1" text-anchor="middle" fill="#231f20">Risk</text>
<text x="120.20" y="387.70" font-size="8.1" text-anchor="middle" fill="#231f20">factors</text>
<text x="179.30" y="377.50" font-size="8.1" text-anchor="middle" fill="#231f20">Downregulated</text>
<text x="178.80" y="387.70" font-size="8.1" text-anchor="middle" fill="#231f20">genes</text>
<text x="238.40" y="377.50" font-size="8.1" text-anchor="middle" fill="#231f20">Protective</text>
<text x="238.10" y="387.70" font-size="8.1" text-anchor="middle" fill="#231f20">factors</text>
<text x="0.90" y="455.70" font-size="16" font-weight="bold" fill="#231f20">e</text>
<text x="26.70" y="460.20" font-size="8.2" fill="#231f20">Uni_cox</text>
<text x="126.50" y="460.20" font-size="8.2" text-anchor="end" fill="#231f20">P value</text>
<text x="144.70" y="460.40" font-size="8.2" fill="#231f20">Hazard Ratio (95% CI)</text>
<line x1="19.40" y1="466.10" x2="276.80" y2="466.10" stroke="#484848" stroke-width="1.3"/>
<line x1="225.30" y1="466.60" x2="225.30" y2="696.00" stroke="#74c2cf" stroke-width="1.2"/>
<text x="26.70" y="477.20" font-size="8.2" fill="#231f20">CHKB</text>
<text x="127.70" y="477.20" font-size="8.2" text-anchor="end" fill="#231f20">0.00026</text>
<text x="145.20" y="477.20" font-size="8.2" fill="#231f20">3.09 (1.69, 5.66)</text>
<line x1="232.89" y1="474.60" x2="276.56" y2="474.60" stroke="#111" stroke-width="1.1"/>
<line x1="232.89" y1="472.80" x2="232.89" y2="476.40" stroke="#111" stroke-width="1.1"/>
<path d="M244.69,474.60 L248.29,471.20 L251.89,474.60 L248.29,478.00 Z" fill="#c65a48" opacity="0.85"/>
<text x="26.70" y="488.80" font-size="8.2" fill="#231f20">DGKQ</text>
<text x="127.70" y="488.80" font-size="8.2" text-anchor="end" fill="#231f20">7e−05</text>
<text x="145.20" y="488.80" font-size="8.2" fill="#231f20">1.96 (1.41, 2.73)</text>
<line x1="229.81" y1="486.20" x2="244.33" y2="486.20" stroke="#111" stroke-width="1.1"/>
<line x1="229.81" y1="484.40" x2="229.81" y2="488.00" stroke="#111" stroke-width="1.1"/>
<line x1="244.33" y1="484.40" x2="244.33" y2="488.00" stroke="#111" stroke-width="1.1"/>
<path d="M232.26,486.20 L235.86,482.80 L239.46,486.20 L235.86,489.60 Z" fill="#c65a48" opacity="0.85"/>
<text x="26.70" y="500.90" font-size="8.2" fill="#231f20">HK3</text>
<text x="127.70" y="500.90" font-size="8.2" text-anchor="end" fill="#231f20">0.0049</text>
<text x="149.70" y="500.90" font-size="8.2" fill="#231f20">1.56 (1.14, 2.12)</text>
<line x1="226.84" y1="498.30" x2="237.62" y2="498.30" stroke="#111" stroke-width="1.1"/>
<line x1="226.84" y1="496.50" x2="226.84" y2="500.10" stroke="#111" stroke-width="1.1"/>
<line x1="237.62" y1="496.50" x2="237.62" y2="500.10" stroke="#111" stroke-width="1.1"/>
<path d="M227.86,498.30 L231.46,494.90 L235.06,498.30 L231.46,501.70 Z" fill="#c65a48" opacity="0.85"/>
<text x="26.70" y="513.80" font-size="8.2" fill="#231f20">JMJD7−PLA2G4B</text>
<text x="127.70" y="513.80" font-size="8.2" text-anchor="end" fill="#231f20">0.0046</text>
<text x="145.20" y="513.80" font-size="8.2" fill="#231f20">1.54 (1.14, 2.08)</text>
<line x1="226.84" y1="511.20" x2="237.18" y2="511.20" stroke="#111" stroke-width="1.1"/>
<line x1="226.84" y1="509.40" x2="226.84" y2="513.00" stroke="#111" stroke-width="1.1"/>
<line x1="237.18" y1="509.40" x2="237.18" y2="513.00" stroke="#111" stroke-width="1.1"/>
<path d="M227.64,511.20 L231.24,507.80 L234.84,511.20 L231.24,514.60 Z" fill="#c65a48" opacity="0.85"/>
<text x="26.70" y="527.10" font-size="8.2" fill="#231f20">LDHA</text>
<text x="127.70" y="527.10" font-size="8.2" text-anchor="end" fill="#231f20">0.014</text>
<text x="145.20" y="527.10" font-size="8.2" fill="#231f20">1.47 (1.08, 1.99)</text>
<line x1="226.18" y1="524.50" x2="236.19" y2="524.50" stroke="#111" stroke-width="1.1"/>
<line x1="226.18" y1="522.70" x2="226.18" y2="526.30" stroke="#111" stroke-width="1.1"/>
<line x1="236.19" y1="522.70" x2="236.19" y2="526.30" stroke="#111" stroke-width="1.1"/>
<path d="M226.87,524.50 L230.47,521.10 L234.07,524.50 L230.47,527.90 Z" fill="#c65a48" opacity="0.85"/>
<text x="26.70" y="540.00" font-size="8.2" fill="#231f20">PFKL</text>
<text x="127.70" y="540.00" font-size="8.2" text-anchor="end" fill="#231f20">0.0073</text>
<text x="145.20" y="540.00" font-size="8.2" fill="#231f20">1.93 (1.19, 3.13)</text>
<line x1="227.39" y1="537.40" x2="248.73" y2="537.40" stroke="#111" stroke-width="1.1"/>
<line x1="227.39" y1="535.60" x2="227.39" y2="539.20" stroke="#111" stroke-width="1.1"/>
<line x1="248.73" y1="535.60" x2="248.73" y2="539.20" stroke="#111" stroke-width="1.1"/>
<path d="M231.93,537.40 L235.53,534.00 L239.13,537.40 L235.53,540.80 Z" fill="#c65a48" opacity="0.85"/>
<text x="26.70" y="552.70" font-size="8.2" fill="#231f20">RALGDS</text>
<text x="127.70" y="552.70" font-size="8.2" text-anchor="end" fill="#231f20">&lt;0.0001</text>
<text x="145.20" y="552.70" font-size="8.2" fill="#231f20">2.78 (2.03, 3.83)</text>
<line x1="236.63" y1="550.10" x2="256.43" y2="550.10" stroke="#111" stroke-width="1.1"/>
<line x1="236.63" y1="548.30" x2="236.63" y2="551.90" stroke="#111" stroke-width="1.1"/>
<line x1="256.43" y1="548.30" x2="256.43" y2="551.90" stroke="#111" stroke-width="1.1"/>
<path d="M241.28,550.10 L244.88,546.70 L248.48,550.10 L244.88,553.50 Z" fill="#c65a48" opacity="0.85"/>
<text x="26.70" y="565.20" font-size="8.2" fill="#231f20">RRM2</text>
<text x="127.70" y="565.20" font-size="8.2" text-anchor="end" fill="#231f20">&lt;0.0001</text>
<text x="145.20" y="565.20" font-size="8.2" fill="#231f20">1.63 (1.34, 1.97)</text>
<line x1="229.04" y1="562.60" x2="235.97" y2="562.60" stroke="#111" stroke-width="1.1"/>
<line x1="229.04" y1="560.80" x2="229.04" y2="564.40" stroke="#111" stroke-width="1.1"/>
<line x1="235.97" y1="560.80" x2="235.97" y2="564.40" stroke="#111" stroke-width="1.1"/>
<path d="M228.63,562.60 L232.23,559.20 L235.83,562.60 L232.23,566.00 Z" fill="#c65a48" opacity="0.85"/>
<text x="26.70" y="578.30" font-size="8.2" fill="#231f20">SIRT6</text>
<text x="127.70" y="578.30" font-size="8.2" text-anchor="end" fill="#231f20">0.016</text>
<text x="145.20" y="578.30" font-size="8.2" fill="#231f20">1.85 (1.12, 3.04)</text>
<line x1="226.62" y1="575.70" x2="247.74" y2="575.70" stroke="#111" stroke-width="1.1"/>
<line x1="226.62" y1="573.90" x2="226.62" y2="577.50" stroke="#111" stroke-width="1.1"/>
<line x1="247.74" y1="573.90" x2="247.74" y2="577.50" stroke="#111" stroke-width="1.1"/>
<path d="M231.05,575.70 L234.65,572.30 L238.25,575.70 L234.65,579.10 Z" fill="#c65a48" opacity="0.85"/>
<text x="26.70" y="588.80" font-size="8.2" fill="#231f20">TK1</text>
<text x="127.70" y="588.80" font-size="8.2" text-anchor="end" fill="#231f20">&lt;0.0001</text>
<text x="145.20" y="588.80" font-size="8.2" fill="#231f20">1.780 (1.46, 2.20)</text>
<line x1="230.36" y1="586.20" x2="238.50" y2="586.20" stroke="#111" stroke-width="1.1"/>
<line x1="230.36" y1="584.40" x2="230.36" y2="588.00" stroke="#111" stroke-width="1.1"/>
<line x1="238.50" y1="584.40" x2="238.50" y2="588.00" stroke="#111" stroke-width="1.1"/>
<path d="M230.28,586.20 L233.88,582.80 L237.48,586.20 L233.88,589.60 Z" fill="#c65a48" opacity="0.85"/>
<text x="26.70" y="601.50" font-size="8.2" fill="#231f20">UCKL1</text>
<text x="127.70" y="601.50" font-size="8.2" text-anchor="end" fill="#231f20">&lt;0.0001</text>
<text x="149.70" y="601.50" font-size="8.2" fill="#231f20">3.19 (2.02, 5.05)</text>
<line x1="236.52" y1="598.90" x2="269.85" y2="598.90" stroke="#111" stroke-width="1.1"/>
<line x1="236.52" y1="597.10" x2="236.52" y2="600.70" stroke="#111" stroke-width="1.1"/>
<line x1="269.85" y1="597.10" x2="269.85" y2="600.70" stroke="#111" stroke-width="1.1"/>
<path d="M245.79,598.90 L249.39,595.50 L252.99,598.90 L249.39,602.30 Z" fill="#c65a48" opacity="0.85"/>
<text x="26.70" y="614.20" font-size="8.2" fill="#231f20">UMPS</text>
<text x="127.70" y="614.20" font-size="8.2" text-anchor="end" fill="#231f20">0.031</text>
<text x="145.20" y="614.20" font-size="8.2" fill="#231f20">1.66 (1.05, 2.65)</text>
<line x1="225.85" y1="611.60" x2="243.45" y2="611.60" stroke="#111" stroke-width="1.1"/>
<line x1="225.85" y1="609.80" x2="225.85" y2="613.40" stroke="#111" stroke-width="1.1"/>
<line x1="243.45" y1="609.80" x2="243.45" y2="613.40" stroke="#111" stroke-width="1.1"/>
<path d="M228.96,611.60 L232.56,608.20 L236.16,611.60 L232.56,615.00 Z" fill="#c65a48" opacity="0.85"/>
<text x="26.70" y="626.90" font-size="8.2" fill="#231f20">DGKG</text>
<text x="127.70" y="626.90" font-size="8.2" text-anchor="end" fill="#231f20">0.0053</text>
<text x="149.70" y="626.90" font-size="8.2" fill="#231f20">0.42 (0.22, 0.78)</text>
<line x1="216.72" y1="624.30" x2="222.88" y2="624.30" stroke="#111" stroke-width="1.1"/>
<line x1="216.72" y1="622.50" x2="216.72" y2="626.10" stroke="#111" stroke-width="1.1"/>
<line x1="222.88" y1="622.50" x2="222.88" y2="626.10" stroke="#111" stroke-width="1.1"/>
<path d="M215.32,624.30 L218.92,620.90 L222.52,624.30 L218.92,627.70 Z" fill="#c65a48" opacity="0.85"/>
<text x="26.70" y="639.90" font-size="8.2" fill="#231f20">DPYS</text>
<text x="127.70" y="639.90" font-size="8.2" text-anchor="end" fill="#231f20">0.0095</text>
<text x="145.20" y="639.90" font-size="8.2" fill="#231f20">0.78 (0.65, 0.94)</text>
<line x1="221.45" y1="637.30" x2="224.64" y2="637.30" stroke="#111" stroke-width="1.1"/>
<line x1="221.45" y1="635.50" x2="221.45" y2="639.10" stroke="#111" stroke-width="1.1"/>
<line x1="224.64" y1="635.50" x2="224.64" y2="639.10" stroke="#111" stroke-width="1.1"/>
<path d="M219.28,637.30 L222.88,633.90 L226.48,637.30 L222.88,640.70 Z" fill="#c65a48" opacity="0.85"/>
<text x="26.70" y="651.90" font-size="8.2" fill="#231f20">PLA2G2C</text>
<text x="127.70" y="651.90" font-size="8.2" text-anchor="end" fill="#231f20">0.00018</text>
<text x="149.70" y="651.90" font-size="8.2" fill="#231f20">0.44 (0.28, 0.67)</text>
<line x1="217.38" y1="649.30" x2="221.67" y2="649.30" stroke="#111" stroke-width="1.1"/>
<line x1="217.38" y1="647.50" x2="217.38" y2="651.10" stroke="#111" stroke-width="1.1"/>
<line x1="221.67" y1="647.50" x2="221.67" y2="651.10" stroke="#111" stroke-width="1.1"/>
<path d="M215.54,649.30 L219.14,645.90 L222.74,649.30 L219.14,652.70 Z" fill="#c65a48" opacity="0.85"/>
<text x="26.70" y="665.00" font-size="8.2" fill="#231f20">PLA2G4D</text>
<text x="127.70" y="665.00" font-size="8.2" text-anchor="end" fill="#231f20">0.030</text>
<text x="145.20" y="665.00" font-size="8.2" fill="#231f20">0.79 (0.65, 0.98)</text>
<line x1="221.45" y1="662.40" x2="225.08" y2="662.40" stroke="#111" stroke-width="1.1"/>
<line x1="221.45" y1="660.60" x2="221.45" y2="664.20" stroke="#111" stroke-width="1.1"/>
<line x1="225.08" y1="660.60" x2="225.08" y2="664.20" stroke="#111" stroke-width="1.1"/>
<path d="M219.39,662.40 L222.99,659.00 L226.59,662.40 L222.99,665.80 Z" fill="#c65a48" opacity="0.85"/>
<text x="26.70" y="677.70" font-size="8.2" fill="#231f20">PLA2G5</text>
<text x="127.70" y="677.70" font-size="8.2" text-anchor="end" fill="#231f20">0.0075</text>
<text x="145.20" y="677.70" font-size="8.2" fill="#231f20">0.66 (0.49, 0.90)</text>
<line x1="219.69" y1="675.10" x2="224.20" y2="675.10" stroke="#111" stroke-width="1.1"/>
<line x1="219.69" y1="673.30" x2="219.69" y2="676.90" stroke="#111" stroke-width="1.1"/>
<line x1="224.20" y1="673.30" x2="224.20" y2="676.90" stroke="#111" stroke-width="1.1"/>
<path d="M217.96,675.10 L221.56,671.70 L225.16,675.10 L221.56,678.50 Z" fill="#c65a48" opacity="0.85"/>
<text x="26.70" y="689.80" font-size="8.2" fill="#231f20">SLC22A3</text>
<text x="127.70" y="689.80" font-size="8.2" text-anchor="end" fill="#231f20">6e−05</text>
<text x="149.70" y="689.80" font-size="8.2" fill="#231f20">0.79 (0.71, 0.89)</text>
<line x1="222.11" y1="687.20" x2="224.09" y2="687.20" stroke="#111" stroke-width="1.1"/>
<line x1="222.11" y1="685.40" x2="222.11" y2="689.00" stroke="#111" stroke-width="1.1"/>
<line x1="224.09" y1="685.40" x2="224.09" y2="689.00" stroke="#111" stroke-width="1.1"/>
<path d="M219.39,687.20 L222.99,683.80 L226.59,687.20 L222.99,690.60 Z" fill="#c65a48" opacity="0.85"/>
<line x1="18.60" y1="696.20" x2="277.00" y2="696.20" stroke="#111" stroke-width="1.2"/>
<line x1="214.30" y1="696.20" x2="214.30" y2="701.20" stroke="#111" stroke-width="0.9"/>
<line x1="215.60" y1="696.20" x2="215.60" y2="701.20" stroke="#111" stroke-width="0.9"/>
<line x1="217.30" y1="696.20" x2="217.30" y2="701.20" stroke="#111" stroke-width="0.9"/>
<line x1="218.90" y1="696.20" x2="218.90" y2="701.20" stroke="#111" stroke-width="0.9"/>
<line x1="220.20" y1="696.20" x2="220.20" y2="701.20" stroke="#111" stroke-width="0.9"/>
<line x1="225.40" y1="696.20" x2="225.40" y2="701.20" stroke="#111" stroke-width="0.9"/>
<line x1="230.80" y1="696.20" x2="230.80" y2="701.20" stroke="#111" stroke-width="0.9"/>
<line x1="236.20" y1="696.20" x2="236.20" y2="701.20" stroke="#111" stroke-width="0.9"/>
<line x1="241.60" y1="696.20" x2="241.60" y2="701.20" stroke="#111" stroke-width="0.9"/>
<line x1="246.90" y1="696.20" x2="246.90" y2="701.20" stroke="#111" stroke-width="0.9"/>
<line x1="252.40" y1="696.20" x2="252.40" y2="701.20" stroke="#111" stroke-width="0.9"/>
<line x1="257.70" y1="696.20" x2="257.70" y2="701.20" stroke="#111" stroke-width="0.9"/>
<line x1="263.30" y1="696.20" x2="263.30" y2="701.20" stroke="#111" stroke-width="0.9"/>
<line x1="268.90" y1="696.20" x2="268.90" y2="701.20" stroke="#111" stroke-width="0.9"/>
<text x="151.40" y="709.80" font-size="8.2" fill="#231f20">Hazard Ratio</text>
<text x="211.40" y="709.80" font-size="8.0" text-anchor="middle" fill="#231f20">0.2</text>
<text x="236.20" y="709.80" font-size="8.0" text-anchor="middle" fill="#231f20">2</text>
<text x="247.10" y="709.80" font-size="8.0" text-anchor="middle" fill="#231f20">3</text>
<text x="258.10" y="709.80" font-size="8.0" text-anchor="middle" fill="#231f20">4</text>
<text x="269.50" y="709.80" font-size="8.0" text-anchor="middle" fill="#231f20">5</text>
<text x="287.30" y="372.70" font-size="16" font-weight="bold" fill="#231f20">f</text>
<rect x="327.50" y="401.60" width="32.60" height="126.80" fill="white" stroke="none" stroke-width="1"/>
<line x1="327.50" y1="505.60" x2="360.10" y2="505.60" stroke="#f2f2f2" stroke-width="0.5"/>
<line x1="327.50" y1="471.60" x2="360.10" y2="471.60" stroke="#f2f2f2" stroke-width="0.5"/>
<line x1="327.50" y1="437.60" x2="360.10" y2="437.60" stroke="#f2f2f2" stroke-width="0.5"/>
<line x1="327.50" y1="403.60" x2="360.10" y2="403.60" stroke="#f2f2f2" stroke-width="0.5"/>
<line x1="327.50" y1="522.60" x2="360.10" y2="522.60" stroke="#ebebeb" stroke-width="0.9"/>
<line x1="327.50" y1="488.60" x2="360.10" y2="488.60" stroke="#ebebeb" stroke-width="0.9"/>
<line x1="327.50" y1="454.60" x2="360.10" y2="454.60" stroke="#ebebeb" stroke-width="0.9"/>
<line x1="327.50" y1="420.60" x2="360.10" y2="420.60" stroke="#ebebeb" stroke-width="0.9"/>
<line x1="332.16" y1="401.60" x2="332.16" y2="528.40" stroke="#ebebeb" stroke-width="0.9"/>
<line x1="339.92" y1="401.60" x2="339.92" y2="528.40" stroke="#ebebeb" stroke-width="0.9"/>
<line x1="347.68" y1="401.60" x2="347.68" y2="528.40" stroke="#ebebeb" stroke-width="0.9"/>
<line x1="355.44" y1="401.60" x2="355.44" y2="528.40" stroke="#ebebeb" stroke-width="0.9"/>
<line x1="332.16" y1="518.86" x2="332.16" y2="520.08" stroke="#444" stroke-width="0.8"/>
<line x1="332.16" y1="521.92" x2="332.16" y2="522.60" stroke="#444" stroke-width="0.8"/>
<rect x="329.83" y="520.08" width="4.66" height="1.84" fill="#c0392b" stroke="#333" stroke-width="0.75"/>
<line x1="329.83" y1="520.83" x2="334.49" y2="520.83" stroke="#222" stroke-width="1.3"/>
<line x1="339.92" y1="515.12" x2="339.92" y2="518.38" stroke="#444" stroke-width="0.8"/>
<line x1="339.92" y1="521.24" x2="339.92" y2="521.92" stroke="#444" stroke-width="0.8"/>
<rect x="337.59" y="518.38" width="4.66" height="2.86" fill="#1f70b6" stroke="#333" stroke-width="0.75"/>
<line x1="337.59" y1="519.61" x2="342.25" y2="519.61" stroke="#222" stroke-width="1.3"/>
<line x1="347.68" y1="514.10" x2="347.68" y2="517.84" stroke="#444" stroke-width="0.8"/>
<line x1="347.68" y1="521.58" x2="347.68" y2="521.92" stroke="#444" stroke-width="0.8"/>
<rect x="345.35" y="517.84" width="4.66" height="3.74" fill="#e8962f" stroke="#333" stroke-width="0.75"/>
<line x1="345.35" y1="519.61" x2="350.01" y2="519.61" stroke="#222" stroke-width="1.3"/>
<line x1="355.44" y1="515.12" x2="355.44" y2="517.84" stroke="#444" stroke-width="0.8"/>
<line x1="355.44" y1="521.24" x2="355.44" y2="521.92" stroke="#444" stroke-width="0.8"/>
<rect x="353.11" y="517.84" width="4.66" height="3.40" fill="#2a9255" stroke="#333" stroke-width="0.75"/>
<line x1="353.11" y1="519.61" x2="357.77" y2="519.61" stroke="#222" stroke-width="1.3"/>
<path d="M332.16,409.50 L332.16,407.40 L355.44,407.40 L355.44,409.50" fill="none" stroke="#333" stroke-width="0.8"/>
<text x="343.80" y="408.60" font-size="8.4" font-weight="bold" text-anchor="middle" fill="#222">****</text>
<path d="M332.16,417.92 L332.16,415.82 L347.68,415.82 L347.68,417.92" fill="none" stroke="#333" stroke-width="0.8"/>
<text x="339.92" y="417.02" font-size="8.4" font-weight="bold" text-anchor="middle" fill="#222">****</text>
<path d="M332.16,434.76 L332.16,432.66 L339.92,432.66 L339.92,434.76" fill="none" stroke="#333" stroke-width="0.8"/>
<text x="336.04" y="433.86" font-size="8.4" font-weight="bold" text-anchor="middle" fill="#222">****</text>
<rect x="327.50" y="401.60" width="32.60" height="126.80" fill="none" stroke="#555" stroke-width="0.9"/>
<rect x="327.50" y="378.30" width="32.60" height="23.30" fill="#d9d9d9" stroke="#333" stroke-width="1.5"/>
<text x="343.80" y="394.35" font-size="7.0" text-anchor="middle" fill="#1a1a1a">CHKB</text>
<line x1="332.16" y1="528.40" x2="332.16" y2="530.00" stroke="#555" stroke-width="0.8"/>
<text x="0" y="0" font-size="7.3" fill="#222" text-anchor="end" transform="translate(333.86,534.40) rotate(-45)">Ctrl</text>
<line x1="339.92" y1="528.40" x2="339.92" y2="530.00" stroke="#555" stroke-width="0.8"/>
<text x="0" y="0" font-size="7.3" fill="#222" text-anchor="end" transform="translate(341.62,534.40) rotate(-45)">T1</text>
<line x1="347.68" y1="528.40" x2="347.68" y2="530.00" stroke="#555" stroke-width="0.8"/>
<text x="0" y="0" font-size="7.3" fill="#222" text-anchor="end" transform="translate(349.38,534.40) rotate(-45)">T2</text>
<line x1="355.44" y1="528.40" x2="355.44" y2="530.00" stroke="#555" stroke-width="0.8"/>
<text x="0" y="0" font-size="7.3" fill="#222" text-anchor="end" transform="translate(357.14,534.40) rotate(-45)">T3</text>
<rect x="368.50" y="401.60" width="32.60" height="126.80" fill="white" stroke="none" stroke-width="1"/>
<line x1="368.50" y1="505.60" x2="401.10" y2="505.60" stroke="#f2f2f2" stroke-width="0.5"/>
<line x1="368.50" y1="471.60" x2="401.10" y2="471.60" stroke="#f2f2f2" stroke-width="0.5"/>
<line x1="368.50" y1="437.60" x2="401.10" y2="437.60" stroke="#f2f2f2" stroke-width="0.5"/>
<line x1="368.50" y1="403.60" x2="401.10" y2="403.60" stroke="#f2f2f2" stroke-width="0.5"/>
<line x1="368.50" y1="522.60" x2="401.10" y2="522.60" stroke="#ebebeb" stroke-width="0.9"/>
<line x1="368.50" y1="488.60" x2="401.10" y2="488.60" stroke="#ebebeb" stroke-width="0.9"/>
<line x1="368.50" y1="454.60" x2="401.10" y2="454.60" stroke="#ebebeb" stroke-width="0.9"/>
<line x1="368.50" y1="420.60" x2="401.10" y2="420.60" stroke="#ebebeb" stroke-width="0.9"/>
<line x1="373.16" y1="401.60" x2="373.16" y2="528.40" stroke="#ebebeb" stroke-width="0.9"/>
<line x1="380.92" y1="401.60" x2="380.92" y2="528.40" stroke="#ebebeb" stroke-width="0.9"/>
<line x1="388.68" y1="401.60" x2="388.68" y2="528.40" stroke="#ebebeb" stroke-width="0.9"/>
<line x1="396.44" y1="401.60" x2="396.44" y2="528.40" stroke="#ebebeb" stroke-width="0.9"/>
<line x1="373.16" y1="491.66" x2="373.16" y2="495.40" stroke="#444" stroke-width="0.8"/>
<line x1="373.16" y1="499.82" x2="373.16" y2="503.56" stroke="#444" stroke-width="0.8"/>
<rect x="370.83" y="495.40" width="4.66" height="4.42" fill="#c0392b" stroke="#333" stroke-width="0.75"/>
<line x1="370.83" y1="497.24" x2="375.49" y2="497.24" stroke="#222" stroke-width="1.3"/>
<line x1="380.92" y1="488.60" x2="380.92" y2="494.04" stroke="#444" stroke-width="0.8"/>
<line x1="380.92" y1="497.44" x2="380.92" y2="502.20" stroke="#444" stroke-width="0.8"/>
<rect x="378.59" y="494.04" width="4.66" height="3.40" fill="#1f70b6" stroke="#333" stroke-width="0.75"/>
<line x1="378.59" y1="496.08" x2="383.25" y2="496.08" stroke="#222" stroke-width="1.3"/>
<line x1="388.68" y1="487.24" x2="388.68" y2="493.02" stroke="#444" stroke-width="0.8"/>
<line x1="388.68" y1="497.44" x2="388.68" y2="503.56" stroke="#444" stroke-width="0.8"/>
<rect x="386.35" y="493.02" width="4.66" height="4.42" fill="#e8962f" stroke="#333" stroke-width="0.75"/>
<line x1="386.35" y1="495.40" x2="391.01" y2="495.40" stroke="#222" stroke-width="1.3"/>
<line x1="396.44" y1="486.22" x2="396.44" y2="492.00" stroke="#444" stroke-width="0.8"/>
<line x1="396.44" y1="496.76" x2="396.44" y2="500.84" stroke="#444" stroke-width="0.8"/>
<rect x="394.11" y="492.00" width="4.66" height="4.76" fill="#2a9255" stroke="#333" stroke-width="0.75"/>
<line x1="394.11" y1="494.31" x2="398.77" y2="494.31" stroke="#222" stroke-width="1.3"/>
<path d="M373.16,409.50 L373.16,407.40 L396.44,407.40 L396.44,409.50" fill="none" stroke="#333" stroke-width="0.8"/>
<text x="384.80" y="408.60" font-size="8.4" font-weight="bold" text-anchor="middle" fill="#222">****</text>
<path d="M373.16,417.92 L373.16,415.82 L388.68,415.82 L388.68,417.92" fill="none" stroke="#333" stroke-width="0.8"/>
<text x="380.92" y="417.02" font-size="8.4" font-weight="bold" text-anchor="middle" fill="#222">****</text>
<path d="M373.16,434.76 L373.16,432.66 L380.92,432.66 L380.92,434.76" fill="none" stroke="#333" stroke-width="0.8"/>
<text x="377.04" y="433.86" font-size="8.4" font-weight="bold" text-anchor="middle" fill="#222">***</text>
<path d="M380.92,443.18 L380.92,441.08 L396.44,441.08 L396.44,443.18" fill="none" stroke="#333" stroke-width="0.8"/>
<text x="388.68" y="442.28" font-size="8.4" font-weight="bold" text-anchor="middle" fill="#222">**</text>
<rect x="368.50" y="401.60" width="32.60" height="126.80" fill="none" stroke="#555" stroke-width="0.9"/>
<rect x="368.50" y="378.30" width="32.60" height="23.30" fill="#d9d9d9" stroke="#333" stroke-width="1.5"/>
<text x="384.80" y="394.35" font-size="7.0" text-anchor="middle" fill="#1a1a1a">DGKQ</text>
<line x1="373.16" y1="528.40" x2="373.16" y2="530.00" stroke="#555" stroke-width="0.8"/>
<text x="0" y="0" font-size="7.3" fill="#222" text-anchor="end" transform="translate(374.86,534.40) rotate(-45)">Ctrl</text>
<line x1="380.92" y1="528.40" x2="380.92" y2="530.00" stroke="#555" stroke-width="0.8"/>
<text x="0" y="0" font-size="7.3" fill="#222" text-anchor="end" transform="translate(382.62,534.40) rotate(-45)">T1</text>
<line x1="388.68" y1="528.40" x2="388.68" y2="530.00" stroke="#555" stroke-width="0.8"/>
<text x="0" y="0" font-size="7.3" fill="#222" text-anchor="end" transform="translate(390.38,534.40) rotate(-45)">T2</text>
<line x1="396.44" y1="528.40" x2="396.44" y2="530.00" stroke="#555" stroke-width="0.8"/>
<text x="0" y="0" font-size="7.3" fill="#222" text-anchor="end" transform="translate(398.14,534.40) rotate(-45)">T3</text>
<rect x="408.60" y="401.60" width="32.60" height="126.80" fill="white" stroke="none" stroke-width="1"/>
<line x1="408.60" y1="505.60" x2="441.20" y2="505.60" stroke="#f2f2f2" stroke-width="0.5"/>
<line x1="408.60" y1="471.60" x2="441.20" y2="471.60" stroke="#f2f2f2" stroke-width="0.5"/>
<line x1="408.60" y1="437.60" x2="441.20" y2="437.60" stroke="#f2f2f2" stroke-width="0.5"/>
<line x1="408.60" y1="403.60" x2="441.20" y2="403.60" stroke="#f2f2f2" stroke-width="0.5"/>
<line x1="408.60" y1="522.60" x2="441.20" y2="522.60" stroke="#ebebeb" stroke-width="0.9"/>
<line x1="408.60" y1="488.60" x2="441.20" y2="488.60" stroke="#ebebeb" stroke-width="0.9"/>
<line x1="408.60" y1="454.60" x2="441.20" y2="454.60" stroke="#ebebeb" stroke-width="0.9"/>
<line x1="408.60" y1="420.60" x2="441.20" y2="420.60" stroke="#ebebeb" stroke-width="0.9"/>
<line x1="413.26" y1="401.60" x2="413.26" y2="528.40" stroke="#ebebeb" stroke-width="0.9"/>
<line x1="421.02" y1="401.60" x2="421.02" y2="528.40" stroke="#ebebeb" stroke-width="0.9"/>
<line x1="428.78" y1="401.60" x2="428.78" y2="528.40" stroke="#ebebeb" stroke-width="0.9"/>
<line x1="436.54" y1="401.60" x2="436.54" y2="528.40" stroke="#ebebeb" stroke-width="0.9"/>
<line x1="413.26" y1="505.94" x2="413.26" y2="515.12" stroke="#444" stroke-width="0.8"/>
<line x1="413.26" y1="521.58" x2="413.26" y2="522.60" stroke="#444" stroke-width="0.8"/>
<rect x="410.93" y="515.12" width="4.66" height="6.46" fill="#c0392b" stroke="#333" stroke-width="0.75"/>
<line x1="410.93" y1="518.32" x2="415.59" y2="518.32" stroke="#222" stroke-width="1.3"/>
<line x1="421.02" y1="509.00" x2="421.02" y2="515.12" stroke="#444" stroke-width="0.8"/>
<line x1="421.02" y1="519.61" x2="421.02" y2="522.60" stroke="#444" stroke-width="0.8"/>
<rect x="418.69" y="515.12" width="4.66" height="4.49" fill="#1f70b6" stroke="#333" stroke-width="0.75"/>
<line x1="418.69" y1="517.16" x2="423.35" y2="517.16" stroke="#222" stroke-width="1.3"/>
<line x1="428.78" y1="506.62" x2="428.78" y2="514.10" stroke="#444" stroke-width="0.8"/>
<line x1="428.78" y1="519.20" x2="428.78" y2="522.60" stroke="#444" stroke-width="0.8"/>
<rect x="426.45" y="514.10" width="4.66" height="5.10" fill="#e8962f" stroke="#333" stroke-width="0.75"/>
<line x1="426.45" y1="516.62" x2="431.11" y2="516.62" stroke="#222" stroke-width="1.3"/>
<line x1="436.54" y1="506.62" x2="436.54" y2="513.08" stroke="#444" stroke-width="0.8"/>
<line x1="436.54" y1="518.32" x2="436.54" y2="521.24" stroke="#444" stroke-width="0.8"/>
<rect x="434.21" y="513.08" width="4.66" height="5.24" fill="#2a9255" stroke="#333" stroke-width="0.75"/>
<line x1="434.21" y1="515.12" x2="438.87" y2="515.12" stroke="#222" stroke-width="1.3"/>
<path d="M413.26,409.50 L413.26,407.40 L436.54,407.40 L436.54,409.50" fill="none" stroke="#333" stroke-width="0.8"/>
<text x="424.90" y="408.60" font-size="8.4" font-weight="bold" text-anchor="middle" fill="#222">***</text>
<path d="M413.26,417.92 L413.26,415.82 L428.78,415.82 L428.78,417.92" fill="none" stroke="#333" stroke-width="0.8"/>
<text x="421.02" y="417.02" font-size="8.4" font-weight="bold" text-anchor="middle" fill="#222">**</text>
<path d="M428.78,426.34 L428.78,424.24 L436.54,424.24 L436.54,426.34" fill="none" stroke="#333" stroke-width="0.8"/>
<text x="432.66" y="425.44" font-size="8.4" font-weight="bold" text-anchor="middle" fill="#222">*</text>
<path d="M413.26,434.76 L413.26,432.66 L421.02,432.66 L421.02,434.76" fill="none" stroke="#333" stroke-width="0.8"/>
<text x="417.14" y="433.86" font-size="8.4" font-weight="bold" text-anchor="middle" fill="#222">*</text>
<path d="M421.02,443.18 L421.02,441.08 L436.54,441.08 L436.54,443.18" fill="none" stroke="#333" stroke-width="0.8"/>
<text x="428.78" y="442.28" font-size="8.4" font-weight="bold" text-anchor="middle" fill="#222">***</text>
<rect x="408.60" y="401.60" width="32.60" height="126.80" fill="none" stroke="#555" stroke-width="0.9"/>
<rect x="408.60" y="378.30" width="32.60" height="23.30" fill="#d9d9d9" stroke="#333" stroke-width="1.5"/>
<text x="424.90" y="394.35" font-size="7.0" text-anchor="middle" fill="#1a1a1a">HK3</text>
<line x1="413.26" y1="528.40" x2="413.26" y2="530.00" stroke="#555" stroke-width="0.8"/>
<text x="0" y="0" font-size="7.3" fill="#222" text-anchor="end" transform="translate(414.96,534.40) rotate(-45)">Ctrl</text>
<line x1="421.02" y1="528.40" x2="421.02" y2="530.00" stroke="#555" stroke-width="0.8"/>
<text x="0" y="0" font-size="7.3" fill="#222" text-anchor="end" transform="translate(422.72,534.40) rotate(-45)">T1</text>
<line x1="428.78" y1="528.40" x2="428.78" y2="530.00" stroke="#555" stroke-width="0.8"/>
<text x="0" y="0" font-size="7.3" fill="#222" text-anchor="end" transform="translate(430.48,534.40) rotate(-45)">T2</text>
<line x1="436.54" y1="528.40" x2="436.54" y2="530.00" stroke="#555" stroke-width="0.8"/>
<text x="0" y="0" font-size="7.3" fill="#222" text-anchor="end" transform="translate(438.24,534.40) rotate(-45)">T3</text>
<rect x="449.30" y="401.60" width="32.60" height="126.80" fill="white" stroke="none" stroke-width="1"/>
<line x1="449.30" y1="505.60" x2="481.90" y2="505.60" stroke="#f2f2f2" stroke-width="0.5"/>
<line x1="449.30" y1="471.60" x2="481.90" y2="471.60" stroke="#f2f2f2" stroke-width="0.5"/>
<line x1="449.30" y1="437.60" x2="481.90" y2="437.60" stroke="#f2f2f2" stroke-width="0.5"/>
<line x1="449.30" y1="403.60" x2="481.90" y2="403.60" stroke="#f2f2f2" stroke-width="0.5"/>
<line x1="449.30" y1="522.60" x2="481.90" y2="522.60" stroke="#ebebeb" stroke-width="0.9"/>
<line x1="449.30" y1="488.60" x2="481.90" y2="488.60" stroke="#ebebeb" stroke-width="0.9"/>
<line x1="449.30" y1="454.60" x2="481.90" y2="454.60" stroke="#ebebeb" stroke-width="0.9"/>
<line x1="449.30" y1="420.60" x2="481.90" y2="420.60" stroke="#ebebeb" stroke-width="0.9"/>
<line x1="453.96" y1="401.60" x2="453.96" y2="528.40" stroke="#ebebeb" stroke-width="0.9"/>
<line x1="461.72" y1="401.60" x2="461.72" y2="528.40" stroke="#ebebeb" stroke-width="0.9"/>
<line x1="469.48" y1="401.60" x2="469.48" y2="528.40" stroke="#ebebeb" stroke-width="0.9"/>
<line x1="477.24" y1="401.60" x2="477.24" y2="528.40" stroke="#ebebeb" stroke-width="0.9"/>
<line x1="453.96" y1="509.00" x2="453.96" y2="514.71" stroke="#444" stroke-width="0.8"/>
<line x1="453.96" y1="519.20" x2="453.96" y2="521.92" stroke="#444" stroke-width="0.8"/>
<rect x="451.63" y="514.71" width="4.66" height="4.49" fill="#c0392b" stroke="#333" stroke-width="0.75"/>
<line x1="451.63" y1="516.68" x2="456.29" y2="516.68" stroke="#222" stroke-width="1.3"/>
<line x1="461.72" y1="504.92" x2="461.72" y2="513.42" stroke="#444" stroke-width="0.8"/>
<line x1="461.72" y1="518.52" x2="461.72" y2="522.60" stroke="#444" stroke-width="0.8"/>
<rect x="459.39" y="513.42" width="4.66" height="5.10" fill="#1f70b6" stroke="#333" stroke-width="0.75"/>
<line x1="459.39" y1="515.80" x2="464.05" y2="515.80" stroke="#222" stroke-width="1.3"/>
<line x1="469.48" y1="502.20" x2="469.48" y2="512.40" stroke="#444" stroke-width="0.8"/>
<line x1="469.48" y1="518.52" x2="469.48" y2="522.60" stroke="#444" stroke-width="0.8"/>
<rect x="467.15" y="512.40" width="4.66" height="6.12" fill="#e8962f" stroke="#333" stroke-width="0.75"/>
<line x1="467.15" y1="515.12" x2="471.81" y2="515.12" stroke="#222" stroke-width="1.3"/>
<line x1="477.24" y1="502.88" x2="477.24" y2="512.40" stroke="#444" stroke-width="0.8"/>
<line x1="477.24" y1="517.84" x2="477.24" y2="521.92" stroke="#444" stroke-width="0.8"/>
<rect x="474.91" y="512.40" width="4.66" height="5.44" fill="#2a9255" stroke="#333" stroke-width="0.75"/>
<line x1="474.91" y1="514.44" x2="479.57" y2="514.44" stroke="#222" stroke-width="1.3"/>
<path d="M453.96,409.50 L453.96,407.40 L477.24,407.40 L477.24,409.50" fill="none" stroke="#333" stroke-width="0.8"/>
<text x="465.60" y="408.60" font-size="8.4" font-weight="bold" text-anchor="middle" fill="#222">***</text>
<path d="M453.96,417.92 L453.96,415.82 L469.48,415.82 L469.48,417.92" fill="none" stroke="#333" stroke-width="0.8"/>
<text x="461.72" y="417.02" font-size="8.4" font-weight="bold" text-anchor="middle" fill="#222">**</text>
<path d="M461.72,443.18 L461.72,441.08 L477.24,441.08 L477.24,443.18" fill="none" stroke="#333" stroke-width="0.8"/>
<text x="469.48" y="442.28" font-size="8.4" font-weight="bold" text-anchor="middle" fill="#222">*</text>
<rect x="449.30" y="401.60" width="32.60" height="126.80" fill="none" stroke="#555" stroke-width="0.9"/>
<rect x="449.30" y="378.30" width="32.60" height="23.30" fill="#d9d9d9" stroke="#333" stroke-width="1.5"/>
<text x="465.60" y="388.55" font-size="7.0" text-anchor="middle" fill="#1a1a1a">JMJD7−</text>
<text x="465.60" y="396.75" font-size="7.0" text-anchor="middle" fill="#1a1a1a">PLA2G4B</text>
<line x1="453.96" y1="528.40" x2="453.96" y2="530.00" stroke="#555" stroke-width="0.8"/>
<text x="0" y="0" font-size="7.3" fill="#222" text-anchor="end" transform="translate(455.66,534.40) rotate(-45)">Ctrl</text>
<line x1="461.72" y1="528.40" x2="461.72" y2="530.00" stroke="#555" stroke-width="0.8"/>
<text x="0" y="0" font-size="7.3" fill="#222" text-anchor="end" transform="translate(463.42,534.40) rotate(-45)">T1</text>
<line x1="469.48" y1="528.40" x2="469.48" y2="530.00" stroke="#555" stroke-width="0.8"/>
<text x="0" y="0" font-size="7.3" fill="#222" text-anchor="end" transform="translate(471.18,534.40) rotate(-45)">T2</text>
<line x1="477.24" y1="528.40" x2="477.24" y2="530.00" stroke="#555" stroke-width="0.8"/>
<text x="0" y="0" font-size="7.3" fill="#222" text-anchor="end" transform="translate(478.94,534.40) rotate(-45)">T3</text>
<rect x="489.40" y="401.60" width="32.60" height="126.80" fill="white" stroke="none" stroke-width="1"/>
<line x1="489.40" y1="505.60" x2="522.00" y2="505.60" stroke="#f2f2f2" stroke-width="0.5"/>
<line x1="489.40" y1="471.60" x2="522.00" y2="471.60" stroke="#f2f2f2" stroke-width="0.5"/>
<line x1="489.40" y1="437.60" x2="522.00" y2="437.60" stroke="#f2f2f2" stroke-width="0.5"/>
<line x1="489.40" y1="403.60" x2="522.00" y2="403.60" stroke="#f2f2f2" stroke-width="0.5"/>
<line x1="489.40" y1="522.60" x2="522.00" y2="522.60" stroke="#ebebeb" stroke-width="0.9"/>
<line x1="489.40" y1="488.60" x2="522.00" y2="488.60" stroke="#ebebeb" stroke-width="0.9"/>
<line x1="489.40" y1="454.60" x2="522.00" y2="454.60" stroke="#ebebeb" stroke-width="0.9"/>
<line x1="489.40" y1="420.60" x2="522.00" y2="420.60" stroke="#ebebeb" stroke-width="0.9"/>
<line x1="494.06" y1="401.60" x2="494.06" y2="528.40" stroke="#ebebeb" stroke-width="0.9"/>
<line x1="501.82" y1="401.60" x2="501.82" y2="528.40" stroke="#ebebeb" stroke-width="0.9"/>
<line x1="509.58" y1="401.60" x2="509.58" y2="528.40" stroke="#ebebeb" stroke-width="0.9"/>
<line x1="517.34" y1="401.60" x2="517.34" y2="528.40" stroke="#ebebeb" stroke-width="0.9"/>
<line x1="494.06" y1="464.80" x2="494.06" y2="472.28" stroke="#444" stroke-width="0.8"/>
<line x1="494.06" y1="477.72" x2="494.06" y2="484.52" stroke="#444" stroke-width="0.8"/>
<rect x="491.73" y="472.28" width="4.66" height="5.44" fill="#c0392b" stroke="#333" stroke-width="0.75"/>
<line x1="491.73" y1="474.52" x2="496.39" y2="474.52" stroke="#222" stroke-width="1.3"/>
<line x1="501.82" y1="464.80" x2="501.82" y2="471.60" stroke="#444" stroke-width="0.8"/>
<line x1="501.82" y1="475.68" x2="501.82" y2="482.48" stroke="#444" stroke-width="0.8"/>
<rect x="499.49" y="471.60" width="4.66" height="4.08" fill="#1f70b6" stroke="#333" stroke-width="0.75"/>
<line x1="499.49" y1="473.64" x2="504.15" y2="473.64" stroke="#222" stroke-width="1.3"/>
<line x1="509.58" y1="464.12" x2="509.58" y2="470.92" stroke="#444" stroke-width="0.8"/>
<line x1="509.58" y1="475.68" x2="509.58" y2="483.16" stroke="#444" stroke-width="0.8"/>
<rect x="507.25" y="470.92" width="4.66" height="4.76" fill="#e8962f" stroke="#333" stroke-width="0.75"/>
<line x1="507.25" y1="473.30" x2="511.91" y2="473.30" stroke="#222" stroke-width="1.3"/>
<line x1="517.34" y1="462.08" x2="517.34" y2="469.56" stroke="#444" stroke-width="0.8"/>
<line x1="517.34" y1="474.32" x2="517.34" y2="481.80" stroke="#444" stroke-width="0.8"/>
<rect x="515.01" y="469.56" width="4.66" height="4.76" fill="#2a9255" stroke="#333" stroke-width="0.75"/>
<line x1="515.01" y1="471.60" x2="519.67" y2="471.60" stroke="#222" stroke-width="1.3"/>
<path d="M494.06,409.50 L494.06,407.40 L517.34,407.40 L517.34,409.50" fill="none" stroke="#333" stroke-width="0.8"/>
<text x="505.70" y="408.60" font-size="8.4" font-weight="bold" text-anchor="middle" fill="#222">****</text>
<path d="M494.06,417.92 L494.06,415.82 L509.58,415.82 L509.58,417.92" fill="none" stroke="#333" stroke-width="0.8"/>
<text x="501.82" y="417.02" font-size="8.4" font-weight="bold" text-anchor="middle" fill="#222">**</text>
<path d="M494.06,434.76 L494.06,432.66 L501.82,432.66 L501.82,434.76" fill="none" stroke="#333" stroke-width="0.8"/>
<text x="497.94" y="433.86" font-size="8.4" font-weight="bold" text-anchor="middle" fill="#222">**</text>
<path d="M501.82,443.18 L501.82,441.08 L517.34,441.08 L517.34,443.18" fill="none" stroke="#333" stroke-width="0.8"/>
<text x="509.58" y="442.28" font-size="8.4" font-weight="bold" text-anchor="middle" fill="#222">**</text>
<rect x="489.40" y="401.60" width="32.60" height="126.80" fill="none" stroke="#555" stroke-width="0.9"/>
<rect x="489.40" y="378.30" width="32.60" height="23.30" fill="#d9d9d9" stroke="#333" stroke-width="1.5"/>
<text x="505.70" y="394.35" font-size="7.0" text-anchor="middle" fill="#1a1a1a">LDHA</text>
<line x1="494.06" y1="528.40" x2="494.06" y2="530.00" stroke="#555" stroke-width="0.8"/>
<text x="0" y="0" font-size="7.3" fill="#222" text-anchor="end" transform="translate(495.76,534.40) rotate(-45)">Ctrl</text>
<line x1="501.82" y1="528.40" x2="501.82" y2="530.00" stroke="#555" stroke-width="0.8"/>
<text x="0" y="0" font-size="7.3" fill="#222" text-anchor="end" transform="translate(503.52,534.40) rotate(-45)">T1</text>
<line x1="509.58" y1="528.40" x2="509.58" y2="530.00" stroke="#555" stroke-width="0.8"/>
<text x="0" y="0" font-size="7.3" fill="#222" text-anchor="end" transform="translate(511.28,534.40) rotate(-45)">T2</text>
<line x1="517.34" y1="528.40" x2="517.34" y2="530.00" stroke="#555" stroke-width="0.8"/>
<text x="0" y="0" font-size="7.3" fill="#222" text-anchor="end" transform="translate(519.04,534.40) rotate(-45)">T3</text>
<rect x="529.40" y="401.60" width="32.60" height="126.80" fill="white" stroke="none" stroke-width="1"/>
<line x1="529.40" y1="505.60" x2="562.00" y2="505.60" stroke="#f2f2f2" stroke-width="0.5"/>
<line x1="529.40" y1="471.60" x2="562.00" y2="471.60" stroke="#f2f2f2" stroke-width="0.5"/>
<line x1="529.40" y1="437.60" x2="562.00" y2="437.60" stroke="#f2f2f2" stroke-width="0.5"/>
<line x1="529.40" y1="403.60" x2="562.00" y2="403.60" stroke="#f2f2f2" stroke-width="0.5"/>
<line x1="529.40" y1="522.60" x2="562.00" y2="522.60" stroke="#ebebeb" stroke-width="0.9"/>
<line x1="529.40" y1="488.60" x2="562.00" y2="488.60" stroke="#ebebeb" stroke-width="0.9"/>
<line x1="529.40" y1="454.60" x2="562.00" y2="454.60" stroke="#ebebeb" stroke-width="0.9"/>
<line x1="529.40" y1="420.60" x2="562.00" y2="420.60" stroke="#ebebeb" stroke-width="0.9"/>
<line x1="534.06" y1="401.60" x2="534.06" y2="528.40" stroke="#ebebeb" stroke-width="0.9"/>
<line x1="541.82" y1="401.60" x2="541.82" y2="528.40" stroke="#ebebeb" stroke-width="0.9"/>
<line x1="549.58" y1="401.60" x2="549.58" y2="528.40" stroke="#ebebeb" stroke-width="0.9"/>
<line x1="557.34" y1="401.60" x2="557.34" y2="528.40" stroke="#ebebeb" stroke-width="0.9"/>
<line x1="534.06" y1="476.36" x2="534.06" y2="479.76" stroke="#444" stroke-width="0.8"/>
<line x1="534.06" y1="483.16" x2="534.06" y2="486.56" stroke="#444" stroke-width="0.8"/>
<rect x="531.73" y="479.76" width="4.66" height="3.40" fill="#c0392b" stroke="#333" stroke-width="0.75"/>
<line x1="531.73" y1="481.39" x2="536.39" y2="481.39" stroke="#222" stroke-width="1.3"/>
<line x1="541.82" y1="474.32" x2="541.82" y2="478.40" stroke="#444" stroke-width="0.8"/>
<line x1="541.82" y1="481.80" x2="541.82" y2="485.20" stroke="#444" stroke-width="0.8"/>
<rect x="539.49" y="478.40" width="4.66" height="3.40" fill="#1f70b6" stroke="#333" stroke-width="0.75"/>
<line x1="539.49" y1="479.76" x2="544.15" y2="479.76" stroke="#222" stroke-width="1.3"/>
<line x1="549.58" y1="473.64" x2="549.58" y2="477.72" stroke="#444" stroke-width="0.8"/>
<line x1="549.58" y1="481.80" x2="549.58" y2="485.88" stroke="#444" stroke-width="0.8"/>
<rect x="547.25" y="477.72" width="4.66" height="4.08" fill="#e8962f" stroke="#333" stroke-width="0.75"/>
<line x1="547.25" y1="479.76" x2="551.91" y2="479.76" stroke="#222" stroke-width="1.3"/>
<line x1="557.34" y1="472.96" x2="557.34" y2="477.04" stroke="#444" stroke-width="0.8"/>
<line x1="557.34" y1="481.12" x2="557.34" y2="484.52" stroke="#444" stroke-width="0.8"/>
<rect x="555.01" y="477.04" width="4.66" height="4.08" fill="#2a9255" stroke="#333" stroke-width="0.75"/>
<line x1="555.01" y1="479.42" x2="559.67" y2="479.42" stroke="#222" stroke-width="1.3"/>
<path d="M534.06,409.50 L534.06,407.40 L557.34,407.40 L557.34,409.50" fill="none" stroke="#333" stroke-width="0.8"/>
<text x="545.70" y="408.60" font-size="8.4" font-weight="bold" text-anchor="middle" fill="#222">****</text>
<path d="M534.06,417.92 L534.06,415.82 L549.58,415.82 L549.58,417.92" fill="none" stroke="#333" stroke-width="0.8"/>
<text x="541.82" y="417.02" font-size="8.4" font-weight="bold" text-anchor="middle" fill="#222">***</text>
<path d="M534.06,434.76 L534.06,432.66 L541.82,432.66 L541.82,434.76" fill="none" stroke="#333" stroke-width="0.8"/>
<text x="537.94" y="433.86" font-size="8.4" font-weight="bold" text-anchor="middle" fill="#222">***</text>
<rect x="529.40" y="401.60" width="32.60" height="126.80" fill="none" stroke="#555" stroke-width="0.9"/>
<rect x="529.40" y="378.30" width="32.60" height="23.30" fill="#d9d9d9" stroke="#333" stroke-width="1.5"/>
<text x="545.70" y="394.35" font-size="7.0" text-anchor="middle" fill="#1a1a1a">PFKL</text>
<line x1="534.06" y1="528.40" x2="534.06" y2="530.00" stroke="#555" stroke-width="0.8"/>
<text x="0" y="0" font-size="7.3" fill="#222" text-anchor="end" transform="translate(535.76,534.40) rotate(-45)">Ctrl</text>
<line x1="541.82" y1="528.40" x2="541.82" y2="530.00" stroke="#555" stroke-width="0.8"/>
<text x="0" y="0" font-size="7.3" fill="#222" text-anchor="end" transform="translate(543.52,534.40) rotate(-45)">T1</text>
<line x1="549.58" y1="528.40" x2="549.58" y2="530.00" stroke="#555" stroke-width="0.8"/>
<text x="0" y="0" font-size="7.3" fill="#222" text-anchor="end" transform="translate(551.28,534.40) rotate(-45)">T2</text>
<line x1="557.34" y1="528.40" x2="557.34" y2="530.00" stroke="#555" stroke-width="0.8"/>
<text x="0" y="0" font-size="7.3" fill="#222" text-anchor="end" transform="translate(559.04,534.40) rotate(-45)">T3</text>
<rect x="569.50" y="401.60" width="32.60" height="126.80" fill="white" stroke="none" stroke-width="1"/>
<line x1="569.50" y1="505.60" x2="602.10" y2="505.60" stroke="#f2f2f2" stroke-width="0.5"/>
<line x1="569.50" y1="471.60" x2="602.10" y2="471.60" stroke="#f2f2f2" stroke-width="0.5"/>
<line x1="569.50" y1="437.60" x2="602.10" y2="437.60" stroke="#f2f2f2" stroke-width="0.5"/>
<line x1="569.50" y1="403.60" x2="602.10" y2="403.60" stroke="#f2f2f2" stroke-width="0.5"/>
<line x1="569.50" y1="522.60" x2="602.10" y2="522.60" stroke="#ebebeb" stroke-width="0.9"/>
<line x1="569.50" y1="488.60" x2="602.10" y2="488.60" stroke="#ebebeb" stroke-width="0.9"/>
<line x1="569.50" y1="454.60" x2="602.10" y2="454.60" stroke="#ebebeb" stroke-width="0.9"/>
<line x1="569.50" y1="420.60" x2="602.10" y2="420.60" stroke="#ebebeb" stroke-width="0.9"/>
<line x1="574.16" y1="401.60" x2="574.16" y2="528.40" stroke="#ebebeb" stroke-width="0.9"/>
<line x1="581.92" y1="401.60" x2="581.92" y2="528.40" stroke="#ebebeb" stroke-width="0.9"/>
<line x1="589.68" y1="401.60" x2="589.68" y2="528.40" stroke="#ebebeb" stroke-width="0.9"/>
<line x1="597.44" y1="401.60" x2="597.44" y2="528.40" stroke="#ebebeb" stroke-width="0.9"/>
<line x1="574.16" y1="503.90" x2="574.16" y2="509.27" stroke="#444" stroke-width="0.8"/>
<line x1="574.16" y1="512.60" x2="574.16" y2="516.62" stroke="#444" stroke-width="0.8"/>
<rect x="571.83" y="509.27" width="4.66" height="3.33" fill="#c0392b" stroke="#333" stroke-width="0.75"/>
<line x1="571.83" y1="510.77" x2="576.49" y2="510.77" stroke="#222" stroke-width="1.3"/>
<line x1="581.92" y1="498.80" x2="581.92" y2="504.24" stroke="#444" stroke-width="0.8"/>
<line x1="581.92" y1="510.36" x2="581.92" y2="515.12" stroke="#444" stroke-width="0.8"/>
<rect x="579.59" y="504.24" width="4.66" height="6.12" fill="#1f70b6" stroke="#333" stroke-width="0.75"/>
<line x1="579.59" y1="507.50" x2="584.25" y2="507.50" stroke="#222" stroke-width="1.3"/>
<line x1="589.68" y1="494.72" x2="589.68" y2="503.56" stroke="#444" stroke-width="0.8"/>
<line x1="589.68" y1="510.02" x2="589.68" y2="514.44" stroke="#444" stroke-width="0.8"/>
<rect x="587.35" y="503.56" width="4.66" height="6.46" fill="#e8962f" stroke="#333" stroke-width="0.75"/>
<line x1="587.35" y1="506.62" x2="592.01" y2="506.62" stroke="#222" stroke-width="1.3"/>
<line x1="597.44" y1="497.44" x2="597.44" y2="503.56" stroke="#444" stroke-width="0.8"/>
<line x1="597.44" y1="510.02" x2="597.44" y2="514.44" stroke="#444" stroke-width="0.8"/>
<rect x="595.11" y="503.56" width="4.66" height="6.46" fill="#2a9255" stroke="#333" stroke-width="0.75"/>
<line x1="595.11" y1="506.62" x2="599.77" y2="506.62" stroke="#222" stroke-width="1.3"/>
<path d="M574.16,409.50 L574.16,407.40 L597.44,407.40 L597.44,409.50" fill="none" stroke="#333" stroke-width="0.8"/>
<text x="585.80" y="408.60" font-size="8.4" font-weight="bold" text-anchor="middle" fill="#222">****</text>
<path d="M574.16,417.92 L574.16,415.82 L589.68,415.82 L589.68,417.92" fill="none" stroke="#333" stroke-width="0.8"/>
<text x="581.92" y="417.02" font-size="8.4" font-weight="bold" text-anchor="middle" fill="#222">****</text>
<path d="M574.16,434.76 L574.16,432.66 L581.92,432.66 L581.92,434.76" fill="none" stroke="#333" stroke-width="0.8"/>
<text x="578.04" y="433.86" font-size="8.4" font-weight="bold" text-anchor="middle" fill="#222">****</text>
<path d="M581.92,451.60 L581.92,449.50 L589.68,449.50 L589.68,451.60" fill="none" stroke="#333" stroke-width="0.8"/>
<text x="585.80" y="450.70" font-size="8.4" font-weight="bold" text-anchor="middle" fill="#222">**</text>
<rect x="569.50" y="401.60" width="32.60" height="126.80" fill="none" stroke="#555" stroke-width="0.9"/>
<rect x="569.50" y="378.30" width="32.60" height="23.30" fill="#d9d9d9" stroke="#333" stroke-width="1.5"/>
<text x="585.80" y="394.35" font-size="7.0" text-anchor="middle" fill="#1a1a1a">RALGDS</text>
<line x1="574.16" y1="528.40" x2="574.16" y2="530.00" stroke="#555" stroke-width="0.8"/>
<text x="0" y="0" font-size="7.3" fill="#222" text-anchor="end" transform="translate(575.86,534.40) rotate(-45)">Ctrl</text>
<line x1="581.92" y1="528.40" x2="581.92" y2="530.00" stroke="#555" stroke-width="0.8"/>
<text x="0" y="0" font-size="7.3" fill="#222" text-anchor="end" transform="translate(583.62,534.40) rotate(-45)">T1</text>
<line x1="589.68" y1="528.40" x2="589.68" y2="530.00" stroke="#555" stroke-width="0.8"/>
<text x="0" y="0" font-size="7.3" fill="#222" text-anchor="end" transform="translate(591.38,534.40) rotate(-45)">T2</text>
<line x1="597.44" y1="528.40" x2="597.44" y2="530.00" stroke="#555" stroke-width="0.8"/>
<text x="0" y="0" font-size="7.3" fill="#222" text-anchor="end" transform="translate(599.14,534.40) rotate(-45)">T3</text>
<rect x="609.50" y="401.60" width="32.60" height="126.80" fill="white" stroke="none" stroke-width="1"/>
<line x1="609.50" y1="505.60" x2="642.10" y2="505.60" stroke="#f2f2f2" stroke-width="0.5"/>
<line x1="609.50" y1="471.60" x2="642.10" y2="471.60" stroke="#f2f2f2" stroke-width="0.5"/>
<line x1="609.50" y1="437.60" x2="642.10" y2="437.60" stroke="#f2f2f2" stroke-width="0.5"/>
<line x1="609.50" y1="403.60" x2="642.10" y2="403.60" stroke="#f2f2f2" stroke-width="0.5"/>
<line x1="609.50" y1="522.60" x2="642.10" y2="522.60" stroke="#ebebeb" stroke-width="0.9"/>
<line x1="609.50" y1="488.60" x2="642.10" y2="488.60" stroke="#ebebeb" stroke-width="0.9"/>
<line x1="609.50" y1="454.60" x2="642.10" y2="454.60" stroke="#ebebeb" stroke-width="0.9"/>
<line x1="609.50" y1="420.60" x2="642.10" y2="420.60" stroke="#ebebeb" stroke-width="0.9"/>
<line x1="614.16" y1="401.60" x2="614.16" y2="528.40" stroke="#ebebeb" stroke-width="0.9"/>
<line x1="621.92" y1="401.60" x2="621.92" y2="528.40" stroke="#ebebeb" stroke-width="0.9"/>
<line x1="629.68" y1="401.60" x2="629.68" y2="528.40" stroke="#ebebeb" stroke-width="0.9"/>
<line x1="637.44" y1="401.60" x2="637.44" y2="528.40" stroke="#ebebeb" stroke-width="0.9"/>
<line x1="614.16" y1="509.00" x2="614.16" y2="513.90" stroke="#444" stroke-width="0.8"/>
<line x1="614.16" y1="519.40" x2="614.16" y2="521.24" stroke="#444" stroke-width="0.8"/>
<rect x="611.83" y="513.90" width="4.66" height="5.51" fill="#c0392b" stroke="#333" stroke-width="0.75"/>
<line x1="611.83" y1="516.62" x2="616.49" y2="516.62" stroke="#222" stroke-width="1.3"/>
<line x1="621.92" y1="498.12" x2="621.92" y2="508.32" stroke="#444" stroke-width="0.8"/>
<line x1="621.92" y1="515.12" x2="621.92" y2="518.79" stroke="#444" stroke-width="0.8"/>
<rect x="619.59" y="508.32" width="4.66" height="6.80" fill="#1f70b6" stroke="#333" stroke-width="0.75"/>
<line x1="619.59" y1="511.72" x2="624.25" y2="511.72" stroke="#222" stroke-width="1.3"/>
<line x1="629.68" y1="495.40" x2="629.68" y2="506.28" stroke="#444" stroke-width="0.8"/>
<line x1="629.68" y1="514.44" x2="629.68" y2="521.24" stroke="#444" stroke-width="0.8"/>
<rect x="627.35" y="506.28" width="4.66" height="8.16" fill="#e8962f" stroke="#333" stroke-width="0.75"/>
<line x1="627.35" y1="510.36" x2="632.01" y2="510.36" stroke="#222" stroke-width="1.3"/>
<line x1="637.44" y1="492.00" x2="637.44" y2="502.20" stroke="#444" stroke-width="0.8"/>
<line x1="637.44" y1="511.72" x2="637.44" y2="519.40" stroke="#444" stroke-width="0.8"/>
<rect x="635.11" y="502.20" width="4.66" height="9.52" fill="#2a9255" stroke="#333" stroke-width="0.75"/>
<line x1="635.11" y1="507.64" x2="639.77" y2="507.64" stroke="#222" stroke-width="1.3"/>
<path d="M614.16,409.50 L614.16,407.40 L637.44,407.40 L637.44,409.50" fill="none" stroke="#333" stroke-width="0.8"/>
<text x="625.80" y="408.60" font-size="8.4" font-weight="bold" text-anchor="middle" fill="#222">****</text>
<path d="M614.16,417.92 L614.16,415.82 L629.68,415.82 L629.68,417.92" fill="none" stroke="#333" stroke-width="0.8"/>
<text x="621.92" y="417.02" font-size="8.4" font-weight="bold" text-anchor="middle" fill="#222">****</text>
<path d="M629.68,426.34 L629.68,424.24 L637.44,424.24 L637.44,426.34" fill="none" stroke="#333" stroke-width="0.8"/>
<text x="633.56" y="425.44" font-size="8.4" font-weight="bold" text-anchor="middle" fill="#222">****</text>
<path d="M614.16,434.76 L614.16,432.66 L621.92,432.66 L621.92,434.76" fill="none" stroke="#333" stroke-width="0.8"/>
<text x="618.04" y="433.86" font-size="8.4" font-weight="bold" text-anchor="middle" fill="#222">****</text>
<path d="M621.92,443.18 L621.92,441.08 L637.44,441.08 L637.44,443.18" fill="none" stroke="#333" stroke-width="0.8"/>
<text x="629.68" y="442.28" font-size="8.4" font-weight="bold" text-anchor="middle" fill="#222">****</text>
<path d="M621.92,451.60 L621.92,449.50 L629.68,449.50 L629.68,451.60" fill="none" stroke="#333" stroke-width="0.8"/>
<text x="625.80" y="450.70" font-size="8.4" font-weight="bold" text-anchor="middle" fill="#222">*</text>
<rect x="609.50" y="401.60" width="32.60" height="126.80" fill="none" stroke="#555" stroke-width="0.9"/>
<rect x="609.50" y="378.30" width="32.60" height="23.30" fill="#d9d9d9" stroke="#333" stroke-width="1.5"/>
<text x="625.80" y="394.35" font-size="7.0" text-anchor="middle" fill="#1a1a1a">RRM2</text>
<line x1="614.16" y1="528.40" x2="614.16" y2="530.00" stroke="#555" stroke-width="0.8"/>
<text x="0" y="0" font-size="7.3" fill="#222" text-anchor="end" transform="translate(615.86,534.40) rotate(-45)">Ctrl</text>
<line x1="621.92" y1="528.40" x2="621.92" y2="530.00" stroke="#555" stroke-width="0.8"/>
<text x="0" y="0" font-size="7.3" fill="#222" text-anchor="end" transform="translate(623.62,534.40) rotate(-45)">T1</text>
<line x1="629.68" y1="528.40" x2="629.68" y2="530.00" stroke="#555" stroke-width="0.8"/>
<text x="0" y="0" font-size="7.3" fill="#222" text-anchor="end" transform="translate(631.38,534.40) rotate(-45)">T2</text>
<line x1="637.44" y1="528.40" x2="637.44" y2="530.00" stroke="#555" stroke-width="0.8"/>
<text x="0" y="0" font-size="7.3" fill="#222" text-anchor="end" transform="translate(639.14,534.40) rotate(-45)">T3</text>
<rect x="649.80" y="401.60" width="32.60" height="126.80" fill="white" stroke="none" stroke-width="1"/>
<line x1="649.80" y1="505.60" x2="682.40" y2="505.60" stroke="#f2f2f2" stroke-width="0.5"/>
<line x1="649.80" y1="471.60" x2="682.40" y2="471.60" stroke="#f2f2f2" stroke-width="0.5"/>
<line x1="649.80" y1="437.60" x2="682.40" y2="437.60" stroke="#f2f2f2" stroke-width="0.5"/>
<line x1="649.80" y1="403.60" x2="682.40" y2="403.60" stroke="#f2f2f2" stroke-width="0.5"/>
<line x1="649.80" y1="522.60" x2="682.40" y2="522.60" stroke="#ebebeb" stroke-width="0.9"/>
<line x1="649.80" y1="488.60" x2="682.40" y2="488.60" stroke="#ebebeb" stroke-width="0.9"/>
<line x1="649.80" y1="454.60" x2="682.40" y2="454.60" stroke="#ebebeb" stroke-width="0.9"/>
<line x1="649.80" y1="420.60" x2="682.40" y2="420.60" stroke="#ebebeb" stroke-width="0.9"/>
<line x1="654.46" y1="401.60" x2="654.46" y2="528.40" stroke="#ebebeb" stroke-width="0.9"/>
<line x1="662.22" y1="401.60" x2="662.22" y2="528.40" stroke="#ebebeb" stroke-width="0.9"/>
<line x1="669.98" y1="401.60" x2="669.98" y2="528.40" stroke="#ebebeb" stroke-width="0.9"/>
<line x1="677.74" y1="401.60" x2="677.74" y2="528.40" stroke="#ebebeb" stroke-width="0.9"/>
<line x1="654.46" y1="488.60" x2="654.46" y2="490.64" stroke="#444" stroke-width="0.8"/>
<line x1="654.46" y1="492.68" x2="654.46" y2="494.72" stroke="#444" stroke-width="0.8"/>
<rect x="652.13" y="490.64" width="4.66" height="2.04" fill="#c0392b" stroke="#333" stroke-width="0.75"/>
<line x1="652.13" y1="491.52" x2="656.79" y2="491.52" stroke="#222" stroke-width="1.3"/>
<line x1="662.22" y1="483.84" x2="662.22" y2="488.60" stroke="#444" stroke-width="0.8"/>
<line x1="662.22" y1="491.66" x2="662.22" y2="495.06" stroke="#444" stroke-width="0.8"/>
<rect x="659.89" y="488.60" width="4.66" height="3.06" fill="#1f70b6" stroke="#333" stroke-width="0.75"/>
<line x1="659.89" y1="489.96" x2="664.55" y2="489.96" stroke="#222" stroke-width="1.3"/>
<line x1="669.98" y1="485.20" x2="669.98" y2="488.94" stroke="#444" stroke-width="0.8"/>
<line x1="669.98" y1="492.00" x2="669.98" y2="495.40" stroke="#444" stroke-width="0.8"/>
<rect x="667.65" y="488.94" width="4.66" height="3.06" fill="#e8962f" stroke="#333" stroke-width="0.75"/>
<line x1="667.65" y1="490.64" x2="672.31" y2="490.64" stroke="#222" stroke-width="1.3"/>
<line x1="677.74" y1="485.88" x2="677.74" y2="488.94" stroke="#444" stroke-width="0.8"/>
<line x1="677.74" y1="492.68" x2="677.74" y2="496.08" stroke="#444" stroke-width="0.8"/>
<rect x="675.41" y="488.94" width="4.66" height="3.74" fill="#2a9255" stroke="#333" stroke-width="0.75"/>
<line x1="675.41" y1="491.32" x2="680.07" y2="491.32" stroke="#222" stroke-width="1.3"/>
<path d="M654.46,409.50 L654.46,407.40 L677.74,407.40 L677.74,409.50" fill="none" stroke="#333" stroke-width="0.8"/>
<text x="666.10" y="408.60" font-size="8.4" font-weight="bold" text-anchor="middle" fill="#222">**</text>
<path d="M654.46,417.92 L654.46,415.82 L669.98,415.82 L669.98,417.92" fill="none" stroke="#333" stroke-width="0.8"/>
<text x="662.22" y="417.02" font-size="8.4" font-weight="bold" text-anchor="middle" fill="#222">****</text>
<path d="M654.46,434.76 L654.46,432.66 L662.22,432.66 L662.22,434.76" fill="none" stroke="#333" stroke-width="0.8"/>
<text x="658.34" y="433.86" font-size="8.4" font-weight="bold" text-anchor="middle" fill="#222">****</text>
<path d="M662.22,443.18 L662.22,441.08 L677.74,441.08 L677.74,443.18" fill="none" stroke="#333" stroke-width="0.8"/>
<text x="669.98" y="442.28" font-size="8.4" font-weight="bold" text-anchor="middle" fill="#222">*</text>
<rect x="649.80" y="401.60" width="32.60" height="126.80" fill="none" stroke="#555" stroke-width="0.9"/>
<rect x="649.80" y="378.30" width="32.60" height="23.30" fill="#d9d9d9" stroke="#333" stroke-width="1.5"/>
<text x="666.10" y="394.35" font-size="7.0" text-anchor="middle" fill="#1a1a1a">SIRT6</text>
<line x1="654.46" y1="528.40" x2="654.46" y2="530.00" stroke="#555" stroke-width="0.8"/>
<text x="0" y="0" font-size="7.3" fill="#222" text-anchor="end" transform="translate(656.16,534.40) rotate(-45)">Ctrl</text>
<line x1="662.22" y1="528.40" x2="662.22" y2="530.00" stroke="#555" stroke-width="0.8"/>
<text x="0" y="0" font-size="7.3" fill="#222" text-anchor="end" transform="translate(663.92,534.40) rotate(-45)">T1</text>
<line x1="669.98" y1="528.40" x2="669.98" y2="530.00" stroke="#555" stroke-width="0.8"/>
<text x="0" y="0" font-size="7.3" fill="#222" text-anchor="end" transform="translate(671.68,534.40) rotate(-45)">T2</text>
<line x1="677.74" y1="528.40" x2="677.74" y2="530.00" stroke="#555" stroke-width="0.8"/>
<text x="0" y="0" font-size="7.3" fill="#222" text-anchor="end" transform="translate(679.44,534.40) rotate(-45)">T3</text>
<rect x="327.50" y="565.50" width="32.60" height="127.80" fill="white" stroke="none" stroke-width="1"/>
<line x1="327.50" y1="670.40" x2="360.10" y2="670.40" stroke="#f2f2f2" stroke-width="0.5"/>
<line x1="327.50" y1="636.40" x2="360.10" y2="636.40" stroke="#f2f2f2" stroke-width="0.5"/>
<line x1="327.50" y1="602.40" x2="360.10" y2="602.40" stroke="#f2f2f2" stroke-width="0.5"/>
<line x1="327.50" y1="568.40" x2="360.10" y2="568.40" stroke="#f2f2f2" stroke-width="0.5"/>
<line x1="327.50" y1="687.40" x2="360.10" y2="687.40" stroke="#ebebeb" stroke-width="0.9"/>
<line x1="327.50" y1="653.40" x2="360.10" y2="653.40" stroke="#ebebeb" stroke-width="0.9"/>
<line x1="327.50" y1="619.40" x2="360.10" y2="619.40" stroke="#ebebeb" stroke-width="0.9"/>
<line x1="327.50" y1="585.40" x2="360.10" y2="585.40" stroke="#ebebeb" stroke-width="0.9"/>
<line x1="332.16" y1="565.50" x2="332.16" y2="693.30" stroke="#ebebeb" stroke-width="0.9"/>
<line x1="339.92" y1="565.50" x2="339.92" y2="693.30" stroke="#ebebeb" stroke-width="0.9"/>
<line x1="347.68" y1="565.50" x2="347.68" y2="693.30" stroke="#ebebeb" stroke-width="0.9"/>
<line x1="355.44" y1="565.50" x2="355.44" y2="693.30" stroke="#ebebeb" stroke-width="0.9"/>
<line x1="332.16" y1="654.08" x2="332.16" y2="660.47" stroke="#444" stroke-width="0.8"/>
<line x1="332.16" y1="664.69" x2="332.16" y2="671.76" stroke="#444" stroke-width="0.8"/>
<rect x="329.83" y="660.47" width="4.66" height="4.22" fill="#c0392b" stroke="#333" stroke-width="0.75"/>
<line x1="329.83" y1="662.51" x2="334.49" y2="662.51" stroke="#222" stroke-width="1.3"/>
<line x1="339.92" y1="646.87" x2="339.92" y2="653.60" stroke="#444" stroke-width="0.8"/>
<line x1="339.92" y1="660.47" x2="339.92" y2="668.02" stroke="#444" stroke-width="0.8"/>
<rect x="337.59" y="653.60" width="4.66" height="6.87" fill="#1f70b6" stroke="#333" stroke-width="0.75"/>
<line x1="337.59" y1="657.28" x2="342.25" y2="657.28" stroke="#222" stroke-width="1.3"/>
<line x1="347.68" y1="643.20" x2="347.68" y2="652.31" stroke="#444" stroke-width="0.8"/>
<line x1="347.68" y1="659.32" x2="347.68" y2="668.70" stroke="#444" stroke-width="0.8"/>
<rect x="345.35" y="652.31" width="4.66" height="7.00" fill="#e8962f" stroke="#333" stroke-width="0.75"/>
<line x1="345.35" y1="655.58" x2="350.01" y2="655.58" stroke="#222" stroke-width="1.3"/>
<line x1="355.44" y1="639.80" x2="355.44" y2="648.10" stroke="#444" stroke-width="0.8"/>
<line x1="355.44" y1="658.84" x2="355.44" y2="665.64" stroke="#444" stroke-width="0.8"/>
<rect x="353.11" y="648.10" width="4.66" height="10.74" fill="#2a9255" stroke="#333" stroke-width="0.75"/>
<line x1="353.11" y1="653.60" x2="357.77" y2="653.60" stroke="#222" stroke-width="1.3"/>
<path d="M332.16,574.50 L332.16,572.40 L355.44,572.40 L355.44,574.50" fill="none" stroke="#333" stroke-width="0.8"/>
<text x="343.80" y="573.60" font-size="8.4" font-weight="bold" text-anchor="middle" fill="#222">****</text>
<path d="M332.16,582.92 L332.16,580.82 L347.68,580.82 L347.68,582.92" fill="none" stroke="#333" stroke-width="0.8"/>
<text x="339.92" y="582.02" font-size="8.4" font-weight="bold" text-anchor="middle" fill="#222">****</text>
<path d="M347.68,591.34 L347.68,589.24 L355.44,589.24 L355.44,591.34" fill="none" stroke="#333" stroke-width="0.8"/>
<text x="351.56" y="590.44" font-size="8.4" font-weight="bold" text-anchor="middle" fill="#222">**</text>
<path d="M332.16,599.76 L332.16,597.66 L339.92,597.66 L339.92,599.76" fill="none" stroke="#333" stroke-width="0.8"/>
<text x="336.04" y="598.86" font-size="8.4" font-weight="bold" text-anchor="middle" fill="#222">****</text>
<path d="M339.92,608.18 L339.92,606.08 L355.44,606.08 L355.44,608.18" fill="none" stroke="#333" stroke-width="0.8"/>
<text x="347.68" y="607.28" font-size="8.4" font-weight="bold" text-anchor="middle" fill="#222">****</text>
<rect x="327.50" y="565.50" width="32.60" height="127.80" fill="none" stroke="#555" stroke-width="0.9"/>
<rect x="327.50" y="553.40" width="32.60" height="12.10" fill="#d9d9d9" stroke="#333" stroke-width="1.5"/>
<text x="343.80" y="562.85" font-size="7.0" text-anchor="middle" fill="#1a1a1a">TK1</text>
<line x1="332.16" y1="693.30" x2="332.16" y2="694.90" stroke="#555" stroke-width="0.8"/>
<text x="0" y="0" font-size="7.3" fill="#222" text-anchor="end" transform="translate(334.36,697.90) rotate(-45)">Ctrl</text>
<line x1="339.92" y1="693.30" x2="339.92" y2="694.90" stroke="#555" stroke-width="0.8"/>
<text x="0" y="0" font-size="7.3" fill="#222" text-anchor="end" transform="translate(342.12,697.90) rotate(-45)">T1</text>
<line x1="347.68" y1="693.30" x2="347.68" y2="694.90" stroke="#555" stroke-width="0.8"/>
<text x="0" y="0" font-size="7.3" fill="#222" text-anchor="end" transform="translate(349.88,697.90) rotate(-45)">T2</text>
<line x1="355.44" y1="693.30" x2="355.44" y2="694.90" stroke="#555" stroke-width="0.8"/>
<text x="0" y="0" font-size="7.3" fill="#222" text-anchor="end" transform="translate(357.64,697.90) rotate(-45)">T3</text>
<rect x="368.50" y="565.50" width="32.60" height="127.80" fill="white" stroke="none" stroke-width="1"/>
<line x1="368.50" y1="670.40" x2="401.10" y2="670.40" stroke="#f2f2f2" stroke-width="0.5"/>
<line x1="368.50" y1="636.40" x2="401.10" y2="636.40" stroke="#f2f2f2" stroke-width="0.5"/>
<line x1="368.50" y1="602.40" x2="401.10" y2="602.40" stroke="#f2f2f2" stroke-width="0.5"/>
<line x1="368.50" y1="568.40" x2="401.10" y2="568.40" stroke="#f2f2f2" stroke-width="0.5"/>
<line x1="368.50" y1="687.40" x2="401.10" y2="687.40" stroke="#ebebeb" stroke-width="0.9"/>
<line x1="368.50" y1="653.40" x2="401.10" y2="653.40" stroke="#ebebeb" stroke-width="0.9"/>
<line x1="368.50" y1="619.40" x2="401.10" y2="619.40" stroke="#ebebeb" stroke-width="0.9"/>
<line x1="368.50" y1="585.40" x2="401.10" y2="585.40" stroke="#ebebeb" stroke-width="0.9"/>
<line x1="373.16" y1="565.50" x2="373.16" y2="693.30" stroke="#ebebeb" stroke-width="0.9"/>
<line x1="380.92" y1="565.50" x2="380.92" y2="693.30" stroke="#ebebeb" stroke-width="0.9"/>
<line x1="388.68" y1="565.50" x2="388.68" y2="693.30" stroke="#ebebeb" stroke-width="0.9"/>
<line x1="396.44" y1="565.50" x2="396.44" y2="693.30" stroke="#ebebeb" stroke-width="0.9"/>
<line x1="373.16" y1="649.32" x2="373.16" y2="652.72" stroke="#444" stroke-width="0.8"/>
<line x1="373.16" y1="657.48" x2="373.16" y2="659.52" stroke="#444" stroke-width="0.8"/>
<rect x="370.83" y="652.72" width="4.66" height="4.76" fill="#c0392b" stroke="#333" stroke-width="0.75"/>
<line x1="370.83" y1="654.76" x2="375.49" y2="654.76" stroke="#222" stroke-width="1.3"/>
<line x1="380.92" y1="645.92" x2="380.92" y2="650.00" stroke="#444" stroke-width="0.8"/>
<line x1="380.92" y1="654.76" x2="380.92" y2="660.47" stroke="#444" stroke-width="0.8"/>
<rect x="378.59" y="650.00" width="4.66" height="4.76" fill="#1f70b6" stroke="#333" stroke-width="0.75"/>
<line x1="378.59" y1="652.31" x2="383.25" y2="652.31" stroke="#222" stroke-width="1.3"/>
<line x1="388.68" y1="645.24" x2="388.68" y2="650.00" stroke="#444" stroke-width="0.8"/>
<line x1="388.68" y1="653.40" x2="388.68" y2="658.84" stroke="#444" stroke-width="0.8"/>
<rect x="386.35" y="650.00" width="4.66" height="3.40" fill="#e8962f" stroke="#333" stroke-width="0.75"/>
<line x1="386.35" y1="651.84" x2="391.01" y2="651.84" stroke="#222" stroke-width="1.3"/>
<line x1="396.44" y1="645.92" x2="396.44" y2="649.66" stroke="#444" stroke-width="0.8"/>
<line x1="396.44" y1="653.40" x2="396.44" y2="657.48" stroke="#444" stroke-width="0.8"/>
<rect x="394.11" y="649.66" width="4.66" height="3.74" fill="#2a9255" stroke="#333" stroke-width="0.75"/>
<line x1="394.11" y1="651.36" x2="398.77" y2="651.36" stroke="#222" stroke-width="1.3"/>
<path d="M373.16,574.50 L373.16,572.40 L396.44,572.40 L396.44,574.50" fill="none" stroke="#333" stroke-width="0.8"/>
<text x="384.80" y="573.60" font-size="8.4" font-weight="bold" text-anchor="middle" fill="#222">****</text>
<path d="M373.16,582.92 L373.16,580.82 L388.68,580.82 L388.68,582.92" fill="none" stroke="#333" stroke-width="0.8"/>
<text x="380.92" y="582.02" font-size="8.4" font-weight="bold" text-anchor="middle" fill="#222">****</text>
<path d="M373.16,599.76 L373.16,597.66 L380.92,597.66 L380.92,599.76" fill="none" stroke="#333" stroke-width="0.8"/>
<text x="377.04" y="598.86" font-size="8.4" font-weight="bold" text-anchor="middle" fill="#222">****</text>
<path d="M380.92,608.18 L380.92,606.08 L396.44,606.08 L396.44,608.18" fill="none" stroke="#333" stroke-width="0.8"/>
<text x="388.68" y="607.28" font-size="8.4" font-weight="bold" text-anchor="middle" fill="#222">**</text>
<rect x="368.50" y="565.50" width="32.60" height="127.80" fill="none" stroke="#555" stroke-width="0.9"/>
<rect x="368.50" y="553.40" width="32.60" height="12.10" fill="#d9d9d9" stroke="#333" stroke-width="1.5"/>
<text x="384.80" y="562.85" font-size="7.0" text-anchor="middle" fill="#1a1a1a">UCKL1</text>
<line x1="373.16" y1="693.30" x2="373.16" y2="694.90" stroke="#555" stroke-width="0.8"/>
<text x="0" y="0" font-size="7.3" fill="#222" text-anchor="end" transform="translate(375.36,697.90) rotate(-45)">Ctrl</text>
<line x1="380.92" y1="693.30" x2="380.92" y2="694.90" stroke="#555" stroke-width="0.8"/>
<text x="0" y="0" font-size="7.3" fill="#222" text-anchor="end" transform="translate(383.12,697.90) rotate(-45)">T1</text>
<line x1="388.68" y1="693.30" x2="388.68" y2="694.90" stroke="#555" stroke-width="0.8"/>
<text x="0" y="0" font-size="7.3" fill="#222" text-anchor="end" transform="translate(390.88,697.90) rotate(-45)">T2</text>
<line x1="396.44" y1="693.30" x2="396.44" y2="694.90" stroke="#555" stroke-width="0.8"/>
<text x="0" y="0" font-size="7.3" fill="#222" text-anchor="end" transform="translate(398.64,697.90) rotate(-45)">T3</text>
<rect x="408.60" y="565.50" width="32.60" height="127.80" fill="white" stroke="none" stroke-width="1"/>
<line x1="408.60" y1="670.40" x2="441.20" y2="670.40" stroke="#f2f2f2" stroke-width="0.5"/>
<line x1="408.60" y1="636.40" x2="441.20" y2="636.40" stroke="#f2f2f2" stroke-width="0.5"/>
<line x1="408.60" y1="602.40" x2="441.20" y2="602.40" stroke="#f2f2f2" stroke-width="0.5"/>
<line x1="408.60" y1="568.40" x2="441.20" y2="568.40" stroke="#f2f2f2" stroke-width="0.5"/>
<line x1="408.60" y1="687.40" x2="441.20" y2="687.40" stroke="#ebebeb" stroke-width="0.9"/>
<line x1="408.60" y1="653.40" x2="441.20" y2="653.40" stroke="#ebebeb" stroke-width="0.9"/>
<line x1="408.60" y1="619.40" x2="441.20" y2="619.40" stroke="#ebebeb" stroke-width="0.9"/>
<line x1="408.60" y1="585.40" x2="441.20" y2="585.40" stroke="#ebebeb" stroke-width="0.9"/>
<line x1="413.26" y1="565.50" x2="413.26" y2="693.30" stroke="#ebebeb" stroke-width="0.9"/>
<line x1="421.02" y1="565.50" x2="421.02" y2="693.30" stroke="#ebebeb" stroke-width="0.9"/>
<line x1="428.78" y1="565.50" x2="428.78" y2="693.30" stroke="#ebebeb" stroke-width="0.9"/>
<line x1="436.54" y1="565.50" x2="436.54" y2="693.30" stroke="#ebebeb" stroke-width="0.9"/>
<line x1="413.26" y1="656.80" x2="413.26" y2="659.86" stroke="#444" stroke-width="0.8"/>
<line x1="413.26" y1="664.28" x2="413.26" y2="670.40" stroke="#444" stroke-width="0.8"/>
<rect x="410.93" y="659.86" width="4.66" height="4.42" fill="#c0392b" stroke="#333" stroke-width="0.75"/>
<line x1="410.93" y1="661.76" x2="415.59" y2="661.76" stroke="#222" stroke-width="1.3"/>
<line x1="421.02" y1="656.12" x2="421.02" y2="658.84" stroke="#444" stroke-width="0.8"/>
<line x1="421.02" y1="662.92" x2="421.02" y2="667.00" stroke="#444" stroke-width="0.8"/>
<rect x="418.69" y="658.84" width="4.66" height="4.08" fill="#1f70b6" stroke="#333" stroke-width="0.75"/>
<line x1="418.69" y1="660.47" x2="423.35" y2="660.47" stroke="#222" stroke-width="1.3"/>
<line x1="428.78" y1="654.76" x2="428.78" y2="658.84" stroke="#444" stroke-width="0.8"/>
<line x1="428.78" y1="662.92" x2="428.78" y2="667.00" stroke="#444" stroke-width="0.8"/>
<rect x="426.45" y="658.84" width="4.66" height="4.08" fill="#e8962f" stroke="#333" stroke-width="0.75"/>
<line x1="426.45" y1="660.47" x2="431.11" y2="660.47" stroke="#222" stroke-width="1.3"/>
<line x1="436.54" y1="654.76" x2="436.54" y2="658.50" stroke="#444" stroke-width="0.8"/>
<line x1="436.54" y1="662.24" x2="436.54" y2="664.96" stroke="#444" stroke-width="0.8"/>
<rect x="434.21" y="658.50" width="4.66" height="3.74" fill="#2a9255" stroke="#333" stroke-width="0.75"/>
<line x1="434.21" y1="660.20" x2="438.87" y2="660.20" stroke="#222" stroke-width="1.3"/>
<path d="M413.26,574.50 L413.26,572.40 L436.54,572.40 L436.54,574.50" fill="none" stroke="#333" stroke-width="0.8"/>
<text x="424.90" y="573.60" font-size="8.4" font-weight="bold" text-anchor="middle" fill="#222">****</text>
<path d="M413.26,582.92 L413.26,580.82 L428.78,580.82 L428.78,582.92" fill="none" stroke="#333" stroke-width="0.8"/>
<text x="421.02" y="582.02" font-size="8.4" font-weight="bold" text-anchor="middle" fill="#222">**</text>
<path d="M421.02,608.18 L421.02,606.08 L436.54,606.08 L436.54,608.18" fill="none" stroke="#333" stroke-width="0.8"/>
<text x="428.78" y="607.28" font-size="8.4" font-weight="bold" text-anchor="middle" fill="#222">***</text>
<rect x="408.60" y="565.50" width="32.60" height="127.80" fill="none" stroke="#555" stroke-width="0.9"/>
<rect x="408.60" y="553.40" width="32.60" height="12.10" fill="#d9d9d9" stroke="#333" stroke-width="1.5"/>
<text x="424.90" y="562.85" font-size="7.0" text-anchor="middle" fill="#1a1a1a">UMPS</text>
<line x1="413.26" y1="693.30" x2="413.26" y2="694.90" stroke="#555" stroke-width="0.8"/>
<text x="0" y="0" font-size="7.3" fill="#222" text-anchor="end" transform="translate(415.46,697.90) rotate(-45)">Ctrl</text>
<line x1="421.02" y1="693.30" x2="421.02" y2="694.90" stroke="#555" stroke-width="0.8"/>
<text x="0" y="0" font-size="7.3" fill="#222" text-anchor="end" transform="translate(423.22,697.90) rotate(-45)">T1</text>
<line x1="428.78" y1="693.30" x2="428.78" y2="694.90" stroke="#555" stroke-width="0.8"/>
<text x="0" y="0" font-size="7.3" fill="#222" text-anchor="end" transform="translate(430.98,697.90) rotate(-45)">T2</text>
<line x1="436.54" y1="693.30" x2="436.54" y2="694.90" stroke="#555" stroke-width="0.8"/>
<text x="0" y="0" font-size="7.3" fill="#222" text-anchor="end" transform="translate(438.74,697.90) rotate(-45)">T3</text>
<rect x="449.30" y="565.50" width="32.60" height="127.80" fill="white" stroke="none" stroke-width="1"/>
<line x1="449.30" y1="670.40" x2="481.90" y2="670.40" stroke="#f2f2f2" stroke-width="0.5"/>
<line x1="449.30" y1="636.40" x2="481.90" y2="636.40" stroke="#f2f2f2" stroke-width="0.5"/>
<line x1="449.30" y1="602.40" x2="481.90" y2="602.40" stroke="#f2f2f2" stroke-width="0.5"/>
<line x1="449.30" y1="568.40" x2="481.90" y2="568.40" stroke="#f2f2f2" stroke-width="0.5"/>
<line x1="449.30" y1="687.40" x2="481.90" y2="687.40" stroke="#ebebeb" stroke-width="0.9"/>
<line x1="449.30" y1="653.40" x2="481.90" y2="653.40" stroke="#ebebeb" stroke-width="0.9"/>
<line x1="449.30" y1="619.40" x2="481.90" y2="619.40" stroke="#ebebeb" stroke-width="0.9"/>
<line x1="449.30" y1="585.40" x2="481.90" y2="585.40" stroke="#ebebeb" stroke-width="0.9"/>
<line x1="453.96" y1="565.50" x2="453.96" y2="693.30" stroke="#ebebeb" stroke-width="0.9"/>
<line x1="461.72" y1="565.50" x2="461.72" y2="693.30" stroke="#ebebeb" stroke-width="0.9"/>
<line x1="469.48" y1="565.50" x2="469.48" y2="693.30" stroke="#ebebeb" stroke-width="0.9"/>
<line x1="477.24" y1="565.50" x2="477.24" y2="693.30" stroke="#ebebeb" stroke-width="0.9"/>
<line x1="453.96" y1="669.18" x2="453.96" y2="676.18" stroke="#444" stroke-width="0.8"/>
<line x1="453.96" y1="682.37" x2="453.96" y2="685.36" stroke="#444" stroke-width="0.8"/>
<rect x="451.63" y="676.18" width="4.66" height="6.19" fill="#c0392b" stroke="#333" stroke-width="0.75"/>
<line x1="451.63" y1="679.10" x2="456.29" y2="679.10" stroke="#222" stroke-width="1.3"/>
<line x1="461.72" y1="676.18" x2="461.72" y2="681.62" stroke="#444" stroke-width="0.8"/>
<line x1="461.72" y1="685.36" x2="461.72" y2="686.58" stroke="#444" stroke-width="0.8"/>
<rect x="459.39" y="681.62" width="4.66" height="3.74" fill="#1f70b6" stroke="#333" stroke-width="0.75"/>
<line x1="459.39" y1="683.32" x2="464.05" y2="683.32" stroke="#222" stroke-width="1.3"/>
<line x1="469.48" y1="680.60" x2="469.48" y2="682.84" stroke="#444" stroke-width="0.8"/>
<line x1="469.48" y1="685.36" x2="469.48" y2="686.58" stroke="#444" stroke-width="0.8"/>
<rect x="467.15" y="682.84" width="4.66" height="2.52" fill="#e8962f" stroke="#333" stroke-width="0.75"/>
<line x1="467.15" y1="684.00" x2="471.81" y2="684.00" stroke="#222" stroke-width="1.3"/>
<line x1="477.24" y1="680.60" x2="477.24" y2="683.32" stroke="#444" stroke-width="0.8"/>
<line x1="477.24" y1="686.04" x2="477.24" y2="686.72" stroke="#444" stroke-width="0.8"/>
<rect x="474.91" y="683.32" width="4.66" height="2.72" fill="#2a9255" stroke="#333" stroke-width="0.75"/>
<line x1="474.91" y1="684.41" x2="479.57" y2="684.41" stroke="#222" stroke-width="1.3"/>
<path d="M453.96,574.50 L453.96,572.40 L477.24,572.40 L477.24,574.50" fill="none" stroke="#333" stroke-width="0.8"/>
<text x="465.60" y="573.60" font-size="8.4" font-weight="bold" text-anchor="middle" fill="#222">****</text>
<path d="M453.96,582.92 L453.96,580.82 L469.48,580.82 L469.48,582.92" fill="none" stroke="#333" stroke-width="0.8"/>
<text x="461.72" y="582.02" font-size="8.4" font-weight="bold" text-anchor="middle" fill="#222">****</text>
<path d="M453.96,599.76 L453.96,597.66 L461.72,597.66 L461.72,599.76" fill="none" stroke="#333" stroke-width="0.8"/>
<text x="457.84" y="598.86" font-size="8.4" font-weight="bold" text-anchor="middle" fill="#222">****</text>
<path d="M461.72,608.18 L461.72,606.08 L477.24,606.08 L477.24,608.18" fill="none" stroke="#333" stroke-width="0.8"/>
<text x="469.48" y="607.28" font-size="8.4" font-weight="bold" text-anchor="middle" fill="#222">**</text>
<path d="M461.72,616.60 L461.72,614.50 L469.48,614.50 L469.48,616.60" fill="none" stroke="#333" stroke-width="0.8"/>
<text x="465.60" y="615.70" font-size="8.4" font-weight="bold" text-anchor="middle" fill="#222">*</text>
<rect x="449.30" y="565.50" width="32.60" height="127.80" fill="none" stroke="#555" stroke-width="0.9"/>
<rect x="449.30" y="553.40" width="32.60" height="12.10" fill="#d9d9d9" stroke="#333" stroke-width="1.5"/>
<text x="465.60" y="562.85" font-size="7.0" text-anchor="middle" fill="#1a1a1a">DGKG</text>
<line x1="453.96" y1="693.30" x2="453.96" y2="694.90" stroke="#555" stroke-width="0.8"/>
<text x="0" y="0" font-size="7.3" fill="#222" text-anchor="end" transform="translate(456.16,697.90) rotate(-45)">Ctrl</text>
<line x1="461.72" y1="693.30" x2="461.72" y2="694.90" stroke="#555" stroke-width="0.8"/>
<text x="0" y="0" font-size="7.3" fill="#222" text-anchor="end" transform="translate(463.92,697.90) rotate(-45)">T1</text>
<line x1="469.48" y1="693.30" x2="469.48" y2="694.90" stroke="#555" stroke-width="0.8"/>
<text x="0" y="0" font-size="7.3" fill="#222" text-anchor="end" transform="translate(471.68,697.90) rotate(-45)">T2</text>
<line x1="477.24" y1="693.30" x2="477.24" y2="694.90" stroke="#555" stroke-width="0.8"/>
<text x="0" y="0" font-size="7.3" fill="#222" text-anchor="end" transform="translate(479.44,697.90) rotate(-45)">T3</text>
<rect x="489.40" y="565.50" width="32.60" height="127.80" fill="white" stroke="none" stroke-width="1"/>
<line x1="489.40" y1="670.40" x2="522.00" y2="670.40" stroke="#f2f2f2" stroke-width="0.5"/>
<line x1="489.40" y1="636.40" x2="522.00" y2="636.40" stroke="#f2f2f2" stroke-width="0.5"/>
<line x1="489.40" y1="602.40" x2="522.00" y2="602.40" stroke="#f2f2f2" stroke-width="0.5"/>
<line x1="489.40" y1="568.40" x2="522.00" y2="568.40" stroke="#f2f2f2" stroke-width="0.5"/>
<line x1="489.40" y1="687.40" x2="522.00" y2="687.40" stroke="#ebebeb" stroke-width="0.9"/>
<line x1="489.40" y1="653.40" x2="522.00" y2="653.40" stroke="#ebebeb" stroke-width="0.9"/>
<line x1="489.40" y1="619.40" x2="522.00" y2="619.40" stroke="#ebebeb" stroke-width="0.9"/>
<line x1="489.40" y1="585.40" x2="522.00" y2="585.40" stroke="#ebebeb" stroke-width="0.9"/>
<line x1="494.06" y1="565.50" x2="494.06" y2="693.30" stroke="#ebebeb" stroke-width="0.9"/>
<line x1="501.82" y1="565.50" x2="501.82" y2="693.30" stroke="#ebebeb" stroke-width="0.9"/>
<line x1="509.58" y1="565.50" x2="509.58" y2="693.30" stroke="#ebebeb" stroke-width="0.9"/>
<line x1="517.34" y1="565.50" x2="517.34" y2="693.30" stroke="#ebebeb" stroke-width="0.9"/>
<line x1="494.06" y1="650.68" x2="494.06" y2="658.84" stroke="#444" stroke-width="0.8"/>
<line x1="494.06" y1="681.28" x2="494.06" y2="687.40" stroke="#444" stroke-width="0.8"/>
<rect x="491.73" y="658.84" width="4.66" height="22.44" fill="#c0392b" stroke="#333" stroke-width="0.75"/>
<line x1="491.73" y1="667.14" x2="496.39" y2="667.14" stroke="#222" stroke-width="1.3"/>
<line x1="501.82" y1="651.36" x2="501.82" y2="669.04" stroke="#444" stroke-width="0.8"/>
<line x1="501.82" y1="685.09" x2="501.82" y2="687.40" stroke="#444" stroke-width="0.8"/>
<rect x="499.49" y="669.04" width="4.66" height="16.05" fill="#1f70b6" stroke="#333" stroke-width="0.75"/>
<line x1="499.49" y1="677.61" x2="504.15" y2="677.61" stroke="#222" stroke-width="1.3"/>
<line x1="509.58" y1="652.04" x2="509.58" y2="672.44" stroke="#444" stroke-width="0.8"/>
<line x1="509.58" y1="686.31" x2="509.58" y2="687.40" stroke="#444" stroke-width="0.8"/>
<rect x="507.25" y="672.44" width="4.66" height="13.87" fill="#e8962f" stroke="#333" stroke-width="0.75"/>
<line x1="507.25" y1="681.28" x2="511.91" y2="681.28" stroke="#222" stroke-width="1.3"/>
<line x1="517.34" y1="655.44" x2="517.34" y2="674.48" stroke="#444" stroke-width="0.8"/>
<line x1="517.34" y1="687.40" x2="517.34" y2="687.40" stroke="#444" stroke-width="0.8"/>
<rect x="515.01" y="674.48" width="4.66" height="12.92" fill="#2a9255" stroke="#333" stroke-width="0.75"/>
<line x1="515.01" y1="684.20" x2="519.67" y2="684.20" stroke="#222" stroke-width="1.3"/>
<path d="M494.06,574.50 L494.06,572.40 L517.34,572.40 L517.34,574.50" fill="none" stroke="#333" stroke-width="0.8"/>
<text x="505.70" y="573.60" font-size="8.4" font-weight="bold" text-anchor="middle" fill="#222">****</text>
<path d="M494.06,582.92 L494.06,580.82 L509.58,580.82 L509.58,582.92" fill="none" stroke="#333" stroke-width="0.8"/>
<text x="501.82" y="582.02" font-size="8.4" font-weight="bold" text-anchor="middle" fill="#222">****</text>
<path d="M494.06,599.76 L494.06,597.66 L501.82,597.66 L501.82,599.76" fill="none" stroke="#333" stroke-width="0.8"/>
<text x="497.94" y="598.86" font-size="8.4" font-weight="bold" text-anchor="middle" fill="#222">****</text>
<path d="M501.82,608.18 L501.82,606.08 L517.34,606.08 L517.34,608.18" fill="none" stroke="#333" stroke-width="0.8"/>
<text x="509.58" y="607.28" font-size="8.4" font-weight="bold" text-anchor="middle" fill="#222">***</text>
<rect x="489.40" y="565.50" width="32.60" height="127.80" fill="none" stroke="#555" stroke-width="0.9"/>
<rect x="489.40" y="553.40" width="32.60" height="12.10" fill="#d9d9d9" stroke="#333" stroke-width="1.5"/>
<text x="505.70" y="562.85" font-size="7.0" text-anchor="middle" fill="#1a1a1a">DPYS</text>
<line x1="494.06" y1="693.30" x2="494.06" y2="694.90" stroke="#555" stroke-width="0.8"/>
<text x="0" y="0" font-size="7.3" fill="#222" text-anchor="end" transform="translate(496.26,697.90) rotate(-45)">Ctrl</text>
<line x1="501.82" y1="693.30" x2="501.82" y2="694.90" stroke="#555" stroke-width="0.8"/>
<text x="0" y="0" font-size="7.3" fill="#222" text-anchor="end" transform="translate(504.02,697.90) rotate(-45)">T1</text>
<line x1="509.58" y1="693.30" x2="509.58" y2="694.90" stroke="#555" stroke-width="0.8"/>
<text x="0" y="0" font-size="7.3" fill="#222" text-anchor="end" transform="translate(511.78,697.90) rotate(-45)">T2</text>
<line x1="517.34" y1="693.30" x2="517.34" y2="694.90" stroke="#555" stroke-width="0.8"/>
<text x="0" y="0" font-size="7.3" fill="#222" text-anchor="end" transform="translate(519.54,697.90) rotate(-45)">T3</text>
<rect x="529.40" y="565.50" width="32.60" height="127.80" fill="white" stroke="none" stroke-width="1"/>
<line x1="529.40" y1="670.40" x2="562.00" y2="670.40" stroke="#f2f2f2" stroke-width="0.5"/>
<line x1="529.40" y1="636.40" x2="562.00" y2="636.40" stroke="#f2f2f2" stroke-width="0.5"/>
<line x1="529.40" y1="602.40" x2="562.00" y2="602.40" stroke="#f2f2f2" stroke-width="0.5"/>
<line x1="529.40" y1="568.40" x2="562.00" y2="568.40" stroke="#f2f2f2" stroke-width="0.5"/>
<line x1="529.40" y1="687.40" x2="562.00" y2="687.40" stroke="#ebebeb" stroke-width="0.9"/>
<line x1="529.40" y1="653.40" x2="562.00" y2="653.40" stroke="#ebebeb" stroke-width="0.9"/>
<line x1="529.40" y1="619.40" x2="562.00" y2="619.40" stroke="#ebebeb" stroke-width="0.9"/>
<line x1="529.40" y1="585.40" x2="562.00" y2="585.40" stroke="#ebebeb" stroke-width="0.9"/>
<line x1="534.06" y1="565.50" x2="534.06" y2="693.30" stroke="#ebebeb" stroke-width="0.9"/>
<line x1="541.82" y1="565.50" x2="541.82" y2="693.30" stroke="#ebebeb" stroke-width="0.9"/>
<line x1="549.58" y1="565.50" x2="549.58" y2="693.30" stroke="#ebebeb" stroke-width="0.9"/>
<line x1="557.34" y1="565.50" x2="557.34" y2="693.30" stroke="#ebebeb" stroke-width="0.9"/>
<line x1="534.06" y1="666.32" x2="534.06" y2="670.40" stroke="#444" stroke-width="0.8"/>
<line x1="534.06" y1="679.92" x2="534.06" y2="685.70" stroke="#444" stroke-width="0.8"/>
<rect x="531.73" y="670.40" width="4.66" height="9.52" fill="#c0392b" stroke="#333" stroke-width="0.75"/>
<line x1="531.73" y1="675.16" x2="536.39" y2="675.16" stroke="#222" stroke-width="1.3"/>
<line x1="541.82" y1="673.80" x2="541.82" y2="678.22" stroke="#444" stroke-width="0.8"/>
<line x1="541.82" y1="684.20" x2="541.82" y2="686.31" stroke="#444" stroke-width="0.8"/>
<rect x="539.49" y="678.22" width="4.66" height="5.98" fill="#1f70b6" stroke="#333" stroke-width="0.75"/>
<line x1="539.49" y1="681.28" x2="544.15" y2="681.28" stroke="#222" stroke-width="1.3"/>
<line x1="549.58" y1="672.44" x2="549.58" y2="680.26" stroke="#444" stroke-width="0.8"/>
<line x1="549.58" y1="685.70" x2="549.58" y2="687.40" stroke="#444" stroke-width="0.8"/>
<rect x="547.25" y="680.26" width="4.66" height="5.44" fill="#e8962f" stroke="#333" stroke-width="0.75"/>
<line x1="547.25" y1="682.78" x2="551.91" y2="682.78" stroke="#222" stroke-width="1.3"/>
<line x1="557.34" y1="674.48" x2="557.34" y2="681.28" stroke="#444" stroke-width="0.8"/>
<line x1="557.34" y1="686.72" x2="557.34" y2="687.40" stroke="#444" stroke-width="0.8"/>
<rect x="555.01" y="681.28" width="4.66" height="5.44" fill="#2a9255" stroke="#333" stroke-width="0.75"/>
<line x1="555.01" y1="683.66" x2="559.67" y2="683.66" stroke="#222" stroke-width="1.3"/>
<path d="M534.06,574.50 L534.06,572.40 L557.34,572.40 L557.34,574.50" fill="none" stroke="#333" stroke-width="0.8"/>
<text x="545.70" y="573.60" font-size="8.4" font-weight="bold" text-anchor="middle" fill="#222">****</text>
<path d="M534.06,582.92 L534.06,580.82 L549.58,580.82 L549.58,582.92" fill="none" stroke="#333" stroke-width="0.8"/>
<text x="541.82" y="582.02" font-size="8.4" font-weight="bold" text-anchor="middle" fill="#222">****</text>
<path d="M549.58,591.34 L549.58,589.24 L557.34,589.24 L557.34,591.34" fill="none" stroke="#333" stroke-width="0.8"/>
<text x="553.46" y="590.44" font-size="8.4" font-weight="bold" text-anchor="middle" fill="#222">*</text>
<path d="M534.06,599.76 L534.06,597.66 L541.82,597.66 L541.82,599.76" fill="none" stroke="#333" stroke-width="0.8"/>
<text x="537.94" y="598.86" font-size="8.4" font-weight="bold" text-anchor="middle" fill="#222">****</text>
<path d="M541.82,608.18 L541.82,606.08 L557.34,606.08 L557.34,608.18" fill="none" stroke="#333" stroke-width="0.8"/>
<text x="549.58" y="607.28" font-size="8.4" font-weight="bold" text-anchor="middle" fill="#222">****</text>
<path d="M541.82,616.60 L541.82,614.50 L549.58,614.50 L549.58,616.60" fill="none" stroke="#333" stroke-width="0.8"/>
<text x="545.70" y="615.70" font-size="8.4" font-weight="bold" text-anchor="middle" fill="#222">**</text>
<rect x="529.40" y="565.50" width="32.60" height="127.80" fill="none" stroke="#555" stroke-width="0.9"/>
<rect x="529.40" y="553.40" width="32.60" height="12.10" fill="#d9d9d9" stroke="#333" stroke-width="1.5"/>
<text x="545.70" y="562.85" font-size="7.0" text-anchor="middle" fill="#1a1a1a">PLA2G2C</text>
<line x1="534.06" y1="693.30" x2="534.06" y2="694.90" stroke="#555" stroke-width="0.8"/>
<text x="0" y="0" font-size="7.3" fill="#222" text-anchor="end" transform="translate(536.26,697.90) rotate(-45)">Ctrl</text>
<line x1="541.82" y1="693.30" x2="541.82" y2="694.90" stroke="#555" stroke-width="0.8"/>
<text x="0" y="0" font-size="7.3" fill="#222" text-anchor="end" transform="translate(544.02,697.90) rotate(-45)">T1</text>
<line x1="549.58" y1="693.30" x2="549.58" y2="694.90" stroke="#555" stroke-width="0.8"/>
<text x="0" y="0" font-size="7.3" fill="#222" text-anchor="end" transform="translate(551.78,697.90) rotate(-45)">T2</text>
<line x1="557.34" y1="693.30" x2="557.34" y2="694.90" stroke="#555" stroke-width="0.8"/>
<text x="0" y="0" font-size="7.3" fill="#222" text-anchor="end" transform="translate(559.54,697.90) rotate(-45)">T3</text>
<rect x="569.50" y="565.50" width="32.60" height="127.80" fill="white" stroke="none" stroke-width="1"/>
<line x1="569.50" y1="670.40" x2="602.10" y2="670.40" stroke="#f2f2f2" stroke-width="0.5"/>
<line x1="569.50" y1="636.40" x2="602.10" y2="636.40" stroke="#f2f2f2" stroke-width="0.5"/>
<line x1="569.50" y1="602.40" x2="602.10" y2="602.40" stroke="#f2f2f2" stroke-width="0.5"/>
<line x1="569.50" y1="568.40" x2="602.10" y2="568.40" stroke="#f2f2f2" stroke-width="0.5"/>
<line x1="569.50" y1="687.40" x2="602.10" y2="687.40" stroke="#ebebeb" stroke-width="0.9"/>
<line x1="569.50" y1="653.40" x2="602.10" y2="653.40" stroke="#ebebeb" stroke-width="0.9"/>
<line x1="569.50" y1="619.40" x2="602.10" y2="619.40" stroke="#ebebeb" stroke-width="0.9"/>
<line x1="569.50" y1="585.40" x2="602.10" y2="585.40" stroke="#ebebeb" stroke-width="0.9"/>
<line x1="574.16" y1="565.50" x2="574.16" y2="693.30" stroke="#ebebeb" stroke-width="0.9"/>
<line x1="581.92" y1="565.50" x2="581.92" y2="693.30" stroke="#ebebeb" stroke-width="0.9"/>
<line x1="589.68" y1="565.50" x2="589.68" y2="693.30" stroke="#ebebeb" stroke-width="0.9"/>
<line x1="597.44" y1="565.50" x2="597.44" y2="693.30" stroke="#ebebeb" stroke-width="0.9"/>
<line x1="574.16" y1="640.48" x2="574.16" y2="664.28" stroke="#444" stroke-width="0.8"/>
<line x1="574.16" y1="684.20" x2="574.16" y2="686.31" stroke="#444" stroke-width="0.8"/>
<rect x="571.83" y="664.28" width="4.66" height="19.92" fill="#c0392b" stroke="#333" stroke-width="0.75"/>
<line x1="571.83" y1="679.72" x2="576.49" y2="679.72" stroke="#222" stroke-width="1.3"/>
<line x1="581.92" y1="666.32" x2="581.92" y2="676.52" stroke="#444" stroke-width="0.8"/>
<line x1="581.92" y1="685.70" x2="581.92" y2="687.40" stroke="#444" stroke-width="0.8"/>
<rect x="579.59" y="676.52" width="4.66" height="9.18" fill="#1f70b6" stroke="#333" stroke-width="0.75"/>
<line x1="579.59" y1="681.28" x2="584.25" y2="681.28" stroke="#222" stroke-width="1.3"/>
<line x1="589.68" y1="667.00" x2="589.68" y2="677.20" stroke="#444" stroke-width="0.8"/>
<line x1="589.68" y1="685.36" x2="589.68" y2="687.40" stroke="#444" stroke-width="0.8"/>
<rect x="587.35" y="677.20" width="4.66" height="8.16" fill="#e8962f" stroke="#333" stroke-width="0.75"/>
<line x1="587.35" y1="681.28" x2="592.01" y2="681.28" stroke="#222" stroke-width="1.3"/>
<line x1="597.44" y1="664.28" x2="597.44" y2="675.84" stroke="#444" stroke-width="0.8"/>
<line x1="597.44" y1="685.36" x2="597.44" y2="687.40" stroke="#444" stroke-width="0.8"/>
<rect x="595.11" y="675.84" width="4.66" height="9.52" fill="#2a9255" stroke="#333" stroke-width="0.75"/>
<line x1="595.11" y1="680.60" x2="599.77" y2="680.60" stroke="#222" stroke-width="1.3"/>
<path d="M574.16,574.50 L574.16,572.40 L597.44,572.40 L597.44,574.50" fill="none" stroke="#333" stroke-width="0.8"/>
<text x="585.80" y="573.60" font-size="8.4" font-weight="bold" text-anchor="middle" fill="#222">**</text>
<path d="M574.16,582.92 L574.16,580.82 L589.68,580.82 L589.68,582.92" fill="none" stroke="#333" stroke-width="0.8"/>
<text x="581.92" y="582.02" font-size="8.4" font-weight="bold" text-anchor="middle" fill="#222">**</text>
<path d="M574.16,599.76 L574.16,597.66 L581.92,597.66 L581.92,599.76" fill="none" stroke="#333" stroke-width="0.8"/>
<text x="578.04" y="598.86" font-size="8.4" font-weight="bold" text-anchor="middle" fill="#222">**</text>
<rect x="569.50" y="565.50" width="32.60" height="127.80" fill="none" stroke="#555" stroke-width="0.9"/>
<rect x="569.50" y="553.40" width="32.60" height="12.10" fill="#d9d9d9" stroke="#333" stroke-width="1.5"/>
<text x="585.80" y="562.85" font-size="7.0" text-anchor="middle" fill="#1a1a1a">PLA2G4D</text>
<line x1="574.16" y1="693.30" x2="574.16" y2="694.90" stroke="#555" stroke-width="0.8"/>
<text x="0" y="0" font-size="7.3" fill="#222" text-anchor="end" transform="translate(576.36,697.90) rotate(-45)">Ctrl</text>
<line x1="581.92" y1="693.30" x2="581.92" y2="694.90" stroke="#555" stroke-width="0.8"/>
<text x="0" y="0" font-size="7.3" fill="#222" text-anchor="end" transform="translate(584.12,697.90) rotate(-45)">T1</text>
<line x1="589.68" y1="693.30" x2="589.68" y2="694.90" stroke="#555" stroke-width="0.8"/>
<text x="0" y="0" font-size="7.3" fill="#222" text-anchor="end" transform="translate(591.88,697.90) rotate(-45)">T2</text>
<line x1="597.44" y1="693.30" x2="597.44" y2="694.90" stroke="#555" stroke-width="0.8"/>
<text x="0" y="0" font-size="7.3" fill="#222" text-anchor="end" transform="translate(599.64,697.90) rotate(-45)">T3</text>
<rect x="609.50" y="565.50" width="32.60" height="127.80" fill="white" stroke="none" stroke-width="1"/>
<line x1="609.50" y1="670.40" x2="642.10" y2="670.40" stroke="#f2f2f2" stroke-width="0.5"/>
<line x1="609.50" y1="636.40" x2="642.10" y2="636.40" stroke="#f2f2f2" stroke-width="0.5"/>
<line x1="609.50" y1="602.40" x2="642.10" y2="602.40" stroke="#f2f2f2" stroke-width="0.5"/>
<line x1="609.50" y1="568.40" x2="642.10" y2="568.40" stroke="#f2f2f2" stroke-width="0.5"/>
<line x1="609.50" y1="687.40" x2="642.10" y2="687.40" stroke="#ebebeb" stroke-width="0.9"/>
<line x1="609.50" y1="653.40" x2="642.10" y2="653.40" stroke="#ebebeb" stroke-width="0.9"/>
<line x1="609.50" y1="619.40" x2="642.10" y2="619.40" stroke="#ebebeb" stroke-width="0.9"/>
<line x1="609.50" y1="585.40" x2="642.10" y2="585.40" stroke="#ebebeb" stroke-width="0.9"/>
<line x1="614.16" y1="565.50" x2="614.16" y2="693.30" stroke="#ebebeb" stroke-width="0.9"/>
<line x1="621.92" y1="565.50" x2="621.92" y2="693.30" stroke="#ebebeb" stroke-width="0.9"/>
<line x1="629.68" y1="565.50" x2="629.68" y2="693.30" stroke="#ebebeb" stroke-width="0.9"/>
<line x1="637.44" y1="565.50" x2="637.44" y2="693.30" stroke="#ebebeb" stroke-width="0.9"/>
<line x1="614.16" y1="649.32" x2="614.16" y2="658.16" stroke="#444" stroke-width="0.8"/>
<line x1="614.16" y1="665.64" x2="614.16" y2="673.12" stroke="#444" stroke-width="0.8"/>
<rect x="611.83" y="658.16" width="4.66" height="7.48" fill="#c0392b" stroke="#333" stroke-width="0.75"/>
<line x1="611.83" y1="661.70" x2="616.49" y2="661.70" stroke="#222" stroke-width="1.3"/>
<line x1="621.92" y1="654.08" x2="621.92" y2="660.20" stroke="#444" stroke-width="0.8"/>
<line x1="621.92" y1="667.00" x2="621.92" y2="673.80" stroke="#444" stroke-width="0.8"/>
<rect x="619.59" y="660.20" width="4.66" height="6.80" fill="#1f70b6" stroke="#333" stroke-width="0.75"/>
<line x1="619.59" y1="663.80" x2="624.25" y2="663.80" stroke="#222" stroke-width="1.3"/>
<line x1="629.68" y1="654.08" x2="629.68" y2="660.88" stroke="#444" stroke-width="0.8"/>
<line x1="629.68" y1="667.68" x2="629.68" y2="674.48" stroke="#444" stroke-width="0.8"/>
<rect x="627.35" y="660.88" width="4.66" height="6.80" fill="#e8962f" stroke="#333" stroke-width="0.75"/>
<line x1="627.35" y1="664.96" x2="632.01" y2="664.96" stroke="#222" stroke-width="1.3"/>
<line x1="637.44" y1="654.08" x2="637.44" y2="661.56" stroke="#444" stroke-width="0.8"/>
<line x1="637.44" y1="669.04" x2="637.44" y2="677.88" stroke="#444" stroke-width="0.8"/>
<rect x="635.11" y="661.56" width="4.66" height="7.48" fill="#2a9255" stroke="#333" stroke-width="0.75"/>
<line x1="635.11" y1="665.64" x2="639.77" y2="665.64" stroke="#222" stroke-width="1.3"/>
<path d="M614.16,574.50 L614.16,572.40 L637.44,572.40 L637.44,574.50" fill="none" stroke="#333" stroke-width="0.8"/>
<text x="625.80" y="573.60" font-size="8.4" font-weight="bold" text-anchor="middle" fill="#222">***</text>
<path d="M614.16,582.92 L614.16,580.82 L629.68,580.82 L629.68,582.92" fill="none" stroke="#333" stroke-width="0.8"/>
<text x="621.92" y="582.02" font-size="8.4" font-weight="bold" text-anchor="middle" fill="#222">***</text>
<path d="M614.16,599.76 L614.16,597.66 L621.92,597.66 L621.92,599.76" fill="none" stroke="#333" stroke-width="0.8"/>
<text x="618.04" y="598.86" font-size="8.4" font-weight="bold" text-anchor="middle" fill="#222">**</text>
<rect x="609.50" y="565.50" width="32.60" height="127.80" fill="none" stroke="#555" stroke-width="0.9"/>
<rect x="609.50" y="553.40" width="32.60" height="12.10" fill="#d9d9d9" stroke="#333" stroke-width="1.5"/>
<text x="625.80" y="562.85" font-size="7.0" text-anchor="middle" fill="#1a1a1a">PLA2G5</text>
<line x1="614.16" y1="693.30" x2="614.16" y2="694.90" stroke="#555" stroke-width="0.8"/>
<text x="0" y="0" font-size="7.3" fill="#222" text-anchor="end" transform="translate(616.36,697.90) rotate(-45)">Ctrl</text>
<line x1="621.92" y1="693.30" x2="621.92" y2="694.90" stroke="#555" stroke-width="0.8"/>
<text x="0" y="0" font-size="7.3" fill="#222" text-anchor="end" transform="translate(624.12,697.90) rotate(-45)">T1</text>
<line x1="629.68" y1="693.30" x2="629.68" y2="694.90" stroke="#555" stroke-width="0.8"/>
<text x="0" y="0" font-size="7.3" fill="#222" text-anchor="end" transform="translate(631.88,697.90) rotate(-45)">T2</text>
<line x1="637.44" y1="693.30" x2="637.44" y2="694.90" stroke="#555" stroke-width="0.8"/>
<text x="0" y="0" font-size="7.3" fill="#222" text-anchor="end" transform="translate(639.64,697.90) rotate(-45)">T3</text>
<rect x="649.80" y="565.50" width="32.60" height="127.80" fill="white" stroke="none" stroke-width="1"/>
<line x1="649.80" y1="670.40" x2="682.40" y2="670.40" stroke="#f2f2f2" stroke-width="0.5"/>
<line x1="649.80" y1="636.40" x2="682.40" y2="636.40" stroke="#f2f2f2" stroke-width="0.5"/>
<line x1="649.80" y1="602.40" x2="682.40" y2="602.40" stroke="#f2f2f2" stroke-width="0.5"/>
<line x1="649.80" y1="568.40" x2="682.40" y2="568.40" stroke="#f2f2f2" stroke-width="0.5"/>
<line x1="649.80" y1="687.40" x2="682.40" y2="687.40" stroke="#ebebeb" stroke-width="0.9"/>
<line x1="649.80" y1="653.40" x2="682.40" y2="653.40" stroke="#ebebeb" stroke-width="0.9"/>
<line x1="649.80" y1="619.40" x2="682.40" y2="619.40" stroke="#ebebeb" stroke-width="0.9"/>
<line x1="649.80" y1="585.40" x2="682.40" y2="585.40" stroke="#ebebeb" stroke-width="0.9"/>
<line x1="654.46" y1="565.50" x2="654.46" y2="693.30" stroke="#ebebeb" stroke-width="0.9"/>
<line x1="662.22" y1="565.50" x2="662.22" y2="693.30" stroke="#ebebeb" stroke-width="0.9"/>
<line x1="669.98" y1="565.50" x2="669.98" y2="693.30" stroke="#ebebeb" stroke-width="0.9"/>
<line x1="677.74" y1="565.50" x2="677.74" y2="693.30" stroke="#ebebeb" stroke-width="0.9"/>
<line x1="654.46" y1="629.60" x2="654.46" y2="637.08" stroke="#444" stroke-width="0.8"/>
<line x1="654.46" y1="650.68" x2="654.46" y2="667.00" stroke="#444" stroke-width="0.8"/>
<rect x="652.13" y="637.08" width="4.66" height="13.60" fill="#c0392b" stroke="#333" stroke-width="0.75"/>
<line x1="652.13" y1="642.32" x2="656.79" y2="642.32" stroke="#222" stroke-width="1.3"/>
<line x1="662.22" y1="628.24" x2="662.22" y2="640.82" stroke="#444" stroke-width="0.8"/>
<line x1="662.22" y1="657.48" x2="662.22" y2="678.22" stroke="#444" stroke-width="0.8"/>
<rect x="659.89" y="640.82" width="4.66" height="16.66" fill="#1f70b6" stroke="#333" stroke-width="0.75"/>
<line x1="659.89" y1="647.28" x2="664.55" y2="647.28" stroke="#222" stroke-width="1.3"/>
<line x1="669.98" y1="630.28" x2="669.98" y2="641.16" stroke="#444" stroke-width="0.8"/>
<line x1="669.98" y1="657.48" x2="669.98" y2="678.22" stroke="#444" stroke-width="0.8"/>
<rect x="667.65" y="641.16" width="4.66" height="16.32" fill="#e8962f" stroke="#333" stroke-width="0.75"/>
<line x1="667.65" y1="650.00" x2="672.31" y2="650.00" stroke="#222" stroke-width="1.3"/>
<line x1="677.74" y1="631.64" x2="677.74" y2="642.52" stroke="#444" stroke-width="0.8"/>
<line x1="677.74" y1="657.48" x2="677.74" y2="676.52" stroke="#444" stroke-width="0.8"/>
<rect x="675.41" y="642.52" width="4.66" height="14.96" fill="#2a9255" stroke="#333" stroke-width="0.75"/>
<line x1="675.41" y1="650.00" x2="680.07" y2="650.00" stroke="#222" stroke-width="1.3"/>
<path d="M654.46,574.50 L654.46,572.40 L677.74,572.40 L677.74,574.50" fill="none" stroke="#333" stroke-width="0.8"/>
<text x="666.10" y="573.60" font-size="8.4" font-weight="bold" text-anchor="middle" fill="#222">***</text>
<path d="M654.46,582.92 L654.46,580.82 L669.98,580.82 L669.98,582.92" fill="none" stroke="#333" stroke-width="0.8"/>
<text x="662.22" y="582.02" font-size="8.4" font-weight="bold" text-anchor="middle" fill="#222">***</text>
<path d="M654.46,599.76 L654.46,597.66 L662.22,597.66 L662.22,599.76" fill="none" stroke="#333" stroke-width="0.8"/>
<text x="658.34" y="598.86" font-size="8.4" font-weight="bold" text-anchor="middle" fill="#222">**</text>
<rect x="649.80" y="565.50" width="32.60" height="127.80" fill="none" stroke="#555" stroke-width="0.9"/>
<rect x="649.80" y="553.40" width="32.60" height="12.10" fill="#d9d9d9" stroke="#333" stroke-width="1.5"/>
<text x="666.10" y="562.85" font-size="7.0" text-anchor="middle" fill="#1a1a1a">SLC22A3</text>
<line x1="654.46" y1="693.30" x2="654.46" y2="694.90" stroke="#555" stroke-width="0.8"/>
<text x="0" y="0" font-size="7.3" fill="#222" text-anchor="end" transform="translate(656.66,697.90) rotate(-45)">Ctrl</text>
<line x1="662.22" y1="693.30" x2="662.22" y2="694.90" stroke="#555" stroke-width="0.8"/>
<text x="0" y="0" font-size="7.3" fill="#222" text-anchor="end" transform="translate(664.42,697.90) rotate(-45)">T1</text>
<line x1="669.98" y1="693.30" x2="669.98" y2="694.90" stroke="#555" stroke-width="0.8"/>
<text x="0" y="0" font-size="7.3" fill="#222" text-anchor="end" transform="translate(672.18,697.90) rotate(-45)">T2</text>
<line x1="677.74" y1="693.30" x2="677.74" y2="694.90" stroke="#555" stroke-width="0.8"/>
<text x="0" y="0" font-size="7.3" fill="#222" text-anchor="end" transform="translate(679.94,697.90) rotate(-45)">T3</text>
<line x1="323.50" y1="522.60" x2="327.50" y2="522.60" stroke="#8a8a8a" stroke-width="1.0"/>
<text x="322.10" y="525.60" font-size="8.4" text-anchor="end" fill="#333">0</text>
<line x1="323.50" y1="488.60" x2="327.50" y2="488.60" stroke="#8a8a8a" stroke-width="1.0"/>
<text x="322.10" y="491.60" font-size="8.4" text-anchor="end" fill="#333">5</text>
<line x1="323.50" y1="454.60" x2="327.50" y2="454.60" stroke="#8a8a8a" stroke-width="1.0"/>
<text x="322.10" y="457.60" font-size="8.4" text-anchor="end" fill="#333">10</text>
<line x1="323.50" y1="420.60" x2="327.50" y2="420.60" stroke="#8a8a8a" stroke-width="1.0"/>
<text x="322.10" y="423.60" font-size="8.4" text-anchor="end" fill="#333">15</text>
<line x1="323.50" y1="687.40" x2="327.50" y2="687.40" stroke="#8a8a8a" stroke-width="1.0"/>
<text x="322.10" y="690.40" font-size="8.4" text-anchor="end" fill="#333">0</text>
<line x1="323.50" y1="653.40" x2="327.50" y2="653.40" stroke="#8a8a8a" stroke-width="1.0"/>
<text x="322.10" y="656.40" font-size="8.4" text-anchor="end" fill="#333">5</text>
<line x1="323.50" y1="619.40" x2="327.50" y2="619.40" stroke="#8a8a8a" stroke-width="1.0"/>
<text x="322.10" y="622.40" font-size="8.4" text-anchor="end" fill="#333">10</text>
<line x1="323.50" y1="585.40" x2="327.50" y2="585.40" stroke="#8a8a8a" stroke-width="1.0"/>
<text x="322.10" y="588.40" font-size="8.4" text-anchor="end" fill="#333">15</text>
<text x="0" y="0" font-size="9.9" fill="#231f20" text-anchor="middle" transform="translate(308.10,465.00) rotate(-90)">Log<tspan dy="2.8">10</tspan><tspan dy="-2.8"> (Gene expression)</tspan></text>
<text x="0" y="0" font-size="9.9" fill="#231f20" text-anchor="middle" transform="translate(308.10,630.00) rotate(-90)">Log<tspan dy="2.8">10</tspan><tspan dy="-2.8"> (Gene expression)</tspan></text>
<text x="-1.00" y="723.40" font-size="16" font-weight="bold" fill="#231f20">g</text>
<rect x="27.50" y="749.40" width="32.60" height="128.90" fill="white" stroke="none" stroke-width="1"/>
<line x1="27.50" y1="850.15" x2="60.10" y2="850.15" stroke="#f2f2f2" stroke-width="0.5"/>
<line x1="27.50" y1="806.65" x2="60.10" y2="806.65" stroke="#f2f2f2" stroke-width="0.5"/>
<line x1="27.50" y1="763.15" x2="60.10" y2="763.15" stroke="#f2f2f2" stroke-width="0.5"/>
<line x1="27.50" y1="871.90" x2="60.10" y2="871.90" stroke="#ebebeb" stroke-width="0.9"/>
<line x1="27.50" y1="828.40" x2="60.10" y2="828.40" stroke="#ebebeb" stroke-width="0.9"/>
<line x1="27.50" y1="784.90" x2="60.10" y2="784.90" stroke="#ebebeb" stroke-width="0.9"/>
<line x1="33.61" y1="749.40" x2="33.61" y2="878.30" stroke="#ebebeb" stroke-width="0.9"/>
<line x1="43.80" y1="749.40" x2="43.80" y2="878.30" stroke="#ebebeb" stroke-width="0.9"/>
<line x1="53.99" y1="749.40" x2="53.99" y2="878.30" stroke="#ebebeb" stroke-width="0.9"/>
<line x1="33.61" y1="866.68" x2="33.61" y2="868.86" stroke="#444" stroke-width="0.8"/>
<line x1="33.61" y1="871.73" x2="33.61" y2="871.90" stroke="#444" stroke-width="0.8"/>
<rect x="30.56" y="868.86" width="6.11" height="2.87" fill="#c0392b" stroke="#333" stroke-width="0.75"/>
<line x1="30.56" y1="870.33" x2="36.67" y2="870.33" stroke="#222" stroke-width="1.3"/>
<line x1="43.80" y1="861.89" x2="43.80" y2="865.38" stroke="#444" stroke-width="0.8"/>
<line x1="43.80" y1="871.03" x2="43.80" y2="871.90" stroke="#444" stroke-width="0.8"/>
<rect x="40.74" y="865.38" width="6.11" height="5.65" fill="#1f70b6" stroke="#333" stroke-width="0.75"/>
<line x1="40.74" y1="868.25" x2="46.86" y2="868.25" stroke="#222" stroke-width="1.3"/>
<line x1="53.99" y1="861.46" x2="53.99" y2="864.50" stroke="#444" stroke-width="0.8"/>
<line x1="53.99" y1="869.29" x2="53.99" y2="871.47" stroke="#444" stroke-width="0.8"/>
<rect x="50.93" y="864.50" width="6.11" height="4.78" fill="#e8962f" stroke="#333" stroke-width="0.75"/>
<line x1="50.93" y1="867.55" x2="57.04" y2="867.55" stroke="#222" stroke-width="1.3"/>
<path d="M33.61,758.10 L33.61,755.50 L53.99,755.50 L53.99,758.10" fill="none" stroke="#333" stroke-width="0.8"/>
<text x="43.80" y="756.70" font-size="8.4" font-weight="bold" text-anchor="middle" fill="#222">****</text>
<path d="M33.61,769.20 L33.61,766.60 L43.80,766.60 L43.80,769.20" fill="none" stroke="#333" stroke-width="0.8"/>
<text x="38.71" y="767.80" font-size="8.4" font-weight="bold" text-anchor="middle" fill="#222">****</text>
<path d="M43.80,780.20 L43.80,777.60 L53.99,777.60 L53.99,780.20" fill="none" stroke="#333" stroke-width="0.8"/>
<text x="48.89" y="778.80" font-size="8.4" font-weight="bold" text-anchor="middle" fill="#222">***</text>
<rect x="27.50" y="749.40" width="32.60" height="128.90" fill="none" stroke="#555" stroke-width="0.9"/>
<rect x="27.50" y="726.80" width="32.60" height="22.60" fill="#d9d9d9" stroke="#333" stroke-width="1.5"/>
<text x="43.80" y="742.10" font-size="7.0" text-anchor="middle" fill="#1a1a1a">CHKB</text>
<line x1="33.61" y1="878.30" x2="33.61" y2="879.90" stroke="#555" stroke-width="0.8"/>
<text x="0" y="0" font-size="7.6" fill="#222" text-anchor="end" transform="translate(35.31,884.30) rotate(-45)">Ctrl</text>
<line x1="43.80" y1="878.30" x2="43.80" y2="879.90" stroke="#555" stroke-width="0.8"/>
<text x="0" y="0" font-size="7.6" fill="#222" text-anchor="end" transform="translate(45.50,884.30) rotate(-45)">N0</text>
<line x1="53.99" y1="878.30" x2="53.99" y2="879.90" stroke="#555" stroke-width="0.8"/>
<text x="0" y="0" font-size="7.6" fill="#222" text-anchor="end" transform="translate(55.69,884.30) rotate(-45)">N1</text>
<rect x="63.70" y="749.40" width="32.60" height="128.90" fill="white" stroke="none" stroke-width="1"/>
<line x1="63.70" y1="850.15" x2="96.30" y2="850.15" stroke="#f2f2f2" stroke-width="0.5"/>
<line x1="63.70" y1="806.65" x2="96.30" y2="806.65" stroke="#f2f2f2" stroke-width="0.5"/>
<line x1="63.70" y1="763.15" x2="96.30" y2="763.15" stroke="#f2f2f2" stroke-width="0.5"/>
<line x1="63.70" y1="871.90" x2="96.30" y2="871.90" stroke="#ebebeb" stroke-width="0.9"/>
<line x1="63.70" y1="828.40" x2="96.30" y2="828.40" stroke="#ebebeb" stroke-width="0.9"/>
<line x1="63.70" y1="784.90" x2="96.30" y2="784.90" stroke="#ebebeb" stroke-width="0.9"/>
<line x1="69.81" y1="749.40" x2="69.81" y2="878.30" stroke="#ebebeb" stroke-width="0.9"/>
<line x1="80.00" y1="749.40" x2="80.00" y2="878.30" stroke="#ebebeb" stroke-width="0.9"/>
<line x1="90.19" y1="749.40" x2="90.19" y2="878.30" stroke="#ebebeb" stroke-width="0.9"/>
<line x1="69.81" y1="832.75" x2="69.81" y2="836.23" stroke="#444" stroke-width="0.8"/>
<line x1="69.81" y1="842.32" x2="69.81" y2="846.67" stroke="#444" stroke-width="0.8"/>
<rect x="66.76" y="836.23" width="6.11" height="6.09" fill="#c0392b" stroke="#333" stroke-width="0.75"/>
<line x1="66.76" y1="839.71" x2="72.87" y2="839.71" stroke="#222" stroke-width="1.3"/>
<line x1="80.00" y1="827.10" x2="80.00" y2="833.62" stroke="#444" stroke-width="0.8"/>
<line x1="80.00" y1="839.71" x2="80.00" y2="847.54" stroke="#444" stroke-width="0.8"/>
<rect x="76.94" y="833.62" width="6.11" height="6.09" fill="#1f70b6" stroke="#333" stroke-width="0.75"/>
<line x1="76.94" y1="836.66" x2="83.06" y2="836.66" stroke="#222" stroke-width="1.3"/>
<line x1="90.19" y1="822.31" x2="90.19" y2="830.57" stroke="#444" stroke-width="0.8"/>
<line x1="90.19" y1="838.40" x2="90.19" y2="848.41" stroke="#444" stroke-width="0.8"/>
<rect x="87.13" y="830.57" width="6.11" height="7.83" fill="#e8962f" stroke="#333" stroke-width="0.75"/>
<line x1="87.13" y1="833.97" x2="93.24" y2="833.97" stroke="#222" stroke-width="1.3"/>
<path d="M69.81,758.10 L69.81,755.50 L90.19,755.50 L90.19,758.10" fill="none" stroke="#333" stroke-width="0.8"/>
<text x="80.00" y="756.70" font-size="8.4" font-weight="bold" text-anchor="middle" fill="#222">****</text>
<path d="M69.81,769.20 L69.81,766.60 L80.00,766.60 L80.00,769.20" fill="none" stroke="#333" stroke-width="0.8"/>
<text x="74.91" y="767.80" font-size="8.4" font-weight="bold" text-anchor="middle" fill="#222">****</text>
<path d="M80.00,780.20 L80.00,777.60 L90.19,777.60 L90.19,780.20" fill="none" stroke="#333" stroke-width="0.8"/>
<text x="85.09" y="778.80" font-size="8.4" font-weight="bold" text-anchor="middle" fill="#222">**</text>
<rect x="63.70" y="749.40" width="32.60" height="128.90" fill="none" stroke="#555" stroke-width="0.9"/>
<rect x="63.70" y="726.80" width="32.60" height="22.60" fill="#d9d9d9" stroke="#333" stroke-width="1.5"/>
<text x="80.00" y="742.10" font-size="7.0" text-anchor="middle" fill="#1a1a1a">DGKQ</text>
<line x1="69.81" y1="878.30" x2="69.81" y2="879.90" stroke="#555" stroke-width="0.8"/>
<text x="0" y="0" font-size="7.6" fill="#222" text-anchor="end" transform="translate(71.51,884.30) rotate(-45)">Ctrl</text>
<line x1="80.00" y1="878.30" x2="80.00" y2="879.90" stroke="#555" stroke-width="0.8"/>
<text x="0" y="0" font-size="7.6" fill="#222" text-anchor="end" transform="translate(81.70,884.30) rotate(-45)">N0</text>
<line x1="90.19" y1="878.30" x2="90.19" y2="879.90" stroke="#555" stroke-width="0.8"/>
<text x="0" y="0" font-size="7.6" fill="#222" text-anchor="end" transform="translate(91.89,884.30) rotate(-45)">N1</text>
<rect x="100.50" y="749.40" width="32.60" height="128.90" fill="white" stroke="none" stroke-width="1"/>
<line x1="100.50" y1="850.15" x2="133.10" y2="850.15" stroke="#f2f2f2" stroke-width="0.5"/>
<line x1="100.50" y1="806.65" x2="133.10" y2="806.65" stroke="#f2f2f2" stroke-width="0.5"/>
<line x1="100.50" y1="763.15" x2="133.10" y2="763.15" stroke="#f2f2f2" stroke-width="0.5"/>
<line x1="100.50" y1="871.90" x2="133.10" y2="871.90" stroke="#ebebeb" stroke-width="0.9"/>
<line x1="100.50" y1="828.40" x2="133.10" y2="828.40" stroke="#ebebeb" stroke-width="0.9"/>
<line x1="100.50" y1="784.90" x2="133.10" y2="784.90" stroke="#ebebeb" stroke-width="0.9"/>
<line x1="106.61" y1="749.40" x2="106.61" y2="878.30" stroke="#ebebeb" stroke-width="0.9"/>
<line x1="116.80" y1="749.40" x2="116.80" y2="878.30" stroke="#ebebeb" stroke-width="0.9"/>
<line x1="126.99" y1="749.40" x2="126.99" y2="878.30" stroke="#ebebeb" stroke-width="0.9"/>
<line x1="106.61" y1="851.02" x2="106.61" y2="862.33" stroke="#444" stroke-width="0.8"/>
<line x1="106.61" y1="871.03" x2="106.61" y2="871.90" stroke="#444" stroke-width="0.8"/>
<rect x="103.56" y="862.33" width="6.11" height="8.70" fill="#c0392b" stroke="#333" stroke-width="0.75"/>
<line x1="103.56" y1="867.55" x2="109.67" y2="867.55" stroke="#222" stroke-width="1.3"/>
<line x1="116.80" y1="853.19" x2="116.80" y2="861.02" stroke="#444" stroke-width="0.8"/>
<line x1="116.80" y1="867.55" x2="116.80" y2="870.60" stroke="#444" stroke-width="0.8"/>
<rect x="113.74" y="861.02" width="6.11" height="6.52" fill="#1f70b6" stroke="#333" stroke-width="0.75"/>
<line x1="113.74" y1="864.16" x2="119.86" y2="864.16" stroke="#222" stroke-width="1.3"/>
<line x1="126.99" y1="854.50" x2="126.99" y2="859.72" stroke="#444" stroke-width="0.8"/>
<line x1="126.99" y1="865.38" x2="126.99" y2="870.60" stroke="#444" stroke-width="0.8"/>
<rect x="123.93" y="859.72" width="6.11" height="5.65" fill="#e8962f" stroke="#333" stroke-width="0.75"/>
<line x1="123.93" y1="862.50" x2="130.04" y2="862.50" stroke="#222" stroke-width="1.3"/>
<path d="M106.61,758.10 L106.61,755.50 L126.99,755.50 L126.99,758.10" fill="none" stroke="#333" stroke-width="0.8"/>
<text x="116.80" y="756.70" font-size="8.4" font-weight="bold" text-anchor="middle" fill="#222">****</text>
<path d="M106.61,769.20 L106.61,766.60 L116.80,766.60 L116.80,769.20" fill="none" stroke="#333" stroke-width="0.8"/>
<text x="111.71" y="767.80" font-size="8.4" font-weight="bold" text-anchor="middle" fill="#222">**</text>
<path d="M116.80,780.20 L116.80,777.60 L126.99,777.60 L126.99,780.20" fill="none" stroke="#333" stroke-width="0.8"/>
<text x="121.89" y="778.80" font-size="8.4" font-weight="bold" text-anchor="middle" fill="#222">**</text>
<rect x="100.50" y="749.40" width="32.60" height="128.90" fill="none" stroke="#555" stroke-width="0.9"/>
<rect x="100.50" y="726.80" width="32.60" height="22.60" fill="#d9d9d9" stroke="#333" stroke-width="1.5"/>
<text x="116.80" y="742.10" font-size="7.0" text-anchor="middle" fill="#1a1a1a">HK3</text>
<line x1="106.61" y1="878.30" x2="106.61" y2="879.90" stroke="#555" stroke-width="0.8"/>
<text x="0" y="0" font-size="7.6" fill="#222" text-anchor="end" transform="translate(108.31,884.30) rotate(-45)">Ctrl</text>
<line x1="116.80" y1="878.30" x2="116.80" y2="879.90" stroke="#555" stroke-width="0.8"/>
<text x="0" y="0" font-size="7.6" fill="#222" text-anchor="end" transform="translate(118.50,884.30) rotate(-45)">N0</text>
<line x1="126.99" y1="878.30" x2="126.99" y2="879.90" stroke="#555" stroke-width="0.8"/>
<text x="0" y="0" font-size="7.6" fill="#222" text-anchor="end" transform="translate(128.69,884.30) rotate(-45)">N1</text>
<rect x="136.80" y="749.40" width="32.60" height="128.90" fill="white" stroke="none" stroke-width="1"/>
<line x1="136.80" y1="850.15" x2="169.40" y2="850.15" stroke="#f2f2f2" stroke-width="0.5"/>
<line x1="136.80" y1="806.65" x2="169.40" y2="806.65" stroke="#f2f2f2" stroke-width="0.5"/>
<line x1="136.80" y1="763.15" x2="169.40" y2="763.15" stroke="#f2f2f2" stroke-width="0.5"/>
<line x1="136.80" y1="871.90" x2="169.40" y2="871.90" stroke="#ebebeb" stroke-width="0.9"/>
<line x1="136.80" y1="828.40" x2="169.40" y2="828.40" stroke="#ebebeb" stroke-width="0.9"/>
<line x1="136.80" y1="784.90" x2="169.40" y2="784.90" stroke="#ebebeb" stroke-width="0.9"/>
<line x1="142.91" y1="749.40" x2="142.91" y2="878.30" stroke="#ebebeb" stroke-width="0.9"/>
<line x1="153.10" y1="749.40" x2="153.10" y2="878.30" stroke="#ebebeb" stroke-width="0.9"/>
<line x1="163.29" y1="749.40" x2="163.29" y2="878.30" stroke="#ebebeb" stroke-width="0.9"/>
<line x1="142.91" y1="855.37" x2="142.91" y2="861.89" stroke="#444" stroke-width="0.8"/>
<line x1="142.91" y1="867.99" x2="142.91" y2="870.60" stroke="#444" stroke-width="0.8"/>
<rect x="139.86" y="861.89" width="6.11" height="6.09" fill="#c0392b" stroke="#333" stroke-width="0.75"/>
<line x1="139.86" y1="864.77" x2="145.97" y2="864.77" stroke="#222" stroke-width="1.3"/>
<line x1="153.10" y1="847.54" x2="153.10" y2="858.85" stroke="#444" stroke-width="0.8"/>
<line x1="153.10" y1="867.12" x2="153.10" y2="871.90" stroke="#444" stroke-width="0.8"/>
<rect x="150.04" y="858.85" width="6.11" height="8.26" fill="#1f70b6" stroke="#333" stroke-width="0.75"/>
<line x1="150.04" y1="862.50" x2="156.16" y2="862.50" stroke="#222" stroke-width="1.3"/>
<line x1="163.29" y1="852.32" x2="163.29" y2="858.85" stroke="#444" stroke-width="0.8"/>
<line x1="163.29" y1="864.07" x2="163.29" y2="871.90" stroke="#444" stroke-width="0.8"/>
<rect x="160.23" y="858.85" width="6.11" height="5.22" fill="#e8962f" stroke="#333" stroke-width="0.75"/>
<line x1="160.23" y1="861.46" x2="166.34" y2="861.46" stroke="#222" stroke-width="1.3"/>
<path d="M142.91,758.10 L142.91,755.50 L163.29,755.50 L163.29,758.10" fill="none" stroke="#333" stroke-width="0.8"/>
<text x="153.10" y="756.70" font-size="8.4" font-weight="bold" text-anchor="middle" fill="#222">***</text>
<path d="M142.91,769.20 L142.91,766.60 L153.10,766.60 L153.10,769.20" fill="none" stroke="#333" stroke-width="0.8"/>
<text x="148.01" y="767.80" font-size="8.4" font-weight="bold" text-anchor="middle" fill="#222">**</text>
<path d="M153.10,780.20 L153.10,777.60 L163.29,777.60 L163.29,780.20" fill="none" stroke="#333" stroke-width="0.8"/>
<text x="158.19" y="778.80" font-size="8.4" font-weight="bold" text-anchor="middle" fill="#222">*</text>
<rect x="136.80" y="749.40" width="32.60" height="128.90" fill="none" stroke="#555" stroke-width="0.9"/>
<rect x="136.80" y="726.80" width="32.60" height="22.60" fill="#d9d9d9" stroke="#333" stroke-width="1.5"/>
<text x="153.10" y="736.70" font-size="7.0" text-anchor="middle" fill="#1a1a1a">JMJD7−</text>
<text x="153.10" y="744.90" font-size="7.0" text-anchor="middle" fill="#1a1a1a">PLA2G4B</text>
<line x1="142.91" y1="878.30" x2="142.91" y2="879.90" stroke="#555" stroke-width="0.8"/>
<text x="0" y="0" font-size="7.6" fill="#222" text-anchor="end" transform="translate(144.61,884.30) rotate(-45)">Ctrl</text>
<line x1="153.10" y1="878.30" x2="153.10" y2="879.90" stroke="#555" stroke-width="0.8"/>
<text x="0" y="0" font-size="7.6" fill="#222" text-anchor="end" transform="translate(154.80,884.30) rotate(-45)">N0</text>
<line x1="163.29" y1="878.30" x2="163.29" y2="879.90" stroke="#555" stroke-width="0.8"/>
<text x="0" y="0" font-size="7.6" fill="#222" text-anchor="end" transform="translate(164.99,884.30) rotate(-45)">N1</text>
<rect x="173.50" y="749.40" width="32.60" height="128.90" fill="white" stroke="none" stroke-width="1"/>
<line x1="173.50" y1="850.15" x2="206.10" y2="850.15" stroke="#f2f2f2" stroke-width="0.5"/>
<line x1="173.50" y1="806.65" x2="206.10" y2="806.65" stroke="#f2f2f2" stroke-width="0.5"/>
<line x1="173.50" y1="763.15" x2="206.10" y2="763.15" stroke="#f2f2f2" stroke-width="0.5"/>
<line x1="173.50" y1="871.90" x2="206.10" y2="871.90" stroke="#ebebeb" stroke-width="0.9"/>
<line x1="173.50" y1="828.40" x2="206.10" y2="828.40" stroke="#ebebeb" stroke-width="0.9"/>
<line x1="173.50" y1="784.90" x2="206.10" y2="784.90" stroke="#ebebeb" stroke-width="0.9"/>
<line x1="179.61" y1="749.40" x2="179.61" y2="878.30" stroke="#ebebeb" stroke-width="0.9"/>
<line x1="189.80" y1="749.40" x2="189.80" y2="878.30" stroke="#ebebeb" stroke-width="0.9"/>
<line x1="199.99" y1="749.40" x2="199.99" y2="878.30" stroke="#ebebeb" stroke-width="0.9"/>
<line x1="179.61" y1="797.95" x2="179.61" y2="807.52" stroke="#444" stroke-width="0.8"/>
<line x1="179.61" y1="813.61" x2="179.61" y2="823.18" stroke="#444" stroke-width="0.8"/>
<rect x="176.56" y="807.52" width="6.11" height="6.09" fill="#c0392b" stroke="#333" stroke-width="0.75"/>
<line x1="176.56" y1="810.13" x2="182.67" y2="810.13" stroke="#222" stroke-width="1.3"/>
<line x1="189.80" y1="794.90" x2="189.80" y2="804.04" stroke="#444" stroke-width="0.8"/>
<line x1="189.80" y1="811.00" x2="189.80" y2="820.57" stroke="#444" stroke-width="0.8"/>
<rect x="186.74" y="804.04" width="6.11" height="6.96" fill="#1f70b6" stroke="#333" stroke-width="0.75"/>
<line x1="186.74" y1="807.52" x2="192.86" y2="807.52" stroke="#222" stroke-width="1.3"/>
<line x1="199.99" y1="794.47" x2="199.99" y2="802.30" stroke="#444" stroke-width="0.8"/>
<line x1="199.99" y1="809.26" x2="199.99" y2="816.22" stroke="#444" stroke-width="0.8"/>
<rect x="196.93" y="802.30" width="6.11" height="6.96" fill="#e8962f" stroke="#333" stroke-width="0.75"/>
<line x1="196.93" y1="805.78" x2="203.04" y2="805.78" stroke="#222" stroke-width="1.3"/>
<path d="M179.61,758.10 L179.61,755.50 L199.99,755.50 L199.99,758.10" fill="none" stroke="#333" stroke-width="0.8"/>
<text x="189.80" y="756.70" font-size="8.4" font-weight="bold" text-anchor="middle" fill="#222">****</text>
<path d="M179.61,769.20 L179.61,766.60 L189.80,766.60 L189.80,769.20" fill="none" stroke="#333" stroke-width="0.8"/>
<text x="184.71" y="767.80" font-size="8.4" font-weight="bold" text-anchor="middle" fill="#222">***</text>
<path d="M189.80,780.20 L189.80,777.60 L199.99,777.60 L199.99,780.20" fill="none" stroke="#333" stroke-width="0.8"/>
<text x="194.89" y="778.80" font-size="8.4" font-weight="bold" text-anchor="middle" fill="#222">**</text>
<rect x="173.50" y="749.40" width="32.60" height="128.90" fill="none" stroke="#555" stroke-width="0.9"/>
<rect x="173.50" y="726.80" width="32.60" height="22.60" fill="#d9d9d9" stroke="#333" stroke-width="1.5"/>
<text x="189.80" y="742.10" font-size="7.0" text-anchor="middle" fill="#1a1a1a">LDHA</text>
<line x1="179.61" y1="878.30" x2="179.61" y2="879.90" stroke="#555" stroke-width="0.8"/>
<text x="0" y="0" font-size="7.6" fill="#222" text-anchor="end" transform="translate(181.31,884.30) rotate(-45)">Ctrl</text>
<line x1="189.80" y1="878.30" x2="189.80" y2="879.90" stroke="#555" stroke-width="0.8"/>
<text x="0" y="0" font-size="7.6" fill="#222" text-anchor="end" transform="translate(191.50,884.30) rotate(-45)">N0</text>
<line x1="199.99" y1="878.30" x2="199.99" y2="879.90" stroke="#555" stroke-width="0.8"/>
<text x="0" y="0" font-size="7.6" fill="#222" text-anchor="end" transform="translate(201.69,884.30) rotate(-45)">N1</text>
<rect x="210.10" y="749.40" width="32.60" height="128.90" fill="white" stroke="none" stroke-width="1"/>
<line x1="210.10" y1="850.15" x2="242.70" y2="850.15" stroke="#f2f2f2" stroke-width="0.5"/>
<line x1="210.10" y1="806.65" x2="242.70" y2="806.65" stroke="#f2f2f2" stroke-width="0.5"/>
<line x1="210.10" y1="763.15" x2="242.70" y2="763.15" stroke="#f2f2f2" stroke-width="0.5"/>
<line x1="210.10" y1="871.90" x2="242.70" y2="871.90" stroke="#ebebeb" stroke-width="0.9"/>
<line x1="210.10" y1="828.40" x2="242.70" y2="828.40" stroke="#ebebeb" stroke-width="0.9"/>
<line x1="210.10" y1="784.90" x2="242.70" y2="784.90" stroke="#ebebeb" stroke-width="0.9"/>
<line x1="216.21" y1="749.40" x2="216.21" y2="878.30" stroke="#ebebeb" stroke-width="0.9"/>
<line x1="226.40" y1="749.40" x2="226.40" y2="878.30" stroke="#ebebeb" stroke-width="0.9"/>
<line x1="236.59" y1="749.40" x2="236.59" y2="878.30" stroke="#ebebeb" stroke-width="0.9"/>
<line x1="216.21" y1="812.74" x2="216.21" y2="817.09" stroke="#444" stroke-width="0.8"/>
<line x1="216.21" y1="821.88" x2="216.21" y2="826.66" stroke="#444" stroke-width="0.8"/>
<rect x="213.16" y="817.09" width="6.11" height="4.78" fill="#c0392b" stroke="#333" stroke-width="0.75"/>
<line x1="213.16" y1="819.00" x2="219.27" y2="819.00" stroke="#222" stroke-width="1.3"/>
<line x1="226.40" y1="810.13" x2="226.40" y2="815.35" stroke="#444" stroke-width="0.8"/>
<line x1="226.40" y1="819.70" x2="226.40" y2="825.79" stroke="#444" stroke-width="0.8"/>
<rect x="223.34" y="815.35" width="6.11" height="4.35" fill="#1f70b6" stroke="#333" stroke-width="0.75"/>
<line x1="223.34" y1="817.61" x2="229.46" y2="817.61" stroke="#222" stroke-width="1.3"/>
<line x1="236.59" y1="807.52" x2="236.59" y2="813.61" stroke="#444" stroke-width="0.8"/>
<line x1="236.59" y1="819.70" x2="236.59" y2="828.40" stroke="#444" stroke-width="0.8"/>
<rect x="233.53" y="813.61" width="6.11" height="6.09" fill="#e8962f" stroke="#333" stroke-width="0.75"/>
<line x1="233.53" y1="816.22" x2="239.64" y2="816.22" stroke="#222" stroke-width="1.3"/>
<path d="M216.21,758.10 L216.21,755.50 L236.59,755.50 L236.59,758.10" fill="none" stroke="#333" stroke-width="0.8"/>
<text x="226.40" y="756.70" font-size="8.4" font-weight="bold" text-anchor="middle" fill="#222">****</text>
<path d="M216.21,769.20 L216.21,766.60 L226.40,766.60 L226.40,769.20" fill="none" stroke="#333" stroke-width="0.8"/>
<text x="221.31" y="767.80" font-size="8.4" font-weight="bold" text-anchor="middle" fill="#222">****</text>
<rect x="210.10" y="749.40" width="32.60" height="128.90" fill="none" stroke="#555" stroke-width="0.9"/>
<rect x="210.10" y="726.80" width="32.60" height="22.60" fill="#d9d9d9" stroke="#333" stroke-width="1.5"/>
<text x="226.40" y="742.10" font-size="7.0" text-anchor="middle" fill="#1a1a1a">PFKL</text>
<line x1="216.21" y1="878.30" x2="216.21" y2="879.90" stroke="#555" stroke-width="0.8"/>
<text x="0" y="0" font-size="7.6" fill="#222" text-anchor="end" transform="translate(217.91,884.30) rotate(-45)">Ctrl</text>
<line x1="226.40" y1="878.30" x2="226.40" y2="879.90" stroke="#555" stroke-width="0.8"/>
<text x="0" y="0" font-size="7.6" fill="#222" text-anchor="end" transform="translate(228.10,884.30) rotate(-45)">N0</text>
<line x1="236.59" y1="878.30" x2="236.59" y2="879.90" stroke="#555" stroke-width="0.8"/>
<text x="0" y="0" font-size="7.6" fill="#222" text-anchor="end" transform="translate(238.29,884.30) rotate(-45)">N1</text>
<rect x="246.60" y="749.40" width="32.60" height="128.90" fill="white" stroke="none" stroke-width="1"/>
<line x1="246.60" y1="850.15" x2="279.20" y2="850.15" stroke="#f2f2f2" stroke-width="0.5"/>
<line x1="246.60" y1="806.65" x2="279.20" y2="806.65" stroke="#f2f2f2" stroke-width="0.5"/>
<line x1="246.60" y1="763.15" x2="279.20" y2="763.15" stroke="#f2f2f2" stroke-width="0.5"/>
<line x1="246.60" y1="871.90" x2="279.20" y2="871.90" stroke="#ebebeb" stroke-width="0.9"/>
<line x1="246.60" y1="828.40" x2="279.20" y2="828.40" stroke="#ebebeb" stroke-width="0.9"/>
<line x1="246.60" y1="784.90" x2="279.20" y2="784.90" stroke="#ebebeb" stroke-width="0.9"/>
<line x1="252.71" y1="749.40" x2="252.71" y2="878.30" stroke="#ebebeb" stroke-width="0.9"/>
<line x1="262.90" y1="749.40" x2="262.90" y2="878.30" stroke="#ebebeb" stroke-width="0.9"/>
<line x1="273.09" y1="749.40" x2="273.09" y2="878.30" stroke="#ebebeb" stroke-width="0.9"/>
<line x1="252.71" y1="848.85" x2="252.71" y2="854.76" stroke="#444" stroke-width="0.8"/>
<line x1="252.71" y1="859.72" x2="252.71" y2="864.94" stroke="#444" stroke-width="0.8"/>
<rect x="249.66" y="854.76" width="6.11" height="4.96" fill="#c0392b" stroke="#333" stroke-width="0.75"/>
<line x1="249.66" y1="857.11" x2="255.77" y2="857.11" stroke="#222" stroke-width="1.3"/>
<line x1="262.90" y1="838.84" x2="262.90" y2="848.85" stroke="#444" stroke-width="0.8"/>
<line x1="262.90" y1="856.24" x2="262.90" y2="862.33" stroke="#444" stroke-width="0.8"/>
<rect x="259.84" y="848.85" width="6.11" height="7.39" fill="#1f70b6" stroke="#333" stroke-width="0.75"/>
<line x1="259.84" y1="852.32" x2="265.96" y2="852.32" stroke="#222" stroke-width="1.3"/>
<line x1="273.09" y1="837.36" x2="273.09" y2="845.37" stroke="#444" stroke-width="0.8"/>
<line x1="273.09" y1="853.63" x2="273.09" y2="861.02" stroke="#444" stroke-width="0.8"/>
<rect x="270.03" y="845.37" width="6.11" height="8.26" fill="#e8962f" stroke="#333" stroke-width="0.75"/>
<line x1="270.03" y1="848.67" x2="276.14" y2="848.67" stroke="#222" stroke-width="1.3"/>
<path d="M252.71,758.10 L252.71,755.50 L273.09,755.50 L273.09,758.10" fill="none" stroke="#333" stroke-width="0.8"/>
<text x="262.90" y="756.70" font-size="8.4" font-weight="bold" text-anchor="middle" fill="#222">****</text>
<path d="M252.71,769.20 L252.71,766.60 L262.90,766.60 L262.90,769.20" fill="none" stroke="#333" stroke-width="0.8"/>
<text x="257.81" y="767.80" font-size="8.4" font-weight="bold" text-anchor="middle" fill="#222">****</text>
<path d="M262.90,780.20 L262.90,777.60 L273.09,777.60 L273.09,780.20" fill="none" stroke="#333" stroke-width="0.8"/>
<text x="267.99" y="778.80" font-size="8.4" font-weight="bold" text-anchor="middle" fill="#222">****</text>
<rect x="246.60" y="749.40" width="32.60" height="128.90" fill="none" stroke="#555" stroke-width="0.9"/>
<rect x="246.60" y="726.80" width="32.60" height="22.60" fill="#d9d9d9" stroke="#333" stroke-width="1.5"/>
<text x="262.90" y="742.10" font-size="7.0" text-anchor="middle" fill="#1a1a1a">RALGDS</text>
<line x1="252.71" y1="878.30" x2="252.71" y2="879.90" stroke="#555" stroke-width="0.8"/>
<text x="0" y="0" font-size="7.6" fill="#222" text-anchor="end" transform="translate(254.41,884.30) rotate(-45)">Ctrl</text>
<line x1="262.90" y1="878.30" x2="262.90" y2="879.90" stroke="#555" stroke-width="0.8"/>
<text x="0" y="0" font-size="7.6" fill="#222" text-anchor="end" transform="translate(264.60,884.30) rotate(-45)">N0</text>
<line x1="273.09" y1="878.30" x2="273.09" y2="879.90" stroke="#555" stroke-width="0.8"/>
<text x="0" y="0" font-size="7.6" fill="#222" text-anchor="end" transform="translate(274.79,884.30) rotate(-45)">N1</text>
<rect x="283.10" y="749.40" width="32.60" height="128.90" fill="white" stroke="none" stroke-width="1"/>
<line x1="283.10" y1="850.15" x2="315.70" y2="850.15" stroke="#f2f2f2" stroke-width="0.5"/>
<line x1="283.10" y1="806.65" x2="315.70" y2="806.65" stroke="#f2f2f2" stroke-width="0.5"/>
<line x1="283.10" y1="763.15" x2="315.70" y2="763.15" stroke="#f2f2f2" stroke-width="0.5"/>
<line x1="283.10" y1="871.90" x2="315.70" y2="871.90" stroke="#ebebeb" stroke-width="0.9"/>
<line x1="283.10" y1="828.40" x2="315.70" y2="828.40" stroke="#ebebeb" stroke-width="0.9"/>
<line x1="283.10" y1="784.90" x2="315.70" y2="784.90" stroke="#ebebeb" stroke-width="0.9"/>
<line x1="289.21" y1="749.40" x2="289.21" y2="878.30" stroke="#ebebeb" stroke-width="0.9"/>
<line x1="299.40" y1="749.40" x2="299.40" y2="878.30" stroke="#ebebeb" stroke-width="0.9"/>
<line x1="309.59" y1="749.40" x2="309.59" y2="878.30" stroke="#ebebeb" stroke-width="0.9"/>
<line x1="289.21" y1="855.37" x2="289.21" y2="861.89" stroke="#444" stroke-width="0.8"/>
<line x1="289.21" y1="867.99" x2="289.21" y2="870.16" stroke="#444" stroke-width="0.8"/>
<rect x="286.16" y="861.89" width="6.11" height="6.09" fill="#c0392b" stroke="#333" stroke-width="0.75"/>
<line x1="286.16" y1="864.77" x2="292.27" y2="864.77" stroke="#222" stroke-width="1.3"/>
<line x1="299.40" y1="834.49" x2="299.40" y2="850.15" stroke="#444" stroke-width="0.8"/>
<line x1="299.40" y1="861.89" x2="299.40" y2="871.90" stroke="#444" stroke-width="0.8"/>
<rect x="296.34" y="850.15" width="6.11" height="11.75" fill="#1f70b6" stroke="#333" stroke-width="0.75"/>
<line x1="296.34" y1="856.24" x2="302.46" y2="856.24" stroke="#222" stroke-width="1.3"/>
<line x1="309.59" y1="826.66" x2="309.59" y2="844.93" stroke="#444" stroke-width="0.8"/>
<line x1="309.59" y1="857.11" x2="309.59" y2="866.68" stroke="#444" stroke-width="0.8"/>
<rect x="306.53" y="844.93" width="6.11" height="12.18" fill="#e8962f" stroke="#333" stroke-width="0.75"/>
<line x1="306.53" y1="851.45" x2="312.64" y2="851.45" stroke="#222" stroke-width="1.3"/>
<path d="M289.21,758.10 L289.21,755.50 L309.59,755.50 L309.59,758.10" fill="none" stroke="#333" stroke-width="0.8"/>
<text x="299.40" y="756.70" font-size="8.4" font-weight="bold" text-anchor="middle" fill="#222">****</text>
<path d="M289.21,769.20 L289.21,766.60 L299.40,766.60 L299.40,769.20" fill="none" stroke="#333" stroke-width="0.8"/>
<text x="294.31" y="767.80" font-size="8.4" font-weight="bold" text-anchor="middle" fill="#222">****</text>
<path d="M299.40,780.20 L299.40,777.60 L309.59,777.60 L309.59,780.20" fill="none" stroke="#333" stroke-width="0.8"/>
<text x="304.49" y="778.80" font-size="8.4" font-weight="bold" text-anchor="middle" fill="#222">****</text>
<rect x="283.10" y="749.40" width="32.60" height="128.90" fill="none" stroke="#555" stroke-width="0.9"/>
<rect x="283.10" y="726.80" width="32.60" height="22.60" fill="#d9d9d9" stroke="#333" stroke-width="1.5"/>
<text x="299.40" y="742.10" font-size="7.0" text-anchor="middle" fill="#1a1a1a">RRM2</text>
<line x1="289.21" y1="878.30" x2="289.21" y2="879.90" stroke="#555" stroke-width="0.8"/>
<text x="0" y="0" font-size="7.6" fill="#222" text-anchor="end" transform="translate(290.91,884.30) rotate(-45)">Ctrl</text>
<line x1="299.40" y1="878.30" x2="299.40" y2="879.90" stroke="#555" stroke-width="0.8"/>
<text x="0" y="0" font-size="7.6" fill="#222" text-anchor="end" transform="translate(301.10,884.30) rotate(-45)">N0</text>
<line x1="309.59" y1="878.30" x2="309.59" y2="879.90" stroke="#555" stroke-width="0.8"/>
<text x="0" y="0" font-size="7.6" fill="#222" text-anchor="end" transform="translate(311.29,884.30) rotate(-45)">N1</text>
<rect x="319.70" y="749.40" width="32.60" height="128.90" fill="white" stroke="none" stroke-width="1"/>
<line x1="319.70" y1="850.15" x2="352.30" y2="850.15" stroke="#f2f2f2" stroke-width="0.5"/>
<line x1="319.70" y1="806.65" x2="352.30" y2="806.65" stroke="#f2f2f2" stroke-width="0.5"/>
<line x1="319.70" y1="763.15" x2="352.30" y2="763.15" stroke="#f2f2f2" stroke-width="0.5"/>
<line x1="319.70" y1="871.90" x2="352.30" y2="871.90" stroke="#ebebeb" stroke-width="0.9"/>
<line x1="319.70" y1="828.40" x2="352.30" y2="828.40" stroke="#ebebeb" stroke-width="0.9"/>
<line x1="319.70" y1="784.90" x2="352.30" y2="784.90" stroke="#ebebeb" stroke-width="0.9"/>
<line x1="325.81" y1="749.40" x2="325.81" y2="878.30" stroke="#ebebeb" stroke-width="0.9"/>
<line x1="336.00" y1="749.40" x2="336.00" y2="878.30" stroke="#ebebeb" stroke-width="0.9"/>
<line x1="346.19" y1="749.40" x2="346.19" y2="878.30" stroke="#ebebeb" stroke-width="0.9"/>
<line x1="325.81" y1="828.40" x2="325.81" y2="831.01" stroke="#444" stroke-width="0.8"/>
<line x1="325.81" y1="834.49" x2="325.81" y2="837.97" stroke="#444" stroke-width="0.8"/>
<rect x="322.76" y="831.01" width="6.11" height="3.48" fill="#c0392b" stroke="#333" stroke-width="0.75"/>
<line x1="322.76" y1="832.75" x2="328.87" y2="832.75" stroke="#222" stroke-width="1.3"/>
<line x1="336.00" y1="823.18" x2="336.00" y2="828.40" stroke="#444" stroke-width="0.8"/>
<line x1="336.00" y1="832.75" x2="336.00" y2="837.97" stroke="#444" stroke-width="0.8"/>
<rect x="332.94" y="828.40" width="6.11" height="4.35" fill="#1f70b6" stroke="#333" stroke-width="0.75"/>
<line x1="332.94" y1="831.01" x2="339.06" y2="831.01" stroke="#222" stroke-width="1.3"/>
<line x1="346.19" y1="822.75" x2="346.19" y2="828.40" stroke="#444" stroke-width="0.8"/>
<line x1="346.19" y1="832.75" x2="346.19" y2="837.97" stroke="#444" stroke-width="0.8"/>
<rect x="343.13" y="828.40" width="6.11" height="4.35" fill="#e8962f" stroke="#333" stroke-width="0.75"/>
<line x1="343.13" y1="830.14" x2="349.24" y2="830.14" stroke="#222" stroke-width="1.3"/>
<path d="M325.81,758.10 L325.81,755.50 L346.19,755.50 L346.19,758.10" fill="none" stroke="#333" stroke-width="0.8"/>
<text x="336.00" y="756.70" font-size="8.4" font-weight="bold" text-anchor="middle" fill="#222">****</text>
<path d="M325.81,769.20 L325.81,766.60 L336.00,766.60 L336.00,769.20" fill="none" stroke="#333" stroke-width="0.8"/>
<text x="330.91" y="767.80" font-size="8.4" font-weight="bold" text-anchor="middle" fill="#222">****</text>
<rect x="319.70" y="749.40" width="32.60" height="128.90" fill="none" stroke="#555" stroke-width="0.9"/>
<rect x="319.70" y="726.80" width="32.60" height="22.60" fill="#d9d9d9" stroke="#333" stroke-width="1.5"/>
<text x="336.00" y="742.10" font-size="7.0" text-anchor="middle" fill="#1a1a1a">SIRT6</text>
<line x1="325.81" y1="878.30" x2="325.81" y2="879.90" stroke="#555" stroke-width="0.8"/>
<text x="0" y="0" font-size="7.6" fill="#222" text-anchor="end" transform="translate(327.51,884.30) rotate(-45)">Ctrl</text>
<line x1="336.00" y1="878.30" x2="336.00" y2="879.90" stroke="#555" stroke-width="0.8"/>
<text x="0" y="0" font-size="7.6" fill="#222" text-anchor="end" transform="translate(337.70,884.30) rotate(-45)">N0</text>
<line x1="346.19" y1="878.30" x2="346.19" y2="879.90" stroke="#555" stroke-width="0.8"/>
<text x="0" y="0" font-size="7.6" fill="#222" text-anchor="end" transform="translate(347.89,884.30) rotate(-45)">N1</text>
<rect x="357.00" y="749.40" width="32.60" height="128.90" fill="white" stroke="none" stroke-width="1"/>
<line x1="357.00" y1="850.15" x2="389.60" y2="850.15" stroke="#f2f2f2" stroke-width="0.5"/>
<line x1="357.00" y1="806.65" x2="389.60" y2="806.65" stroke="#f2f2f2" stroke-width="0.5"/>
<line x1="357.00" y1="763.15" x2="389.60" y2="763.15" stroke="#f2f2f2" stroke-width="0.5"/>
<line x1="357.00" y1="871.90" x2="389.60" y2="871.90" stroke="#ebebeb" stroke-width="0.9"/>
<line x1="357.00" y1="828.40" x2="389.60" y2="828.40" stroke="#ebebeb" stroke-width="0.9"/>
<line x1="357.00" y1="784.90" x2="389.60" y2="784.90" stroke="#ebebeb" stroke-width="0.9"/>
<line x1="363.11" y1="749.40" x2="363.11" y2="878.30" stroke="#ebebeb" stroke-width="0.9"/>
<line x1="373.30" y1="749.40" x2="373.30" y2="878.30" stroke="#ebebeb" stroke-width="0.9"/>
<line x1="383.49" y1="749.40" x2="383.49" y2="878.30" stroke="#ebebeb" stroke-width="0.9"/>
<line x1="363.11" y1="829.27" x2="363.11" y2="837.53" stroke="#444" stroke-width="0.8"/>
<line x1="363.11" y1="844.06" x2="363.11" y2="853.63" stroke="#444" stroke-width="0.8"/>
<rect x="360.06" y="837.53" width="6.11" height="6.52" fill="#c0392b" stroke="#333" stroke-width="0.75"/>
<line x1="360.06" y1="840.32" x2="366.17" y2="840.32" stroke="#222" stroke-width="1.3"/>
<line x1="373.30" y1="811.87" x2="373.30" y2="825.79" stroke="#444" stroke-width="0.8"/>
<line x1="373.30" y1="836.23" x2="373.30" y2="849.28" stroke="#444" stroke-width="0.8"/>
<rect x="370.24" y="825.79" width="6.11" height="10.44" fill="#1f70b6" stroke="#333" stroke-width="0.75"/>
<line x1="370.24" y1="831.88" x2="376.36" y2="831.88" stroke="#222" stroke-width="1.3"/>
<line x1="383.49" y1="806.65" x2="383.49" y2="818.83" stroke="#444" stroke-width="0.8"/>
<line x1="383.49" y1="833.62" x2="383.49" y2="846.67" stroke="#444" stroke-width="0.8"/>
<rect x="380.43" y="818.83" width="6.11" height="14.79" fill="#e8962f" stroke="#333" stroke-width="0.75"/>
<line x1="380.43" y1="829.27" x2="386.54" y2="829.27" stroke="#222" stroke-width="1.3"/>
<path d="M363.11,758.10 L363.11,755.50 L383.49,755.50 L383.49,758.10" fill="none" stroke="#333" stroke-width="0.8"/>
<text x="373.30" y="756.70" font-size="8.4" font-weight="bold" text-anchor="middle" fill="#222">****</text>
<path d="M363.11,769.20 L363.11,766.60 L373.30,766.60 L373.30,769.20" fill="none" stroke="#333" stroke-width="0.8"/>
<text x="368.21" y="767.80" font-size="8.4" font-weight="bold" text-anchor="middle" fill="#222">****</text>
<path d="M373.30,780.20 L373.30,777.60 L383.49,777.60 L383.49,780.20" fill="none" stroke="#333" stroke-width="0.8"/>
<text x="378.39" y="778.80" font-size="8.4" font-weight="bold" text-anchor="middle" fill="#222">***</text>
<rect x="357.00" y="749.40" width="32.60" height="128.90" fill="none" stroke="#555" stroke-width="0.9"/>
<rect x="357.00" y="726.80" width="32.60" height="22.60" fill="#d9d9d9" stroke="#333" stroke-width="1.5"/>
<text x="373.30" y="742.10" font-size="7.0" text-anchor="middle" fill="#1a1a1a">TK1</text>
<line x1="363.11" y1="878.30" x2="363.11" y2="879.90" stroke="#555" stroke-width="0.8"/>
<text x="0" y="0" font-size="7.6" fill="#222" text-anchor="end" transform="translate(364.81,884.30) rotate(-45)">Ctrl</text>
<line x1="373.30" y1="878.30" x2="373.30" y2="879.90" stroke="#555" stroke-width="0.8"/>
<text x="0" y="0" font-size="7.6" fill="#222" text-anchor="end" transform="translate(375.00,884.30) rotate(-45)">N0</text>
<line x1="383.49" y1="878.30" x2="383.49" y2="879.90" stroke="#555" stroke-width="0.8"/>
<text x="0" y="0" font-size="7.6" fill="#222" text-anchor="end" transform="translate(385.19,884.30) rotate(-45)">N1</text>
<rect x="393.30" y="749.40" width="32.60" height="128.90" fill="white" stroke="none" stroke-width="1"/>
<line x1="393.30" y1="850.15" x2="425.90" y2="850.15" stroke="#f2f2f2" stroke-width="0.5"/>
<line x1="393.30" y1="806.65" x2="425.90" y2="806.65" stroke="#f2f2f2" stroke-width="0.5"/>
<line x1="393.30" y1="763.15" x2="425.90" y2="763.15" stroke="#f2f2f2" stroke-width="0.5"/>
<line x1="393.30" y1="871.90" x2="425.90" y2="871.90" stroke="#ebebeb" stroke-width="0.9"/>
<line x1="393.30" y1="828.40" x2="425.90" y2="828.40" stroke="#ebebeb" stroke-width="0.9"/>
<line x1="393.30" y1="784.90" x2="425.90" y2="784.90" stroke="#ebebeb" stroke-width="0.9"/>
<line x1="399.41" y1="749.40" x2="399.41" y2="878.30" stroke="#ebebeb" stroke-width="0.9"/>
<line x1="409.60" y1="749.40" x2="409.60" y2="878.30" stroke="#ebebeb" stroke-width="0.9"/>
<line x1="419.79" y1="749.40" x2="419.79" y2="878.30" stroke="#ebebeb" stroke-width="0.9"/>
<line x1="399.41" y1="824.05" x2="399.41" y2="827.53" stroke="#444" stroke-width="0.8"/>
<line x1="399.41" y1="832.75" x2="399.41" y2="837.10" stroke="#444" stroke-width="0.8"/>
<rect x="396.36" y="827.53" width="6.11" height="5.22" fill="#c0392b" stroke="#333" stroke-width="0.75"/>
<line x1="396.36" y1="830.14" x2="402.47" y2="830.14" stroke="#222" stroke-width="1.3"/>
<line x1="409.60" y1="817.96" x2="409.60" y2="824.05" stroke="#444" stroke-width="0.8"/>
<line x1="409.60" y1="829.27" x2="409.60" y2="836.23" stroke="#444" stroke-width="0.8"/>
<rect x="406.54" y="824.05" width="6.11" height="5.22" fill="#1f70b6" stroke="#333" stroke-width="0.75"/>
<line x1="406.54" y1="826.66" x2="412.66" y2="826.66" stroke="#222" stroke-width="1.3"/>
<line x1="419.79" y1="816.65" x2="419.79" y2="822.75" stroke="#444" stroke-width="0.8"/>
<line x1="419.79" y1="827.53" x2="419.79" y2="833.62" stroke="#444" stroke-width="0.8"/>
<rect x="416.73" y="822.75" width="6.11" height="4.78" fill="#e8962f" stroke="#333" stroke-width="0.75"/>
<line x1="416.73" y1="824.49" x2="422.84" y2="824.49" stroke="#222" stroke-width="1.3"/>
<path d="M399.41,758.10 L399.41,755.50 L419.79,755.50 L419.79,758.10" fill="none" stroke="#333" stroke-width="0.8"/>
<text x="409.60" y="756.70" font-size="8.4" font-weight="bold" text-anchor="middle" fill="#222">****</text>
<path d="M399.41,769.20 L399.41,766.60 L409.60,766.60 L409.60,769.20" fill="none" stroke="#333" stroke-width="0.8"/>
<text x="404.51" y="767.80" font-size="8.4" font-weight="bold" text-anchor="middle" fill="#222">****</text>
<path d="M409.60,780.20 L409.60,777.60 L419.79,777.60 L419.79,780.20" fill="none" stroke="#333" stroke-width="0.8"/>
<text x="414.69" y="778.80" font-size="8.4" font-weight="bold" text-anchor="middle" fill="#222">***</text>
<rect x="393.30" y="749.40" width="32.60" height="128.90" fill="none" stroke="#555" stroke-width="0.9"/>
<rect x="393.30" y="726.80" width="32.60" height="22.60" fill="#d9d9d9" stroke="#333" stroke-width="1.5"/>
<text x="409.60" y="742.10" font-size="7.0" text-anchor="middle" fill="#1a1a1a">UCKL1</text>
<line x1="399.41" y1="878.30" x2="399.41" y2="879.90" stroke="#555" stroke-width="0.8"/>
<text x="0" y="0" font-size="7.6" fill="#222" text-anchor="end" transform="translate(401.11,884.30) rotate(-45)">Ctrl</text>
<line x1="409.60" y1="878.30" x2="409.60" y2="879.90" stroke="#555" stroke-width="0.8"/>
<text x="0" y="0" font-size="7.6" fill="#222" text-anchor="end" transform="translate(411.30,884.30) rotate(-45)">N0</text>
<line x1="419.79" y1="878.30" x2="419.79" y2="879.90" stroke="#555" stroke-width="0.8"/>
<text x="0" y="0" font-size="7.6" fill="#222" text-anchor="end" transform="translate(421.49,884.30) rotate(-45)">N1</text>
<rect x="429.80" y="749.40" width="32.60" height="128.90" fill="white" stroke="none" stroke-width="1"/>
<line x1="429.80" y1="850.15" x2="462.40" y2="850.15" stroke="#f2f2f2" stroke-width="0.5"/>
<line x1="429.80" y1="806.65" x2="462.40" y2="806.65" stroke="#f2f2f2" stroke-width="0.5"/>
<line x1="429.80" y1="763.15" x2="462.40" y2="763.15" stroke="#f2f2f2" stroke-width="0.5"/>
<line x1="429.80" y1="871.90" x2="462.40" y2="871.90" stroke="#ebebeb" stroke-width="0.9"/>
<line x1="429.80" y1="828.40" x2="462.40" y2="828.40" stroke="#ebebeb" stroke-width="0.9"/>
<line x1="429.80" y1="784.90" x2="462.40" y2="784.90" stroke="#ebebeb" stroke-width="0.9"/>
<line x1="435.91" y1="749.40" x2="435.91" y2="878.30" stroke="#ebebeb" stroke-width="0.9"/>
<line x1="446.10" y1="749.40" x2="446.10" y2="878.30" stroke="#ebebeb" stroke-width="0.9"/>
<line x1="456.29" y1="749.40" x2="456.29" y2="878.30" stroke="#ebebeb" stroke-width="0.9"/>
<line x1="435.91" y1="834.49" x2="435.91" y2="837.53" stroke="#444" stroke-width="0.8"/>
<line x1="435.91" y1="842.32" x2="435.91" y2="850.15" stroke="#444" stroke-width="0.8"/>
<rect x="432.86" y="837.53" width="6.11" height="4.78" fill="#c0392b" stroke="#333" stroke-width="0.75"/>
<line x1="432.86" y1="839.71" x2="438.97" y2="839.71" stroke="#222" stroke-width="1.3"/>
<line x1="446.10" y1="829.27" x2="446.10" y2="834.49" stroke="#444" stroke-width="0.8"/>
<line x1="446.10" y1="840.58" x2="446.10" y2="846.67" stroke="#444" stroke-width="0.8"/>
<rect x="443.04" y="834.49" width="6.11" height="6.09" fill="#1f70b6" stroke="#333" stroke-width="0.75"/>
<line x1="443.04" y1="837.53" x2="449.16" y2="837.53" stroke="#222" stroke-width="1.3"/>
<line x1="456.29" y1="830.57" x2="456.29" y2="834.49" stroke="#444" stroke-width="0.8"/>
<line x1="456.29" y1="839.27" x2="456.29" y2="842.32" stroke="#444" stroke-width="0.8"/>
<rect x="453.23" y="834.49" width="6.11" height="4.78" fill="#e8962f" stroke="#333" stroke-width="0.75"/>
<line x1="453.23" y1="837.10" x2="459.34" y2="837.10" stroke="#222" stroke-width="1.3"/>
<path d="M435.91,758.10 L435.91,755.50 L456.29,755.50 L456.29,758.10" fill="none" stroke="#333" stroke-width="0.8"/>
<text x="446.10" y="756.70" font-size="8.4" font-weight="bold" text-anchor="middle" fill="#222">****</text>
<path d="M435.91,769.20 L435.91,766.60 L446.10,766.60 L446.10,769.20" fill="none" stroke="#333" stroke-width="0.8"/>
<text x="441.01" y="767.80" font-size="8.4" font-weight="bold" text-anchor="middle" fill="#222">***</text>
<path d="M446.10,780.20 L446.10,777.60 L456.29,777.60 L456.29,780.20" fill="none" stroke="#333" stroke-width="0.8"/>
<text x="451.19" y="778.80" font-size="8.4" font-weight="bold" text-anchor="middle" fill="#222">*</text>
<rect x="429.80" y="749.40" width="32.60" height="128.90" fill="none" stroke="#555" stroke-width="0.9"/>
<rect x="429.80" y="726.80" width="32.60" height="22.60" fill="#d9d9d9" stroke="#333" stroke-width="1.5"/>
<text x="446.10" y="742.10" font-size="7.0" text-anchor="middle" fill="#1a1a1a">UMPS</text>
<line x1="435.91" y1="878.30" x2="435.91" y2="879.90" stroke="#555" stroke-width="0.8"/>
<text x="0" y="0" font-size="7.6" fill="#222" text-anchor="end" transform="translate(437.61,884.30) rotate(-45)">Ctrl</text>
<line x1="446.10" y1="878.30" x2="446.10" y2="879.90" stroke="#555" stroke-width="0.8"/>
<text x="0" y="0" font-size="7.6" fill="#222" text-anchor="end" transform="translate(447.80,884.30) rotate(-45)">N0</text>
<line x1="456.29" y1="878.30" x2="456.29" y2="879.90" stroke="#555" stroke-width="0.8"/>
<text x="0" y="0" font-size="7.6" fill="#222" text-anchor="end" transform="translate(457.99,884.30) rotate(-45)">N1</text>
<rect x="466.60" y="749.40" width="32.60" height="128.90" fill="white" stroke="none" stroke-width="1"/>
<line x1="466.60" y1="850.15" x2="499.20" y2="850.15" stroke="#f2f2f2" stroke-width="0.5"/>
<line x1="466.60" y1="806.65" x2="499.20" y2="806.65" stroke="#f2f2f2" stroke-width="0.5"/>
<line x1="466.60" y1="763.15" x2="499.20" y2="763.15" stroke="#f2f2f2" stroke-width="0.5"/>
<line x1="466.60" y1="871.90" x2="499.20" y2="871.90" stroke="#ebebeb" stroke-width="0.9"/>
<line x1="466.60" y1="828.40" x2="499.20" y2="828.40" stroke="#ebebeb" stroke-width="0.9"/>
<line x1="466.60" y1="784.90" x2="499.20" y2="784.90" stroke="#ebebeb" stroke-width="0.9"/>
<line x1="472.71" y1="749.40" x2="472.71" y2="878.30" stroke="#ebebeb" stroke-width="0.9"/>
<line x1="482.90" y1="749.40" x2="482.90" y2="878.30" stroke="#ebebeb" stroke-width="0.9"/>
<line x1="493.09" y1="749.40" x2="493.09" y2="878.30" stroke="#ebebeb" stroke-width="0.9"/>
<line x1="472.71" y1="849.72" x2="472.71" y2="857.98" stroke="#444" stroke-width="0.8"/>
<line x1="472.71" y1="866.25" x2="472.71" y2="870.16" stroke="#444" stroke-width="0.8"/>
<rect x="469.66" y="857.98" width="6.11" height="8.26" fill="#c0392b" stroke="#333" stroke-width="0.75"/>
<line x1="469.66" y1="861.98" x2="475.77" y2="861.98" stroke="#222" stroke-width="1.3"/>
<line x1="482.90" y1="859.72" x2="482.90" y2="865.20" stroke="#444" stroke-width="0.8"/>
<line x1="482.90" y1="870.16" x2="482.90" y2="871.47" stroke="#444" stroke-width="0.8"/>
<rect x="479.84" y="865.20" width="6.11" height="4.96" fill="#1f70b6" stroke="#333" stroke-width="0.75"/>
<line x1="479.84" y1="867.55" x2="485.96" y2="867.55" stroke="#222" stroke-width="1.3"/>
<line x1="493.09" y1="864.07" x2="493.09" y2="867.55" stroke="#444" stroke-width="0.8"/>
<line x1="493.09" y1="871.03" x2="493.09" y2="871.47" stroke="#444" stroke-width="0.8"/>
<rect x="490.03" y="867.55" width="6.11" height="3.48" fill="#e8962f" stroke="#333" stroke-width="0.75"/>
<line x1="490.03" y1="868.94" x2="496.14" y2="868.94" stroke="#222" stroke-width="1.3"/>
<path d="M472.71,758.10 L472.71,755.50 L493.09,755.50 L493.09,758.10" fill="none" stroke="#333" stroke-width="0.8"/>
<text x="482.90" y="756.70" font-size="8.4" font-weight="bold" text-anchor="middle" fill="#222">****</text>
<path d="M472.71,769.20 L472.71,766.60 L482.90,766.60 L482.90,769.20" fill="none" stroke="#333" stroke-width="0.8"/>
<text x="477.81" y="767.80" font-size="8.4" font-weight="bold" text-anchor="middle" fill="#222">****</text>
<path d="M482.90,780.20 L482.90,777.60 L493.09,777.60 L493.09,780.20" fill="none" stroke="#333" stroke-width="0.8"/>
<text x="487.99" y="778.80" font-size="8.4" font-weight="bold" text-anchor="middle" fill="#222">**</text>
<rect x="466.60" y="749.40" width="32.60" height="128.90" fill="none" stroke="#555" stroke-width="0.9"/>
<rect x="466.60" y="726.80" width="32.60" height="22.60" fill="#d9d9d9" stroke="#333" stroke-width="1.5"/>
<text x="482.90" y="742.10" font-size="7.0" text-anchor="middle" fill="#1a1a1a">DGKG</text>
<line x1="472.71" y1="878.30" x2="472.71" y2="879.90" stroke="#555" stroke-width="0.8"/>
<text x="0" y="0" font-size="7.6" fill="#222" text-anchor="end" transform="translate(474.41,884.30) rotate(-45)">Ctrl</text>
<line x1="482.90" y1="878.30" x2="482.90" y2="879.90" stroke="#555" stroke-width="0.8"/>
<text x="0" y="0" font-size="7.6" fill="#222" text-anchor="end" transform="translate(484.60,884.30) rotate(-45)">N0</text>
<line x1="493.09" y1="878.30" x2="493.09" y2="879.90" stroke="#555" stroke-width="0.8"/>
<text x="0" y="0" font-size="7.6" fill="#222" text-anchor="end" transform="translate(494.79,884.30) rotate(-45)">N1</text>
<rect x="503.70" y="749.40" width="32.60" height="128.90" fill="white" stroke="none" stroke-width="1"/>
<line x1="503.70" y1="850.15" x2="536.30" y2="850.15" stroke="#f2f2f2" stroke-width="0.5"/>
<line x1="503.70" y1="806.65" x2="536.30" y2="806.65" stroke="#f2f2f2" stroke-width="0.5"/>
<line x1="503.70" y1="763.15" x2="536.30" y2="763.15" stroke="#f2f2f2" stroke-width="0.5"/>
<line x1="503.70" y1="871.90" x2="536.30" y2="871.90" stroke="#ebebeb" stroke-width="0.9"/>
<line x1="503.70" y1="828.40" x2="536.30" y2="828.40" stroke="#ebebeb" stroke-width="0.9"/>
<line x1="503.70" y1="784.90" x2="536.30" y2="784.90" stroke="#ebebeb" stroke-width="0.9"/>
<line x1="509.81" y1="749.40" x2="509.81" y2="878.30" stroke="#ebebeb" stroke-width="0.9"/>
<line x1="520.00" y1="749.40" x2="520.00" y2="878.30" stroke="#ebebeb" stroke-width="0.9"/>
<line x1="530.19" y1="749.40" x2="530.19" y2="878.30" stroke="#ebebeb" stroke-width="0.9"/>
<line x1="509.81" y1="824.92" x2="509.81" y2="835.36" stroke="#444" stroke-width="0.8"/>
<line x1="509.81" y1="864.07" x2="509.81" y2="871.47" stroke="#444" stroke-width="0.8"/>
<rect x="506.76" y="835.36" width="6.11" height="28.71" fill="#c0392b" stroke="#333" stroke-width="0.75"/>
<line x1="506.76" y1="846.67" x2="512.87" y2="846.67" stroke="#222" stroke-width="1.3"/>
<line x1="520.00" y1="826.66" x2="520.00" y2="851.45" stroke="#444" stroke-width="0.8"/>
<line x1="520.00" y1="870.16" x2="520.00" y2="871.90" stroke="#444" stroke-width="0.8"/>
<rect x="516.94" y="851.45" width="6.11" height="18.71" fill="#1f70b6" stroke="#333" stroke-width="0.75"/>
<line x1="516.94" y1="863.37" x2="523.06" y2="863.37" stroke="#222" stroke-width="1.3"/>
<line x1="530.19" y1="835.36" x2="530.19" y2="856.24" stroke="#444" stroke-width="0.8"/>
<line x1="530.19" y1="871.90" x2="530.19" y2="871.90" stroke="#444" stroke-width="0.8"/>
<rect x="527.13" y="856.24" width="6.11" height="15.66" fill="#e8962f" stroke="#333" stroke-width="0.75"/>
<line x1="527.13" y1="868.94" x2="533.24" y2="868.94" stroke="#222" stroke-width="1.3"/>
<path d="M509.81,758.10 L509.81,755.50 L530.19,755.50 L530.19,758.10" fill="none" stroke="#333" stroke-width="0.8"/>
<text x="520.00" y="756.70" font-size="8.4" font-weight="bold" text-anchor="middle" fill="#222">****</text>
<path d="M509.81,769.20 L509.81,766.60 L520.00,766.60 L520.00,769.20" fill="none" stroke="#333" stroke-width="0.8"/>
<text x="514.91" y="767.80" font-size="8.4" font-weight="bold" text-anchor="middle" fill="#222">****</text>
<path d="M520.00,780.20 L520.00,777.60 L530.19,777.60 L530.19,780.20" fill="none" stroke="#333" stroke-width="0.8"/>
<text x="525.09" y="778.80" font-size="8.4" font-weight="bold" text-anchor="middle" fill="#222">**</text>
<rect x="503.70" y="749.40" width="32.60" height="128.90" fill="none" stroke="#555" stroke-width="0.9"/>
<rect x="503.70" y="726.80" width="32.60" height="22.60" fill="#d9d9d9" stroke="#333" stroke-width="1.5"/>
<text x="520.00" y="742.10" font-size="7.0" text-anchor="middle" fill="#1a1a1a">DPYS</text>
<line x1="509.81" y1="878.30" x2="509.81" y2="879.90" stroke="#555" stroke-width="0.8"/>
<text x="0" y="0" font-size="7.6" fill="#222" text-anchor="end" transform="translate(511.51,884.30) rotate(-45)">Ctrl</text>
<line x1="520.00" y1="878.30" x2="520.00" y2="879.90" stroke="#555" stroke-width="0.8"/>
<text x="0" y="0" font-size="7.6" fill="#222" text-anchor="end" transform="translate(521.70,884.30) rotate(-45)">N0</text>
<line x1="530.19" y1="878.30" x2="530.19" y2="879.90" stroke="#555" stroke-width="0.8"/>
<text x="0" y="0" font-size="7.6" fill="#222" text-anchor="end" transform="translate(531.89,884.30) rotate(-45)">N1</text>
<rect x="541.00" y="749.40" width="32.60" height="128.90" fill="white" stroke="none" stroke-width="1"/>
<line x1="541.00" y1="850.15" x2="573.60" y2="850.15" stroke="#f2f2f2" stroke-width="0.5"/>
<line x1="541.00" y1="806.65" x2="573.60" y2="806.65" stroke="#f2f2f2" stroke-width="0.5"/>
<line x1="541.00" y1="763.15" x2="573.60" y2="763.15" stroke="#f2f2f2" stroke-width="0.5"/>
<line x1="541.00" y1="871.90" x2="573.60" y2="871.90" stroke="#ebebeb" stroke-width="0.9"/>
<line x1="541.00" y1="828.40" x2="573.60" y2="828.40" stroke="#ebebeb" stroke-width="0.9"/>
<line x1="541.00" y1="784.90" x2="573.60" y2="784.90" stroke="#ebebeb" stroke-width="0.9"/>
<line x1="547.11" y1="749.40" x2="547.11" y2="878.30" stroke="#ebebeb" stroke-width="0.9"/>
<line x1="557.30" y1="749.40" x2="557.30" y2="878.30" stroke="#ebebeb" stroke-width="0.9"/>
<line x1="567.49" y1="749.40" x2="567.49" y2="878.30" stroke="#ebebeb" stroke-width="0.9"/>
<line x1="547.11" y1="844.93" x2="547.11" y2="850.15" stroke="#444" stroke-width="0.8"/>
<line x1="547.11" y1="862.33" x2="547.11" y2="870.16" stroke="#444" stroke-width="0.8"/>
<rect x="544.06" y="850.15" width="6.11" height="12.18" fill="#c0392b" stroke="#333" stroke-width="0.75"/>
<line x1="544.06" y1="856.24" x2="550.17" y2="856.24" stroke="#222" stroke-width="1.3"/>
<line x1="557.30" y1="853.63" x2="557.30" y2="862.33" stroke="#444" stroke-width="0.8"/>
<line x1="557.30" y1="869.73" x2="557.30" y2="871.90" stroke="#444" stroke-width="0.8"/>
<rect x="554.24" y="862.33" width="6.11" height="7.40" fill="#1f70b6" stroke="#333" stroke-width="0.75"/>
<line x1="554.24" y1="866.16" x2="560.36" y2="866.16" stroke="#222" stroke-width="1.3"/>
<line x1="567.49" y1="858.33" x2="567.49" y2="865.81" stroke="#444" stroke-width="0.8"/>
<line x1="567.49" y1="871.73" x2="567.49" y2="871.90" stroke="#444" stroke-width="0.8"/>
<rect x="564.43" y="865.81" width="6.11" height="5.92" fill="#e8962f" stroke="#333" stroke-width="0.75"/>
<line x1="564.43" y1="868.77" x2="570.54" y2="868.77" stroke="#222" stroke-width="1.3"/>
<path d="M547.11,758.10 L547.11,755.50 L567.49,755.50 L567.49,758.10" fill="none" stroke="#333" stroke-width="0.8"/>
<text x="557.30" y="756.70" font-size="8.4" font-weight="bold" text-anchor="middle" fill="#222">****</text>
<path d="M547.11,769.20 L547.11,766.60 L557.30,766.60 L557.30,769.20" fill="none" stroke="#333" stroke-width="0.8"/>
<text x="552.21" y="767.80" font-size="8.4" font-weight="bold" text-anchor="middle" fill="#222">****</text>
<path d="M557.30,780.20 L557.30,777.60 L567.49,777.60 L567.49,780.20" fill="none" stroke="#333" stroke-width="0.8"/>
<text x="562.39" y="778.80" font-size="8.4" font-weight="bold" text-anchor="middle" fill="#222">****</text>
<rect x="541.00" y="749.40" width="32.60" height="128.90" fill="none" stroke="#555" stroke-width="0.9"/>
<rect x="541.00" y="726.80" width="32.60" height="22.60" fill="#d9d9d9" stroke="#333" stroke-width="1.5"/>
<text x="557.30" y="742.10" font-size="7.0" text-anchor="middle" fill="#1a1a1a">PLA2G2C</text>
<line x1="547.11" y1="878.30" x2="547.11" y2="879.90" stroke="#555" stroke-width="0.8"/>
<text x="0" y="0" font-size="7.6" fill="#222" text-anchor="end" transform="translate(548.81,884.30) rotate(-45)">Ctrl</text>
<line x1="557.30" y1="878.30" x2="557.30" y2="879.90" stroke="#555" stroke-width="0.8"/>
<text x="0" y="0" font-size="7.6" fill="#222" text-anchor="end" transform="translate(559.00,884.30) rotate(-45)">N0</text>
<line x1="567.49" y1="878.30" x2="567.49" y2="879.90" stroke="#555" stroke-width="0.8"/>
<text x="0" y="0" font-size="7.6" fill="#222" text-anchor="end" transform="translate(569.19,884.30) rotate(-45)">N1</text>
<rect x="577.80" y="749.40" width="32.60" height="128.90" fill="white" stroke="none" stroke-width="1"/>
<line x1="577.80" y1="850.15" x2="610.40" y2="850.15" stroke="#f2f2f2" stroke-width="0.5"/>
<line x1="577.80" y1="806.65" x2="610.40" y2="806.65" stroke="#f2f2f2" stroke-width="0.5"/>
<line x1="577.80" y1="763.15" x2="610.40" y2="763.15" stroke="#f2f2f2" stroke-width="0.5"/>
<line x1="577.80" y1="871.90" x2="610.40" y2="871.90" stroke="#ebebeb" stroke-width="0.9"/>
<line x1="577.80" y1="828.40" x2="610.40" y2="828.40" stroke="#ebebeb" stroke-width="0.9"/>
<line x1="577.80" y1="784.90" x2="610.40" y2="784.90" stroke="#ebebeb" stroke-width="0.9"/>
<line x1="583.91" y1="749.40" x2="583.91" y2="878.30" stroke="#ebebeb" stroke-width="0.9"/>
<line x1="594.10" y1="749.40" x2="594.10" y2="878.30" stroke="#ebebeb" stroke-width="0.9"/>
<line x1="604.29" y1="749.40" x2="604.29" y2="878.30" stroke="#ebebeb" stroke-width="0.9"/>
<line x1="583.91" y1="812.74" x2="583.91" y2="843.71" stroke="#444" stroke-width="0.8"/>
<line x1="583.91" y1="869.38" x2="583.91" y2="871.90" stroke="#444" stroke-width="0.8"/>
<rect x="580.86" y="843.71" width="6.11" height="25.66" fill="#c0392b" stroke="#333" stroke-width="0.75"/>
<line x1="580.86" y1="863.63" x2="586.97" y2="863.63" stroke="#222" stroke-width="1.3"/>
<line x1="594.10" y1="844.93" x2="594.10" y2="860.15" stroke="#444" stroke-width="0.8"/>
<line x1="594.10" y1="871.03" x2="594.10" y2="871.90" stroke="#444" stroke-width="0.8"/>
<rect x="591.04" y="860.15" width="6.11" height="10.88" fill="#1f70b6" stroke="#333" stroke-width="0.75"/>
<line x1="591.04" y1="865.64" x2="597.16" y2="865.64" stroke="#222" stroke-width="1.3"/>
<line x1="604.29" y1="845.80" x2="604.29" y2="860.59" stroke="#444" stroke-width="0.8"/>
<line x1="604.29" y1="871.03" x2="604.29" y2="871.90" stroke="#444" stroke-width="0.8"/>
<rect x="601.23" y="860.59" width="6.11" height="10.44" fill="#e8962f" stroke="#333" stroke-width="0.75"/>
<line x1="601.23" y1="867.90" x2="607.34" y2="867.90" stroke="#222" stroke-width="1.3"/>
<path d="M583.91,758.10 L583.91,755.50 L604.29,755.50 L604.29,758.10" fill="none" stroke="#333" stroke-width="0.8"/>
<text x="594.10" y="756.70" font-size="8.4" font-weight="bold" text-anchor="middle" fill="#222">**</text>
<path d="M583.91,769.20 L583.91,766.60 L594.10,766.60 L594.10,769.20" fill="none" stroke="#333" stroke-width="0.8"/>
<text x="589.01" y="767.80" font-size="8.4" font-weight="bold" text-anchor="middle" fill="#222">**</text>
<rect x="577.80" y="749.40" width="32.60" height="128.90" fill="none" stroke="#555" stroke-width="0.9"/>
<rect x="577.80" y="726.80" width="32.60" height="22.60" fill="#d9d9d9" stroke="#333" stroke-width="1.5"/>
<text x="594.10" y="742.10" font-size="7.0" text-anchor="middle" fill="#1a1a1a">PLA2G4D</text>
<line x1="583.91" y1="878.30" x2="583.91" y2="879.90" stroke="#555" stroke-width="0.8"/>
<text x="0" y="0" font-size="7.6" fill="#222" text-anchor="end" transform="translate(585.61,884.30) rotate(-45)">Ctrl</text>
<line x1="594.10" y1="878.30" x2="594.10" y2="879.90" stroke="#555" stroke-width="0.8"/>
<text x="0" y="0" font-size="7.6" fill="#222" text-anchor="end" transform="translate(595.80,884.30) rotate(-45)">N0</text>
<line x1="604.29" y1="878.30" x2="604.29" y2="879.90" stroke="#555" stroke-width="0.8"/>
<text x="0" y="0" font-size="7.6" fill="#222" text-anchor="end" transform="translate(605.99,884.30) rotate(-45)">N1</text>
<rect x="614.00" y="749.40" width="32.60" height="128.90" fill="white" stroke="none" stroke-width="1"/>
<line x1="614.00" y1="850.15" x2="646.60" y2="850.15" stroke="#f2f2f2" stroke-width="0.5"/>
<line x1="614.00" y1="806.65" x2="646.60" y2="806.65" stroke="#f2f2f2" stroke-width="0.5"/>
<line x1="614.00" y1="763.15" x2="646.60" y2="763.15" stroke="#f2f2f2" stroke-width="0.5"/>
<line x1="614.00" y1="871.90" x2="646.60" y2="871.90" stroke="#ebebeb" stroke-width="0.9"/>
<line x1="614.00" y1="828.40" x2="646.60" y2="828.40" stroke="#ebebeb" stroke-width="0.9"/>
<line x1="614.00" y1="784.90" x2="646.60" y2="784.90" stroke="#ebebeb" stroke-width="0.9"/>
<line x1="620.11" y1="749.40" x2="620.11" y2="878.30" stroke="#ebebeb" stroke-width="0.9"/>
<line x1="630.30" y1="749.40" x2="630.30" y2="878.30" stroke="#ebebeb" stroke-width="0.9"/>
<line x1="640.49" y1="749.40" x2="640.49" y2="878.30" stroke="#ebebeb" stroke-width="0.9"/>
<line x1="620.11" y1="823.18" x2="620.11" y2="835.79" stroke="#444" stroke-width="0.8"/>
<line x1="620.11" y1="845.80" x2="620.11" y2="854.50" stroke="#444" stroke-width="0.8"/>
<rect x="617.06" y="835.79" width="6.11" height="10.00" fill="#c0392b" stroke="#333" stroke-width="0.75"/>
<line x1="617.06" y1="840.23" x2="623.17" y2="840.23" stroke="#222" stroke-width="1.3"/>
<line x1="630.30" y1="831.01" x2="630.30" y2="840.84" stroke="#444" stroke-width="0.8"/>
<line x1="630.30" y1="847.54" x2="630.30" y2="857.11" stroke="#444" stroke-width="0.8"/>
<rect x="627.24" y="840.84" width="6.11" height="6.70" fill="#1f70b6" stroke="#333" stroke-width="0.75"/>
<line x1="627.24" y1="843.71" x2="633.36" y2="843.71" stroke="#222" stroke-width="1.3"/>
<line x1="640.49" y1="832.75" x2="640.49" y2="840.84" stroke="#444" stroke-width="0.8"/>
<line x1="640.49" y1="850.41" x2="640.49" y2="861.46" stroke="#444" stroke-width="0.8"/>
<rect x="637.43" y="840.84" width="6.11" height="9.57" fill="#e8962f" stroke="#333" stroke-width="0.75"/>
<line x1="637.43" y1="845.54" x2="643.54" y2="845.54" stroke="#222" stroke-width="1.3"/>
<path d="M620.11,758.10 L620.11,755.50 L640.49,755.50 L640.49,758.10" fill="none" stroke="#333" stroke-width="0.8"/>
<text x="630.30" y="756.70" font-size="8.4" font-weight="bold" text-anchor="middle" fill="#222">**</text>
<path d="M620.11,769.20 L620.11,766.60 L630.30,766.60 L630.30,769.20" fill="none" stroke="#333" stroke-width="0.8"/>
<text x="625.21" y="767.80" font-size="8.4" font-weight="bold" text-anchor="middle" fill="#222">***</text>
<rect x="614.00" y="749.40" width="32.60" height="128.90" fill="none" stroke="#555" stroke-width="0.9"/>
<rect x="614.00" y="726.80" width="32.60" height="22.60" fill="#d9d9d9" stroke="#333" stroke-width="1.5"/>
<text x="630.30" y="742.10" font-size="7.0" text-anchor="middle" fill="#1a1a1a">PLA2G5</text>
<line x1="620.11" y1="878.30" x2="620.11" y2="879.90" stroke="#555" stroke-width="0.8"/>
<text x="0" y="0" font-size="7.6" fill="#222" text-anchor="end" transform="translate(621.81,884.30) rotate(-45)">Ctrl</text>
<line x1="630.30" y1="878.30" x2="630.30" y2="879.90" stroke="#555" stroke-width="0.8"/>
<text x="0" y="0" font-size="7.6" fill="#222" text-anchor="end" transform="translate(632.00,884.30) rotate(-45)">N0</text>
<line x1="640.49" y1="878.30" x2="640.49" y2="879.90" stroke="#555" stroke-width="0.8"/>
<text x="0" y="0" font-size="7.6" fill="#222" text-anchor="end" transform="translate(642.19,884.30) rotate(-45)">N1</text>
<rect x="651.00" y="749.40" width="32.60" height="128.90" fill="white" stroke="none" stroke-width="1"/>
<line x1="651.00" y1="850.15" x2="683.60" y2="850.15" stroke="#f2f2f2" stroke-width="0.5"/>
<line x1="651.00" y1="806.65" x2="683.60" y2="806.65" stroke="#f2f2f2" stroke-width="0.5"/>
<line x1="651.00" y1="763.15" x2="683.60" y2="763.15" stroke="#f2f2f2" stroke-width="0.5"/>
<line x1="651.00" y1="871.90" x2="683.60" y2="871.90" stroke="#ebebeb" stroke-width="0.9"/>
<line x1="651.00" y1="828.40" x2="683.60" y2="828.40" stroke="#ebebeb" stroke-width="0.9"/>
<line x1="651.00" y1="784.90" x2="683.60" y2="784.90" stroke="#ebebeb" stroke-width="0.9"/>
<line x1="657.11" y1="749.40" x2="657.11" y2="878.30" stroke="#ebebeb" stroke-width="0.9"/>
<line x1="667.30" y1="749.40" x2="667.30" y2="878.30" stroke="#ebebeb" stroke-width="0.9"/>
<line x1="677.49" y1="749.40" x2="677.49" y2="878.30" stroke="#ebebeb" stroke-width="0.9"/>
<line x1="657.11" y1="797.08" x2="657.11" y2="807.52" stroke="#444" stroke-width="0.8"/>
<line x1="657.11" y1="824.92" x2="657.11" y2="847.54" stroke="#444" stroke-width="0.8"/>
<rect x="654.06" y="807.52" width="6.11" height="17.40" fill="#c0392b" stroke="#333" stroke-width="0.75"/>
<line x1="654.06" y1="815.35" x2="660.17" y2="815.35" stroke="#222" stroke-width="1.3"/>
<line x1="667.30" y1="797.08" x2="667.30" y2="812.74" stroke="#444" stroke-width="0.8"/>
<line x1="667.30" y1="833.62" x2="667.30" y2="861.46" stroke="#444" stroke-width="0.8"/>
<rect x="664.24" y="812.74" width="6.11" height="20.88" fill="#1f70b6" stroke="#333" stroke-width="0.75"/>
<line x1="664.24" y1="822.75" x2="670.36" y2="822.75" stroke="#222" stroke-width="1.3"/>
<line x1="677.49" y1="808.39" x2="677.49" y2="821.44" stroke="#444" stroke-width="0.8"/>
<line x1="677.49" y1="844.93" x2="677.49" y2="854.50" stroke="#444" stroke-width="0.8"/>
<rect x="674.43" y="821.44" width="6.11" height="23.49" fill="#e8962f" stroke="#333" stroke-width="0.75"/>
<line x1="674.43" y1="832.75" x2="680.54" y2="832.75" stroke="#222" stroke-width="1.3"/>
<path d="M657.11,758.10 L657.11,755.50 L677.49,755.50 L677.49,758.10" fill="none" stroke="#333" stroke-width="0.8"/>
<text x="667.30" y="756.70" font-size="8.4" font-weight="bold" text-anchor="middle" fill="#222">****</text>
<path d="M657.11,769.20 L657.11,766.60 L667.30,766.60 L667.30,769.20" fill="none" stroke="#333" stroke-width="0.8"/>
<text x="662.21" y="767.80" font-size="8.4" font-weight="bold" text-anchor="middle" fill="#222">***</text>
<path d="M667.30,780.20 L667.30,777.60 L677.49,777.60 L677.49,780.20" fill="none" stroke="#333" stroke-width="0.8"/>
<text x="672.39" y="778.80" font-size="8.4" font-weight="bold" text-anchor="middle" fill="#222">****</text>
<rect x="651.00" y="749.40" width="32.60" height="128.90" fill="none" stroke="#555" stroke-width="0.9"/>
<rect x="651.00" y="726.80" width="32.60" height="22.60" fill="#d9d9d9" stroke="#333" stroke-width="1.5"/>
<text x="667.30" y="742.10" font-size="7.0" text-anchor="middle" fill="#1a1a1a">SLC22A3</text>
<line x1="657.11" y1="878.30" x2="657.11" y2="879.90" stroke="#555" stroke-width="0.8"/>
<text x="0" y="0" font-size="7.6" fill="#222" text-anchor="end" transform="translate(658.81,884.30) rotate(-45)">Ctrl</text>
<line x1="667.30" y1="878.30" x2="667.30" y2="879.90" stroke="#555" stroke-width="0.8"/>
<text x="0" y="0" font-size="7.6" fill="#222" text-anchor="end" transform="translate(669.00,884.30) rotate(-45)">N0</text>
<line x1="677.49" y1="878.30" x2="677.49" y2="879.90" stroke="#555" stroke-width="0.8"/>
<text x="0" y="0" font-size="7.6" fill="#222" text-anchor="end" transform="translate(679.19,884.30) rotate(-45)">N1</text>
<text x="24.05" y="874.90" font-size="8.5" text-anchor="end" fill="#333">0</text>
<text x="24.05" y="831.40" font-size="8.5" text-anchor="end" fill="#333">5</text>
<text x="24.05" y="787.90" font-size="8.5" text-anchor="end" fill="#333">10</text>
<text x="0" y="0" font-size="9.9" fill="#231f20" text-anchor="middle" transform="translate(12.80,815.50) rotate(-90)">Log<tspan dy="2.8">10</tspan><tspan dy="-2.8"> (Gene expression)</tspan></text>
</svg>
</body></html>
